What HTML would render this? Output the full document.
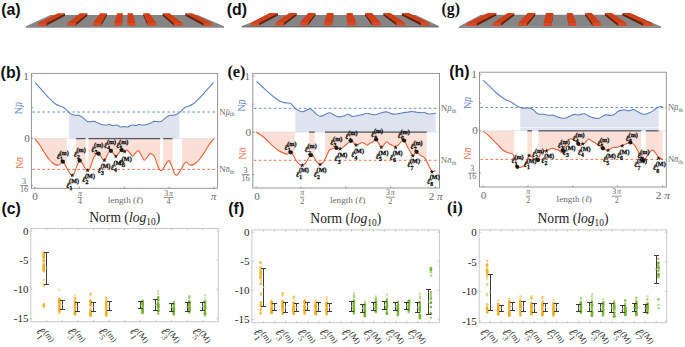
<!DOCTYPE html>
<html><head><meta charset="utf-8"><title>figure</title>
<style>html,body{margin:0;padding:0;background:#fff;width:685px;height:347px;overflow:hidden}svg{display:block}</style>
</head><body>
<svg width="685" height="347" viewBox="0 0 685 347">
<rect width="685" height="347" fill="#fff"/>
<polygon points="26,26.2 50.5,15.1 197.8,15.1 224,26.2" fill="#858585"/>
<rect x="26" y="26.2" width="198" height="1.4" fill="#6f6f6f"/>
<polygon points="46.3,23 46.3,25.8 65,15.8 65,13.2" fill="#6e1f0a"/>
<polygon points="37.8,23 57.9,13.2 65,13.2 46.3,23" fill="#d13f16"/>
<rect x="37.8" y="23" width="8.5" height="2.8" fill="#d94a26"/>
<polygon points="75.6,23 75.6,25.8 87.4,15.8 87.4,13.2" fill="#6e1f0a"/>
<polygon points="67.4,23 80,13.2 87.4,13.2 75.6,23" fill="#d13f16"/>
<rect x="67.4" y="23" width="8.2" height="2.8" fill="#d94a26"/>
<polygon points="101.2,23 101.2,25.8 106.8,15.8 106.8,13.2" fill="#6e1f0a"/>
<polygon points="93,23 100.2,13.2 106.8,13.2 101.2,23" fill="#d13f16"/>
<rect x="93" y="23" width="8.2" height="2.8" fill="#d94a26"/>
<polygon points="122.2,23 122.2,25.8 122.8,15.8 122.8,13.2" fill="#6e1f0a"/>
<polygon points="114.4,23 117.2,13.2 122.8,13.2 122.2,23" fill="#d13f16"/>
<rect x="114.4" y="23" width="7.8" height="2.8" fill="#d94a26"/>
<polygon points="127.5,23 127.5,25.8 127.6,15.8 127.6,13.2" fill="#6e1f0a"/>
<polygon points="127.5,23 127.6,13.2 132.8,13.2 135.4,23" fill="#d13f16"/>
<rect x="127.5" y="23" width="7.9" height="2.8" fill="#d94a26"/>
<polygon points="147.7,23 147.7,25.8 143.3,15.8 143.3,13.2" fill="#6e1f0a"/>
<polygon points="147.7,23 143.3,13.2 149.4,13.2 156.4,23" fill="#d13f16"/>
<rect x="147.7" y="23" width="8.7" height="2.8" fill="#d94a26"/>
<polygon points="174,23 174,25.8 162.6,15.8 162.6,13.2" fill="#6e1f0a"/>
<polygon points="174,23 162.6,13.2 169.6,13.2 182.7,23" fill="#d13f16"/>
<rect x="174" y="23" width="8.7" height="2.8" fill="#d94a26"/>
<polygon points="203.7,23 203.7,25.8 185.3,15.8 185.3,13.2" fill="#6e1f0a"/>
<polygon points="203.7,23 185.3,13.2 192.3,13.2 212,23" fill="#d13f16"/>
<rect x="203.7" y="23" width="8.3" height="2.8" fill="#d94a26"/>
<polygon points="241.9,26 271.3,14.9 415.8,14.9 438.8,26" fill="#858585"/>
<rect x="241.9" y="26" width="196.9" height="1.4" fill="#6f6f6f"/>
<polygon points="259.1,22.8 259.1,25.6 277.9,15.6 277.9,13" fill="#6e1f0a"/>
<polygon points="250.6,22.8 269.7,13 277.9,13 259.1,22.8" fill="#d13f16"/>
<rect x="250.6" y="22.8" width="8.5" height="2.8" fill="#d94a26"/>
<polygon points="283.6,22.8 283.6,25.6 296.7,15.6 296.7,13" fill="#6e1f0a"/>
<polygon points="275.4,22.8 289.3,13 296.7,13 283.6,22.8" fill="#d13f16"/>
<rect x="275.4" y="22.8" width="8.2" height="2.8" fill="#d94a26"/>
<polygon points="308.1,22.8 308.1,25.6 315.5,15.6 315.5,13" fill="#6e1f0a"/>
<polygon points="300,22.8 308.1,13 315.5,13 308.1,22.8" fill="#d13f16"/>
<rect x="300" y="22.8" width="8.1" height="2.8" fill="#d94a26"/>
<polygon points="332.6,22.8 332.6,25.6 333.5,15.6 333.5,13" fill="#6e1f0a"/>
<polygon points="324.1,22.8 326.9,13 333.5,13 332.6,22.8" fill="#d13f16"/>
<rect x="324.1" y="22.8" width="8.5" height="2.8" fill="#d94a26"/>
<polygon points="347.5,22.8 347.5,25.6 346.6,15.6 346.6,13" fill="#6e1f0a"/>
<polygon points="347.5,22.8 346.6,13 352.4,13 356.3,22.8" fill="#d13f16"/>
<rect x="347.5" y="22.8" width="8.8" height="2.8" fill="#d94a26"/>
<polygon points="372,22.8 372,25.6 365,15.6 365,13" fill="#6e1f0a"/>
<polygon points="372,22.8 365,13 372,13 380.8,22.8" fill="#d13f16"/>
<rect x="372" y="22.8" width="8.8" height="2.8" fill="#d94a26"/>
<polygon points="396.6,22.8 396.6,25.6 383.4,15.6 383.4,13" fill="#6e1f0a"/>
<polygon points="396.6,22.8 383.4,13 390.4,13 405.3,22.8" fill="#d13f16"/>
<rect x="396.6" y="22.8" width="8.7" height="2.8" fill="#d94a26"/>
<polygon points="421.1,22.8 421.1,25.6 401.8,15.6 401.8,13" fill="#6e1f0a"/>
<polygon points="421.1,22.8 401.8,13 408.8,13 429.9,22.8" fill="#d13f16"/>
<rect x="421.1" y="22.8" width="8.8" height="2.8" fill="#d94a26"/>
<polygon points="458.8,26.4 481,14.8 633.8,14.8 661,26.4" fill="#858585"/>
<rect x="458.8" y="26.4" width="202.2" height="1.4" fill="#6f6f6f"/>
<polygon points="476.5,23.2 476.5,26 496.4,15.5 496.4,12.9" fill="#6e1f0a"/>
<polygon points="466.4,23.2 487.9,12.9 496.4,12.9 476.5,23.2" fill="#d13f16"/>
<rect x="466.4" y="23.2" width="10.1" height="2.8" fill="#d94a26"/>
<polygon points="500.6,23.2 500.6,26 514.4,15.5 514.4,12.9" fill="#6e1f0a"/>
<polygon points="492.6,23.2 507.8,12.9 514.4,12.9 500.6,23.2" fill="#d13f16"/>
<rect x="492.6" y="23.2" width="8" height="2.8" fill="#d94a26"/>
<polygon points="526.8,23.2 526.8,26 535.3,15.5 535.3,12.9" fill="#6e1f0a"/>
<polygon points="518.2,23.2 527.7,12.9 535.3,12.9 526.8,23.2" fill="#d13f16"/>
<rect x="518.2" y="23.2" width="8.6" height="2.8" fill="#d94a26"/>
<polygon points="551.4,23.2 551.4,26 553.3,15.5 553.3,12.9" fill="#6e1f0a"/>
<polygon points="543.5,23.2 546.1,12.9 553.3,12.9 551.4,23.2" fill="#d13f16"/>
<rect x="543.5" y="23.2" width="7.9" height="2.8" fill="#d94a26"/>
<polygon points="568.7,23.2 568.7,26 566.9,15.5 566.9,12.9" fill="#6e1f0a"/>
<polygon points="568.7,23.2 566.9,12.9 572.5,12.9 576.4,23.2" fill="#d13f16"/>
<rect x="568.7" y="23.2" width="7.7" height="2.8" fill="#d94a26"/>
<polygon points="592.7,23.2 592.7,26 585.1,15.5 585.1,12.9" fill="#6e1f0a"/>
<polygon points="592.7,23.2 585.1,12.9 591.8,12.9 600.9,23.2" fill="#d13f16"/>
<rect x="592.7" y="23.2" width="8.2" height="2.8" fill="#d94a26"/>
<polygon points="618.1,23.2 618.1,26 604.9,15.5 604.9,12.9" fill="#6e1f0a"/>
<polygon points="618.1,23.2 604.9,12.9 611.9,12.9 626.8,23.2" fill="#d13f16"/>
<rect x="618.1" y="23.2" width="8.7" height="2.8" fill="#d94a26"/>
<polygon points="643.5,23.2 643.5,26 622.4,15.5 622.4,12.9" fill="#6e1f0a"/>
<polygon points="643.5,23.2 622.4,12.9 630.3,12.9 652.8,23.2" fill="#d13f16"/>
<rect x="643.5" y="23.2" width="9.3" height="2.8" fill="#d94a26"/>
<text x="1.2" y="14.7" font-family='"Liberation Sans", sans-serif' font-weight="bold" font-size="15.9" fill="#111">(a)</text>
<text x="226.8" y="14.5" font-family='"Liberation Sans", sans-serif' font-weight="bold" font-size="15.9" fill="#111">(d)</text>
<text x="441.6" y="13.8" font-family='"Liberation Serif", serif' font-weight="bold" font-size="15.8" fill="#111">(g)</text>
<text x="0.6" y="77.5" font-family='"Liberation Sans", sans-serif' font-weight="bold" font-size="15.9" fill="#111">(b)</text>
<text x="227.4" y="76.5" font-family='"Liberation Serif", serif' font-weight="bold" font-size="16.3" fill="#111">(e)</text>
<text x="449.3" y="77.3" font-family='"Liberation Sans", sans-serif' font-weight="bold" font-size="15.9" fill="#111">(h)</text>
<text x="1.4" y="214" font-family='"Liberation Sans", sans-serif' font-weight="bold" font-size="15.9" fill="#111">(c)</text>
<text x="228.3" y="214" font-family='"Liberation Sans", sans-serif' font-weight="bold" font-size="15.9" fill="#111">(f)</text>
<text x="447" y="213.2" font-family='"Liberation Serif", serif' font-weight="bold" font-size="16.6" fill="#111">(i)</text>
<defs><clipPath id="c1"><rect x="69" y="73.4" width="110.5" height="65.2"/></clipPath></defs>
<path d="M35,82.5 C35.85,83.43 38.42,86.22 40.1,88.1 C41.78,89.98 43.42,91.95 45.1,93.8 C46.78,95.65 48.52,97.55 50.2,99.2 C51.88,100.85 53.53,102.52 55.2,103.7 C56.87,104.88 58.85,105.7 60.2,106.3 C61.55,106.9 62.28,106.7 63.3,107.3 C64.32,107.9 65.3,108.97 66.3,109.9 C67.3,110.83 68.3,112.15 69.3,112.9 C70.3,113.65 71.12,113.98 72.3,114.4 C73.48,114.82 75.22,115.23 76.4,115.4 C77.58,115.57 78.4,115.07 79.4,115.4 C80.4,115.73 81.05,116.4 82.4,117.4 C83.75,118.4 86.15,120.7 87.5,121.4 C88.85,122.1 89.33,121.6 90.5,121.6 C91.67,121.6 93.33,121.2 94.5,121.4 C95.67,121.6 96.15,122.23 97.5,122.8 C98.85,123.37 101.08,124.43 102.6,124.8 C104.12,125.17 105.43,125.07 106.6,125 C107.77,124.93 108.58,124.3 109.6,124.4 C110.62,124.5 111.52,125.5 112.7,125.6 C113.88,125.7 115.37,124.77 116.7,125 C118.03,125.23 119.43,126.73 120.7,127 C121.97,127.27 123.1,126.6 124.3,126.6 C125.5,126.6 126.63,127.27 127.9,127 C129.17,126.73 130.57,125.23 131.9,125 C133.23,124.77 134.72,125.7 135.9,125.6 C137.08,125.5 137.98,124.5 139,124.4 C140.02,124.3 140.83,124.93 142,125 C143.17,125.07 144.48,125.17 146,124.8 C147.52,124.43 149.75,123.37 151.1,122.8 C152.45,122.23 152.93,121.6 154.1,121.4 C155.27,121.2 156.93,121.6 158.1,121.6 C159.27,121.6 159.75,122.1 161.1,121.4 C162.45,120.7 164.85,118.4 166.2,117.4 C167.55,116.4 168.2,115.73 169.2,115.4 C170.2,115.07 171.02,115.57 172.2,115.4 C173.38,115.23 175.12,114.82 176.3,114.4 C177.48,113.98 178.3,113.65 179.3,112.9 C180.3,112.15 181.3,110.83 182.3,109.9 C183.3,108.97 184.28,107.9 185.3,107.3 C186.32,106.7 187.05,106.9 188.4,106.3 C189.75,105.7 191.73,104.88 193.4,103.7 C195.07,102.52 196.72,100.85 198.4,99.2 C200.08,97.55 201.82,95.65 203.5,93.8 C205.18,91.95 206.82,89.98 208.5,88.1 C210.18,86.22 212.75,83.43 213.6,82.5 L213.6,138.6 L35,138.6 Z" fill="#dee4ef" clip-path="url(#c1)"/>
<defs><clipPath id="c2"><rect x="34.6" y="138.6" width="32" height="49.7"/><rect x="76.1" y="138.6" width="9.4" height="49.7"/><rect x="88.5" y="138.6" width="71.6" height="49.7"/><rect x="163.1" y="138.6" width="9.4" height="49.7"/><rect x="182" y="138.6" width="32" height="49.7"/></clipPath></defs>
<path d="M34.6,138.6 C35.15,139.23 36.87,141.03 37.9,142.4 C38.93,143.77 39.82,145.25 40.8,146.8 C41.78,148.35 42.82,150.15 43.8,151.7 C44.78,153.25 45.72,154.72 46.7,156.1 C47.68,157.48 48.72,158.85 49.7,160 C50.68,161.15 51.63,162.23 52.6,163 C53.57,163.77 54.6,164.25 55.5,164.6 C56.4,164.95 57.25,165.13 58,165.1 C58.75,165.07 59.32,164.92 60,164.4 C60.68,163.88 61.38,162.12 62.1,162 C62.82,161.88 63.55,162.73 64.3,163.7 C65.05,164.67 65.75,166.35 66.6,167.8 C67.45,169.25 68.47,171.15 69.4,172.4 C70.33,173.65 71.37,175.22 72.2,175.3 C73.03,175.38 73.65,174.38 74.4,172.9 C75.15,171.42 75.93,168.32 76.7,166.4 C77.47,164.48 78.45,162.33 79,161.4 C79.55,160.47 79.53,160.58 80,160.8 C80.47,161.02 81.03,161.62 81.8,162.7 C82.57,163.78 83.67,165.98 84.6,167.3 C85.53,168.62 86.57,170.37 87.4,170.6 C88.23,170.83 88.92,169.78 89.6,168.7 C90.28,167.62 90.88,165.78 91.5,164.1 C92.12,162.42 92.7,160.05 93.3,158.6 C93.9,157.15 94.48,156.17 95.1,155.4 C95.72,154.63 96.42,154.28 97,154 C97.58,153.72 97.85,153.15 98.6,153.7 C99.35,154.25 100.53,156.22 101.5,157.3 C102.47,158.38 103.43,160.55 104.4,160.2 C105.37,159.85 106.33,156.8 107.3,155.2 C108.27,153.6 109.23,150.97 110.2,150.6 C111.17,150.23 112.15,152.05 113.1,153 C114.05,153.95 114.95,156.3 115.9,156.3 C116.85,156.3 117.83,154.03 118.8,153 C119.77,151.97 120.78,150.33 121.7,150.1 C122.62,149.87 123.43,151.6 124.3,151.6 C125.17,151.6 125.98,149.87 126.9,150.1 C127.82,150.33 128.83,151.97 129.8,153 C130.77,154.03 131.75,156.3 132.7,156.3 C133.65,156.3 134.55,153.95 135.5,153 C136.45,152.05 137.43,150.23 138.4,150.6 C139.37,150.97 140.33,153.6 141.3,155.2 C142.27,156.8 143.23,159.85 144.2,160.2 C145.17,160.55 146.13,158.38 147.1,157.3 C148.07,156.22 149.25,154.25 150,153.7 C150.75,153.15 151.02,153.72 151.6,154 C152.18,154.28 152.88,154.63 153.5,155.4 C154.12,156.17 154.7,157.15 155.3,158.6 C155.9,160.05 156.48,162.42 157.1,164.1 C157.72,165.78 158.32,167.62 159,168.7 C159.68,169.78 160.37,170.83 161.2,170.6 C162.03,170.37 163.07,168.62 164,167.3 C164.93,165.98 166.03,163.78 166.8,162.7 C167.57,161.62 168.13,161.02 168.6,160.8 C169.07,160.58 169.05,160.47 169.6,161.4 C170.15,162.33 171.13,164.48 171.9,166.4 C172.67,168.32 173.45,171.42 174.2,172.9 C174.95,174.38 175.57,175.38 176.4,175.3 C177.23,175.22 178.27,173.65 179.2,172.4 C180.13,171.15 181.15,169.25 182,167.8 C182.85,166.35 183.55,164.67 184.3,163.7 C185.05,162.73 185.78,161.88 186.5,162 C187.22,162.12 187.92,163.88 188.6,164.4 C189.28,164.92 189.85,165.07 190.6,165.1 C191.35,165.13 192.2,164.95 193.1,164.6 C194,164.25 195.03,163.77 196,163 C196.97,162.23 197.92,161.15 198.9,160 C199.88,158.85 200.92,157.48 201.9,156.1 C202.88,154.72 203.82,153.25 204.8,151.7 C205.78,150.15 206.82,148.35 207.8,146.8 C208.78,145.25 209.67,143.77 210.7,142.4 C211.73,141.03 213.45,139.23 214,138.6 L214,138.6 L34.6,138.6 Z" fill="#fcdfd6" clip-path="url(#c2)"/>
<rect x="31.4" y="138.25" width="186.2" height="0.7" fill="#dcdcdc"/>
<rect x="76.1" y="137.95" width="9.4" height="1.3" fill="#565a60"/>
<rect x="88.5" y="137.95" width="71.6" height="1.3" fill="#565a60"/>
<rect x="163.1" y="137.95" width="9.4" height="1.3" fill="#565a60"/>
<line x1="32.4" y1="112" x2="217.6" y2="112" stroke="#5d81c2" stroke-width="0.9" stroke-dasharray="2.6,2.4"/>
<line x1="32.4" y1="169.4" x2="217.6" y2="169.4" stroke="#e8653a" stroke-width="0.9" stroke-dasharray="2.6,2.4"/>
<path d="M35,82.5 C35.85,83.43 38.42,86.22 40.1,88.1 C41.78,89.98 43.42,91.95 45.1,93.8 C46.78,95.65 48.52,97.55 50.2,99.2 C51.88,100.85 53.53,102.52 55.2,103.7 C56.87,104.88 58.85,105.7 60.2,106.3 C61.55,106.9 62.28,106.7 63.3,107.3 C64.32,107.9 65.3,108.97 66.3,109.9 C67.3,110.83 68.3,112.15 69.3,112.9 C70.3,113.65 71.12,113.98 72.3,114.4 C73.48,114.82 75.22,115.23 76.4,115.4 C77.58,115.57 78.4,115.07 79.4,115.4 C80.4,115.73 81.05,116.4 82.4,117.4 C83.75,118.4 86.15,120.7 87.5,121.4 C88.85,122.1 89.33,121.6 90.5,121.6 C91.67,121.6 93.33,121.2 94.5,121.4 C95.67,121.6 96.15,122.23 97.5,122.8 C98.85,123.37 101.08,124.43 102.6,124.8 C104.12,125.17 105.43,125.07 106.6,125 C107.77,124.93 108.58,124.3 109.6,124.4 C110.62,124.5 111.52,125.5 112.7,125.6 C113.88,125.7 115.37,124.77 116.7,125 C118.03,125.23 119.43,126.73 120.7,127 C121.97,127.27 123.1,126.6 124.3,126.6 C125.5,126.6 126.63,127.27 127.9,127 C129.17,126.73 130.57,125.23 131.9,125 C133.23,124.77 134.72,125.7 135.9,125.6 C137.08,125.5 137.98,124.5 139,124.4 C140.02,124.3 140.83,124.93 142,125 C143.17,125.07 144.48,125.17 146,124.8 C147.52,124.43 149.75,123.37 151.1,122.8 C152.45,122.23 152.93,121.6 154.1,121.4 C155.27,121.2 156.93,121.6 158.1,121.6 C159.27,121.6 159.75,122.1 161.1,121.4 C162.45,120.7 164.85,118.4 166.2,117.4 C167.55,116.4 168.2,115.73 169.2,115.4 C170.2,115.07 171.02,115.57 172.2,115.4 C173.38,115.23 175.12,114.82 176.3,114.4 C177.48,113.98 178.3,113.65 179.3,112.9 C180.3,112.15 181.3,110.83 182.3,109.9 C183.3,108.97 184.28,107.9 185.3,107.3 C186.32,106.7 187.05,106.9 188.4,106.3 C189.75,105.7 191.73,104.88 193.4,103.7 C195.07,102.52 196.72,100.85 198.4,99.2 C200.08,97.55 201.82,95.65 203.5,93.8 C205.18,91.95 206.82,89.98 208.5,88.1 C210.18,86.22 212.75,83.43 213.6,82.5" fill="none" stroke="#5d81c2" stroke-width="1.1" stroke-linejoin="round"/>
<path d="M34.6,138.6 C35.15,139.23 36.87,141.03 37.9,142.4 C38.93,143.77 39.82,145.25 40.8,146.8 C41.78,148.35 42.82,150.15 43.8,151.7 C44.78,153.25 45.72,154.72 46.7,156.1 C47.68,157.48 48.72,158.85 49.7,160 C50.68,161.15 51.63,162.23 52.6,163 C53.57,163.77 54.6,164.25 55.5,164.6 C56.4,164.95 57.25,165.13 58,165.1 C58.75,165.07 59.32,164.92 60,164.4 C60.68,163.88 61.38,162.12 62.1,162 C62.82,161.88 63.55,162.73 64.3,163.7 C65.05,164.67 65.75,166.35 66.6,167.8 C67.45,169.25 68.47,171.15 69.4,172.4 C70.33,173.65 71.37,175.22 72.2,175.3 C73.03,175.38 73.65,174.38 74.4,172.9 C75.15,171.42 75.93,168.32 76.7,166.4 C77.47,164.48 78.45,162.33 79,161.4 C79.55,160.47 79.53,160.58 80,160.8 C80.47,161.02 81.03,161.62 81.8,162.7 C82.57,163.78 83.67,165.98 84.6,167.3 C85.53,168.62 86.57,170.37 87.4,170.6 C88.23,170.83 88.92,169.78 89.6,168.7 C90.28,167.62 90.88,165.78 91.5,164.1 C92.12,162.42 92.7,160.05 93.3,158.6 C93.9,157.15 94.48,156.17 95.1,155.4 C95.72,154.63 96.42,154.28 97,154 C97.58,153.72 97.85,153.15 98.6,153.7 C99.35,154.25 100.53,156.22 101.5,157.3 C102.47,158.38 103.43,160.55 104.4,160.2 C105.37,159.85 106.33,156.8 107.3,155.2 C108.27,153.6 109.23,150.97 110.2,150.6 C111.17,150.23 112.15,152.05 113.1,153 C114.05,153.95 114.95,156.3 115.9,156.3 C116.85,156.3 117.83,154.03 118.8,153 C119.77,151.97 120.78,150.33 121.7,150.1 C122.62,149.87 123.43,151.6 124.3,151.6 C125.17,151.6 125.98,149.87 126.9,150.1 C127.82,150.33 128.83,151.97 129.8,153 C130.77,154.03 131.75,156.3 132.7,156.3 C133.65,156.3 134.55,153.95 135.5,153 C136.45,152.05 137.43,150.23 138.4,150.6 C139.37,150.97 140.33,153.6 141.3,155.2 C142.27,156.8 143.23,159.85 144.2,160.2 C145.17,160.55 146.13,158.38 147.1,157.3 C148.07,156.22 149.25,154.25 150,153.7 C150.75,153.15 151.02,153.72 151.6,154 C152.18,154.28 152.88,154.63 153.5,155.4 C154.12,156.17 154.7,157.15 155.3,158.6 C155.9,160.05 156.48,162.42 157.1,164.1 C157.72,165.78 158.32,167.62 159,168.7 C159.68,169.78 160.37,170.83 161.2,170.6 C162.03,170.37 163.07,168.62 164,167.3 C164.93,165.98 166.03,163.78 166.8,162.7 C167.57,161.62 168.13,161.02 168.6,160.8 C169.07,160.58 169.05,160.47 169.6,161.4 C170.15,162.33 171.13,164.48 171.9,166.4 C172.67,168.32 173.45,171.42 174.2,172.9 C174.95,174.38 175.57,175.38 176.4,175.3 C177.23,175.22 178.27,173.65 179.2,172.4 C180.13,171.15 181.15,169.25 182,167.8 C182.85,166.35 183.55,164.67 184.3,163.7 C185.05,162.73 185.78,161.88 186.5,162 C187.22,162.12 187.92,163.88 188.6,164.4 C189.28,164.92 189.85,165.07 190.6,165.1 C191.35,165.13 192.2,164.95 193.1,164.6 C194,164.25 195.03,163.77 196,163 C196.97,162.23 197.92,161.15 198.9,160 C199.88,158.85 200.92,157.48 201.9,156.1 C202.88,154.72 203.82,153.25 204.8,151.7 C205.78,150.15 206.82,148.35 207.8,146.8 C208.78,145.25 209.67,143.77 210.7,142.4 C211.73,141.03 213.45,139.23 214,138.6" fill="none" stroke="#e8653a" stroke-width="1.15" stroke-linejoin="round"/>
<rect x="31.4" y="73.4" width="186.2" height="114.9" fill="none" stroke="#8c8c8c" stroke-width="0.9"/>
<line x1="31.4" y1="76.1" x2="33" y2="76.1" stroke="#777" stroke-width="0.7"/>
<line x1="31.4" y1="107.3" x2="33" y2="107.3" stroke="#777" stroke-width="0.7"/>
<line x1="31.4" y1="138.6" x2="33" y2="138.6" stroke="#777" stroke-width="0.7"/>
<line x1="31.4" y1="185.6" x2="33" y2="185.6" stroke="#777" stroke-width="0.7"/>
<line x1="34.6" y1="188.3" x2="34.6" y2="186.7" stroke="#777" stroke-width="0.7"/>
<line x1="79.45" y1="188.3" x2="79.45" y2="186.7" stroke="#777" stroke-width="0.7"/>
<line x1="124.3" y1="188.3" x2="124.3" y2="186.7" stroke="#777" stroke-width="0.7"/>
<line x1="169.15" y1="188.3" x2="169.15" y2="186.7" stroke="#777" stroke-width="0.7"/>
<line x1="214" y1="188.3" x2="214" y2="186.7" stroke="#777" stroke-width="0.7"/>
<circle cx="62.9" cy="161.7" r="2.1" fill="#1a1a1a"/>
<circle cx="79.7" cy="160.6" r="2.1" fill="#1a1a1a"/>
<circle cx="98.6" cy="153.7" r="2.1" fill="#1a1a1a"/>
<circle cx="110.9" cy="150.8" r="2.1" fill="#1a1a1a"/>
<circle cx="121.7" cy="150.1" r="2.1" fill="#1a1a1a"/>
<polygon points="72.2,172.9 72.79,174.48 74.48,174.56 73.16,175.61 73.61,177.24 72.2,176.31 70.79,177.24 71.24,175.61 69.92,174.56 71.61,174.48" fill="#222"/>
<polygon points="87.6,167.9 88.19,169.48 89.88,169.56 88.56,170.61 89.01,172.24 87.6,171.31 86.19,172.24 86.64,170.61 85.32,169.56 87.01,169.48" fill="#222"/>
<polygon points="104.4,157.8 104.99,159.38 106.68,159.46 105.36,160.51 105.81,162.14 104.4,161.21 102.99,162.14 103.44,160.51 102.12,159.46 103.81,159.38" fill="#222"/>
<polygon points="115.9,153.9 116.49,155.48 118.18,155.56 116.86,156.61 117.31,158.24 115.9,157.31 114.49,158.24 114.94,156.61 113.62,155.56 115.31,155.48" fill="#222"/>
<polygon points="124.6,149.2 125.19,150.78 126.88,150.86 125.56,151.91 126.01,153.54 124.6,152.61 123.19,153.54 123.64,151.91 122.32,150.86 124.01,150.78" fill="#222"/>
<text x="56.9" y="159" font-family='"Liberation Serif", serif' font-style="italic" font-weight="bold" font-size="7.8" fill="#111" stroke="#111" stroke-width="0.28">&#8467;</text>
<text x="59.5" y="154.6" font-family='"Liberation Serif", serif' font-weight="bold" font-size="6.2" fill="#111" stroke="#111" stroke-width="0.28">(m)</text>
<text x="59.9" y="161.2" font-family='"Liberation Serif", serif' font-weight="bold" font-size="5.8" fill="#111" stroke="#111" stroke-width="0.28">1</text>
<text x="73.9" y="156.8" font-family='"Liberation Serif", serif' font-style="italic" font-weight="bold" font-size="7.8" fill="#111" stroke="#111" stroke-width="0.28">&#8467;</text>
<text x="76.5" y="152.4" font-family='"Liberation Serif", serif' font-weight="bold" font-size="6.2" fill="#111" stroke="#111" stroke-width="0.28">(m)</text>
<text x="76.9" y="159" font-family='"Liberation Serif", serif' font-weight="bold" font-size="5.8" fill="#111" stroke="#111" stroke-width="0.28">2</text>
<text x="91.5" y="151.6" font-family='"Liberation Serif", serif' font-style="italic" font-weight="bold" font-size="7.8" fill="#111" stroke="#111" stroke-width="0.28">&#8467;</text>
<text x="94.1" y="147.2" font-family='"Liberation Serif", serif' font-weight="bold" font-size="6.2" fill="#111" stroke="#111" stroke-width="0.28">(m)</text>
<text x="94.5" y="153.8" font-family='"Liberation Serif", serif' font-weight="bold" font-size="5.8" fill="#111" stroke="#111" stroke-width="0.28">3</text>
<text x="104.3" y="148" font-family='"Liberation Serif", serif' font-style="italic" font-weight="bold" font-size="7.8" fill="#111" stroke="#111" stroke-width="0.28">&#8467;</text>
<text x="106.9" y="143.6" font-family='"Liberation Serif", serif' font-weight="bold" font-size="6.2" fill="#111" stroke="#111" stroke-width="0.28">(m)</text>
<text x="107.3" y="150.2" font-family='"Liberation Serif", serif' font-weight="bold" font-size="5.8" fill="#111" stroke="#111" stroke-width="0.28">4</text>
<text x="116.5" y="148" font-family='"Liberation Serif", serif' font-style="italic" font-weight="bold" font-size="7.8" fill="#111" stroke="#111" stroke-width="0.28">&#8467;</text>
<text x="119.1" y="143.6" font-family='"Liberation Serif", serif' font-weight="bold" font-size="6.2" fill="#111" stroke="#111" stroke-width="0.28">(m)</text>
<text x="119.5" y="150.2" font-family='"Liberation Serif", serif' font-weight="bold" font-size="5.8" fill="#111" stroke="#111" stroke-width="0.28">5</text>
<text x="66.5" y="187.5" font-family='"Liberation Serif", serif' font-style="italic" font-weight="bold" font-size="7.8" fill="#111" stroke="#111" stroke-width="0.28">&#8467;</text>
<text x="69.1" y="183.1" font-family='"Liberation Serif", serif' font-weight="bold" font-size="6.2" fill="#111" stroke="#111" stroke-width="0.28">(M)</text>
<text x="69.5" y="189.7" font-family='"Liberation Serif", serif' font-weight="bold" font-size="5.8" fill="#111" stroke="#111" stroke-width="0.28">1</text>
<text x="82.4" y="182" font-family='"Liberation Serif", serif' font-style="italic" font-weight="bold" font-size="7.8" fill="#111" stroke="#111" stroke-width="0.28">&#8467;</text>
<text x="85" y="177.6" font-family='"Liberation Serif", serif' font-weight="bold" font-size="6.2" fill="#111" stroke="#111" stroke-width="0.28">(M)</text>
<text x="85.4" y="184.2" font-family='"Liberation Serif", serif' font-weight="bold" font-size="5.8" fill="#111" stroke="#111" stroke-width="0.28">2</text>
<text x="98.1" y="172.8" font-family='"Liberation Serif", serif' font-style="italic" font-weight="bold" font-size="7.8" fill="#111" stroke="#111" stroke-width="0.28">&#8467;</text>
<text x="100.7" y="168.4" font-family='"Liberation Serif", serif' font-weight="bold" font-size="6.2" fill="#111" stroke="#111" stroke-width="0.28">(M)</text>
<text x="101.1" y="175" font-family='"Liberation Serif", serif' font-weight="bold" font-size="5.8" fill="#111" stroke="#111" stroke-width="0.28">3</text>
<text x="110.9" y="169.8" font-family='"Liberation Serif", serif' font-style="italic" font-weight="bold" font-size="7.8" fill="#111" stroke="#111" stroke-width="0.28">&#8467;</text>
<text x="113.5" y="165.4" font-family='"Liberation Serif", serif' font-weight="bold" font-size="6.2" fill="#111" stroke="#111" stroke-width="0.28">(M)</text>
<text x="113.9" y="172" font-family='"Liberation Serif", serif' font-weight="bold" font-size="5.8" fill="#111" stroke="#111" stroke-width="0.28">4</text>
<text x="119.2" y="165" font-family='"Liberation Serif", serif' font-style="italic" font-weight="bold" font-size="7.8" fill="#111" stroke="#111" stroke-width="0.28">&#8467;</text>
<text x="121.8" y="160.6" font-family='"Liberation Serif", serif' font-weight="bold" font-size="6.2" fill="#111" stroke="#111" stroke-width="0.28">(M)</text>
<text x="122.2" y="167.2" font-family='"Liberation Serif", serif' font-weight="bold" font-size="5.8" fill="#111" stroke="#111" stroke-width="0.28">5</text>
<text x="28.8" y="79.7" text-anchor="end" font-family='"Liberation Serif", serif' font-size="11.2" fill="#6a6a6a">1</text>
<text x="29.8" y="142.2" text-anchor="end" font-family='"Liberation Serif", serif' font-size="11.2" fill="#6a6a6a">0</text>
<text x="24.1" y="183.9" text-anchor="middle" font-family='"Liberation Serif", serif' font-size="8.2" fill="#6a6a6a">3</text>
<text x="24.1" y="191.9" text-anchor="middle" font-family='"Liberation Serif", serif' font-size="8.2" fill="#6a6a6a">16</text>
<rect x="20.15" y="185.25" width="7.9" height="0.7" fill="#6a6a6a"/>
<g transform="translate(21.8,108.2) rotate(-90)"><text x="-6.11" y="0" font-family='"Liberation Serif", serif' font-size="10" fill="#6f8fca">N<tspan font-style="italic">&#956;</tspan></text><rect x="1.71" y="-6" width="3.8" height="0.7" fill="#6f8fca"/></g>
<g transform="translate(23.2,163) rotate(-90)"><text x="-6.11" y="0" font-family='"Liberation Serif", serif' font-size="10" fill="#ee7d58">N<tspan font-style="italic">&#963;</tspan></text><rect x="1.71" y="-6" width="3.8" height="0.7" fill="#ee7d58"/></g>
<text x="219.2" y="114.8" font-family='"Liberation Serif", serif' font-size="8.6" fill="#6a6a6a">N<tspan font-style="italic">&#956;</tspan><tspan font-size="6.02" dy="1.6">th</tspan></text>
<rect x="225.91" y="109.64" width="3.27" height="0.6" fill="#6a6a6a"/>
<text x="219.2" y="172.2" font-family='"Liberation Serif", serif' font-size="8.6" fill="#6a6a6a">N<tspan font-style="italic">&#963;</tspan><tspan font-size="6.02" dy="1.6">th</tspan></text>
<rect x="225.91" y="167.04" width="3.27" height="0.6" fill="#6a6a6a"/>
<text x="35" y="199.8" text-anchor="middle" font-family='"Liberation Serif", serif' font-size="11.2" fill="#6a6a6a">0</text>
<text x="79.9" y="195.5" text-anchor="middle" font-family='"Liberation Serif", serif' font-size="8" fill="#6a6a6a"><tspan font-style="italic">&#960;</tspan></text>
<text x="79.9" y="204.4" text-anchor="middle" font-family='"Liberation Serif", serif' font-size="8" fill="#6a6a6a">4</text>
<rect x="77.7" y="197.05" width="4.4" height="0.7" fill="#6a6a6a"/>
<text x="125.4" y="203.1" text-anchor="middle" font-family='"Liberation Serif", serif' font-size="9.2" fill="#6a6a6a">length (<tspan font-style="italic">&#8467;</tspan>)</text>
<text x="168.6" y="195.7" text-anchor="middle" font-family='"Liberation Serif", serif' font-size="8" fill="#6a6a6a">3<tspan font-style="italic" dx="0.8">&#960;</tspan></text>
<text x="168.6" y="204" text-anchor="middle" font-family='"Liberation Serif", serif' font-size="8" fill="#6a6a6a">4</text>
<rect x="163.75" y="197.05" width="9.7" height="0.7" fill="#6a6a6a"/>
<text x="213.5" y="199.8" text-anchor="middle" font-family='"Liberation Serif", serif' font-size="11.2" fill="#6a6a6a"><tspan font-style="italic">&#960;</tspan></text>
<defs><clipPath id="c3"><rect x="295.4" y="73.4" width="140.3" height="58.7"/></clipPath></defs>
<path d="M256.5,81.5 C257.43,82.33 260.17,84.72 262.1,86.5 C264.03,88.28 266.08,90.42 268.1,92.2 C270.12,93.98 272.18,95.7 274.2,97.2 C276.22,98.7 278.35,100.25 280.2,101.2 C282.05,102.15 283.62,102.55 285.3,102.9 C286.98,103.25 288.97,102.73 290.3,103.3 C291.63,103.87 292.28,105.3 293.3,106.3 C294.32,107.3 294.88,108.4 296.4,109.3 C297.92,110.2 300.72,111.53 302.4,111.7 C304.08,111.87 305.22,110.8 306.5,110.3 C307.78,109.8 308.93,108.53 310.1,108.7 C311.27,108.87 312.43,110.35 313.5,111.3 C314.57,112.25 315.32,113.55 316.5,114.4 C317.68,115.25 319.25,116.33 320.6,116.4 C321.95,116.47 323.1,115.42 324.6,114.8 C326.1,114.18 328.08,112.7 329.6,112.7 C331.12,112.7 332.18,114.12 333.7,114.8 C335.22,115.48 337.02,116.6 338.7,116.8 C340.38,117 342.3,116.43 343.8,116 C345.3,115.57 346.28,114.13 347.7,114.2 C349.12,114.27 350.77,116.13 352.3,116.4 C353.83,116.67 355.37,116.07 356.9,115.8 C358.43,115.53 359.85,115.22 361.5,114.8 C363.15,114.38 365.27,113.4 366.8,113.3 C368.33,113.2 369.28,113.95 370.7,114.2 C372.12,114.45 373.77,114.95 375.3,114.8 C376.83,114.65 378.12,113.78 379.9,113.3 C381.68,112.82 384.48,112 386,111.9 C387.52,111.8 387.73,112.33 389,112.7 C390.27,113.07 392.07,113.92 393.6,114.1 C395.13,114.28 396.67,114.03 398.2,113.8 C399.73,113.57 401.27,112.97 402.8,112.7 C404.33,112.43 405.87,112.4 407.4,112.2 C408.93,112 410.47,111.5 412,111.5 C413.53,111.5 415.07,112 416.6,112.2 C418.13,112.4 419.92,112.7 421.2,112.7 C422.48,112.7 423.27,112.02 424.3,112.2 C425.33,112.38 426.12,113.53 427.4,113.8 C428.68,114.07 430.6,113.93 432,113.8 C433.4,113.67 435.17,113.13 435.8,113 L435.8,132.1 L256.5,132.1 Z" fill="#dee4ef" clip-path="url(#c3)"/>
<defs><clipPath id="c4"><rect x="256" y="132.1" width="39" height="55.9"/><rect x="309.1" y="132.1" width="5.6" height="55.9"/><rect x="325" y="132.1" width="101.7" height="55.9"/></clipPath></defs>
<path d="M256,132.1 C256.88,132.63 259.48,133.98 261.3,135.3 C263.12,136.62 265.03,138.28 266.9,140 C268.77,141.72 270.63,143.88 272.5,145.6 C274.37,147.32 276.22,149.05 278.1,150.3 C279.98,151.55 282.23,152.47 283.8,153.1 C285.37,153.73 286.42,154.15 287.5,154.1 C288.58,154.05 289.37,152.65 290.3,152.8 C291.23,152.95 292,153.53 293.1,155 C294.2,156.47 295.8,160.03 296.9,161.6 C298,163.17 298.83,163.78 299.7,164.4 C300.57,165.02 301.17,165.47 302.1,165.3 C303.03,165.13 304.3,164.48 305.3,163.4 C306.3,162.32 307.17,160.27 308.1,158.8 C309.03,157.33 309.95,154.92 310.9,154.6 C311.85,154.28 312.85,155.73 313.8,156.9 C314.75,158.07 315.67,160.42 316.6,161.6 C317.53,162.78 318.78,163.53 319.4,164 C320.02,164.47 319.68,164.65 320.3,164.4 C320.92,164.15 322.23,163.48 323.1,162.5 C323.97,161.52 324.75,160 325.5,158.5 C326.25,157 326.92,154.93 327.6,153.5 C328.28,152.07 328.83,150.67 329.6,149.9 C330.37,149.13 331.35,149.18 332.2,148.9 C333.05,148.62 333.93,148.28 334.7,148.2 C335.47,148.12 335.87,148.28 336.8,148.4 C337.73,148.52 339.28,149.07 340.3,148.9 C341.32,148.73 341.87,148.17 342.9,147.4 C343.93,146.63 345.4,145.23 346.5,144.3 C347.6,143.37 348.65,142.4 349.5,141.8 C350.35,141.2 350.83,140.45 351.6,140.7 C352.37,140.95 353.25,142.53 354.1,143.3 C354.95,144.07 355.85,145.22 356.7,145.3 C357.55,145.38 358.27,144.27 359.2,143.8 C360.13,143.33 361.35,142.5 362.3,142.5 C363.25,142.5 364.05,143.37 364.9,143.8 C365.75,144.23 366.55,145.18 367.4,145.1 C368.25,145.02 369.07,143.85 370,143.3 C370.93,142.75 371.98,142.4 373,141.8 C374.02,141.2 375.07,139.28 376.1,139.7 C377.13,140.12 378.27,143.02 379.2,144.3 C380.13,145.58 380.85,147.4 381.7,147.4 C382.55,147.4 383.45,145.23 384.3,144.3 C385.15,143.37 385.95,141.83 386.8,141.8 C387.65,141.77 388.47,143.52 389.4,144.1 C390.33,144.68 391.38,144.88 392.4,145.3 C393.42,145.72 394.27,146.92 395.5,146.6 C396.73,146.28 398.43,144.48 399.8,143.4 C401.17,142.32 402.25,139.2 403.7,140.1 C405.15,141 406.98,146.27 408.5,148.8 C410.02,151.33 411.5,154.77 412.8,155.3 C414.1,155.83 415.03,152 416.3,152 C417.57,152 419.18,154.47 420.4,155.3 C421.62,156.13 422.7,156.28 423.6,157 C424.5,157.72 424.9,158.08 425.8,159.6 C426.7,161.12 427.92,164.12 429,166.1 C430.08,168.08 431.22,170.78 432.3,171.5 C433.38,172.22 434.97,170.58 435.5,170.4 L435.5,132.1 L256,132.1 Z" fill="#fcdfd6" clip-path="url(#c4)"/>
<rect x="252.8" y="131.75" width="186.7" height="0.7" fill="#dcdcdc"/>
<rect x="309.1" y="131.45" width="5.6" height="1.3" fill="#565a60"/>
<rect x="325" y="131.45" width="101.7" height="1.3" fill="#565a60"/>
<line x1="253.8" y1="108.3" x2="439.5" y2="108.3" stroke="#5d81c2" stroke-width="0.9" stroke-dasharray="2.6,2.4"/>
<line x1="253.8" y1="160.3" x2="439.5" y2="160.3" stroke="#e8653a" stroke-width="0.9" stroke-dasharray="2.6,2.4"/>
<path d="M256.5,81.5 C257.43,82.33 260.17,84.72 262.1,86.5 C264.03,88.28 266.08,90.42 268.1,92.2 C270.12,93.98 272.18,95.7 274.2,97.2 C276.22,98.7 278.35,100.25 280.2,101.2 C282.05,102.15 283.62,102.55 285.3,102.9 C286.98,103.25 288.97,102.73 290.3,103.3 C291.63,103.87 292.28,105.3 293.3,106.3 C294.32,107.3 294.88,108.4 296.4,109.3 C297.92,110.2 300.72,111.53 302.4,111.7 C304.08,111.87 305.22,110.8 306.5,110.3 C307.78,109.8 308.93,108.53 310.1,108.7 C311.27,108.87 312.43,110.35 313.5,111.3 C314.57,112.25 315.32,113.55 316.5,114.4 C317.68,115.25 319.25,116.33 320.6,116.4 C321.95,116.47 323.1,115.42 324.6,114.8 C326.1,114.18 328.08,112.7 329.6,112.7 C331.12,112.7 332.18,114.12 333.7,114.8 C335.22,115.48 337.02,116.6 338.7,116.8 C340.38,117 342.3,116.43 343.8,116 C345.3,115.57 346.28,114.13 347.7,114.2 C349.12,114.27 350.77,116.13 352.3,116.4 C353.83,116.67 355.37,116.07 356.9,115.8 C358.43,115.53 359.85,115.22 361.5,114.8 C363.15,114.38 365.27,113.4 366.8,113.3 C368.33,113.2 369.28,113.95 370.7,114.2 C372.12,114.45 373.77,114.95 375.3,114.8 C376.83,114.65 378.12,113.78 379.9,113.3 C381.68,112.82 384.48,112 386,111.9 C387.52,111.8 387.73,112.33 389,112.7 C390.27,113.07 392.07,113.92 393.6,114.1 C395.13,114.28 396.67,114.03 398.2,113.8 C399.73,113.57 401.27,112.97 402.8,112.7 C404.33,112.43 405.87,112.4 407.4,112.2 C408.93,112 410.47,111.5 412,111.5 C413.53,111.5 415.07,112 416.6,112.2 C418.13,112.4 419.92,112.7 421.2,112.7 C422.48,112.7 423.27,112.02 424.3,112.2 C425.33,112.38 426.12,113.53 427.4,113.8 C428.68,114.07 430.6,113.93 432,113.8 C433.4,113.67 435.17,113.13 435.8,113" fill="none" stroke="#5d81c2" stroke-width="1.1" stroke-linejoin="round"/>
<path d="M256,132.1 C256.88,132.63 259.48,133.98 261.3,135.3 C263.12,136.62 265.03,138.28 266.9,140 C268.77,141.72 270.63,143.88 272.5,145.6 C274.37,147.32 276.22,149.05 278.1,150.3 C279.98,151.55 282.23,152.47 283.8,153.1 C285.37,153.73 286.42,154.15 287.5,154.1 C288.58,154.05 289.37,152.65 290.3,152.8 C291.23,152.95 292,153.53 293.1,155 C294.2,156.47 295.8,160.03 296.9,161.6 C298,163.17 298.83,163.78 299.7,164.4 C300.57,165.02 301.17,165.47 302.1,165.3 C303.03,165.13 304.3,164.48 305.3,163.4 C306.3,162.32 307.17,160.27 308.1,158.8 C309.03,157.33 309.95,154.92 310.9,154.6 C311.85,154.28 312.85,155.73 313.8,156.9 C314.75,158.07 315.67,160.42 316.6,161.6 C317.53,162.78 318.78,163.53 319.4,164 C320.02,164.47 319.68,164.65 320.3,164.4 C320.92,164.15 322.23,163.48 323.1,162.5 C323.97,161.52 324.75,160 325.5,158.5 C326.25,157 326.92,154.93 327.6,153.5 C328.28,152.07 328.83,150.67 329.6,149.9 C330.37,149.13 331.35,149.18 332.2,148.9 C333.05,148.62 333.93,148.28 334.7,148.2 C335.47,148.12 335.87,148.28 336.8,148.4 C337.73,148.52 339.28,149.07 340.3,148.9 C341.32,148.73 341.87,148.17 342.9,147.4 C343.93,146.63 345.4,145.23 346.5,144.3 C347.6,143.37 348.65,142.4 349.5,141.8 C350.35,141.2 350.83,140.45 351.6,140.7 C352.37,140.95 353.25,142.53 354.1,143.3 C354.95,144.07 355.85,145.22 356.7,145.3 C357.55,145.38 358.27,144.27 359.2,143.8 C360.13,143.33 361.35,142.5 362.3,142.5 C363.25,142.5 364.05,143.37 364.9,143.8 C365.75,144.23 366.55,145.18 367.4,145.1 C368.25,145.02 369.07,143.85 370,143.3 C370.93,142.75 371.98,142.4 373,141.8 C374.02,141.2 375.07,139.28 376.1,139.7 C377.13,140.12 378.27,143.02 379.2,144.3 C380.13,145.58 380.85,147.4 381.7,147.4 C382.55,147.4 383.45,145.23 384.3,144.3 C385.15,143.37 385.95,141.83 386.8,141.8 C387.65,141.77 388.47,143.52 389.4,144.1 C390.33,144.68 391.38,144.88 392.4,145.3 C393.42,145.72 394.27,146.92 395.5,146.6 C396.73,146.28 398.43,144.48 399.8,143.4 C401.17,142.32 402.25,139.2 403.7,140.1 C405.15,141 406.98,146.27 408.5,148.8 C410.02,151.33 411.5,154.77 412.8,155.3 C414.1,155.83 415.03,152 416.3,152 C417.57,152 419.18,154.47 420.4,155.3 C421.62,156.13 422.7,156.28 423.6,157 C424.5,157.72 424.9,158.08 425.8,159.6 C426.7,161.12 427.92,164.12 429,166.1 C430.08,168.08 431.22,170.78 432.3,171.5 C433.38,172.22 434.97,170.58 435.5,170.4" fill="none" stroke="#e8653a" stroke-width="1.15" stroke-linejoin="round"/>
<rect x="252.8" y="73.4" width="186.7" height="114.6" fill="none" stroke="#8c8c8c" stroke-width="0.9"/>
<line x1="252.8" y1="76.1" x2="254.4" y2="76.1" stroke="#777" stroke-width="0.7"/>
<line x1="252.8" y1="104.2" x2="254.4" y2="104.2" stroke="#777" stroke-width="0.7"/>
<line x1="252.8" y1="132.1" x2="254.4" y2="132.1" stroke="#777" stroke-width="0.7"/>
<line x1="252.8" y1="174.7" x2="254.4" y2="174.7" stroke="#777" stroke-width="0.7"/>
<line x1="256" y1="188" x2="256" y2="186.4" stroke="#777" stroke-width="0.7"/>
<line x1="300.9" y1="188" x2="300.9" y2="186.4" stroke="#777" stroke-width="0.7"/>
<line x1="345.75" y1="188" x2="345.75" y2="186.4" stroke="#777" stroke-width="0.7"/>
<line x1="390.6" y1="188" x2="390.6" y2="186.4" stroke="#777" stroke-width="0.7"/>
<line x1="435.5" y1="188" x2="435.5" y2="186.4" stroke="#777" stroke-width="0.7"/>
<circle cx="290.8" cy="152.3" r="2.1" fill="#1a1a1a"/>
<circle cx="311" cy="155.2" r="2.1" fill="#1a1a1a"/>
<circle cx="336.5" cy="148" r="2.1" fill="#1a1a1a"/>
<circle cx="350.9" cy="140.8" r="2.1" fill="#1a1a1a"/>
<circle cx="376.2" cy="139.4" r="2.1" fill="#1a1a1a"/>
<circle cx="404.2" cy="140.6" r="2.1" fill="#1a1a1a"/>
<circle cx="416.6" cy="151.8" r="2.1" fill="#1a1a1a"/>
<polygon points="302.3,162.9 302.89,164.48 304.58,164.56 303.26,165.61 303.71,167.24 302.3,166.31 300.89,167.24 301.34,165.61 300.02,164.56 301.71,164.48" fill="#222"/>
<polygon points="320,162.1 320.59,163.68 322.28,163.76 320.96,164.81 321.41,166.44 320,165.51 318.59,166.44 319.04,164.81 317.72,163.76 319.41,163.68" fill="#222"/>
<polygon points="340.1,146.3 340.69,147.88 342.38,147.96 341.06,149.01 341.51,150.64 340.1,149.71 338.69,150.64 339.14,149.01 337.82,147.96 339.51,147.88" fill="#222"/>
<polygon points="356,142.7 356.59,144.28 358.28,144.36 356.96,145.41 357.41,147.04 356,146.11 354.59,147.04 355.04,145.41 353.72,144.36 355.41,144.28" fill="#222"/>
<polygon points="381.2,144.9 381.79,146.48 383.48,146.56 382.16,147.61 382.61,149.24 381.2,148.31 379.79,149.24 380.24,147.61 378.92,146.56 380.61,146.48" fill="#222"/>
<polygon points="395.6,145.1 396.19,146.68 397.88,146.76 396.56,147.81 397.01,149.44 395.6,148.51 394.19,149.44 394.64,147.81 393.32,146.76 395.01,146.68" fill="#222"/>
<polygon points="412.8,153.4 413.39,154.98 415.08,155.06 413.76,156.11 414.21,157.74 412.8,156.81 411.39,157.74 411.84,156.11 410.52,155.06 412.21,154.98" fill="#222"/>
<polygon points="431.9,169.3 432.49,170.88 434.18,170.96 432.86,172.01 433.31,173.64 431.9,172.71 430.49,173.64 430.94,172.01 429.62,170.96 431.31,170.88" fill="#222"/>
<text x="284.7" y="150.1" font-family='"Liberation Serif", serif' font-style="italic" font-weight="bold" font-size="7.8" fill="#111" stroke="#111" stroke-width="0.28">&#8467;</text>
<text x="287.3" y="145.7" font-family='"Liberation Serif", serif' font-weight="bold" font-size="6.2" fill="#111" stroke="#111" stroke-width="0.28">(m)</text>
<text x="287.7" y="152.3" font-family='"Liberation Serif", serif' font-weight="bold" font-size="5.8" fill="#111" stroke="#111" stroke-width="0.28">1</text>
<text x="304.9" y="152.3" font-family='"Liberation Serif", serif' font-style="italic" font-weight="bold" font-size="7.8" fill="#111" stroke="#111" stroke-width="0.28">&#8467;</text>
<text x="307.5" y="147.9" font-family='"Liberation Serif", serif' font-weight="bold" font-size="6.2" fill="#111" stroke="#111" stroke-width="0.28">(m)</text>
<text x="307.9" y="154.5" font-family='"Liberation Serif", serif' font-weight="bold" font-size="5.8" fill="#111" stroke="#111" stroke-width="0.28">2</text>
<text x="330.5" y="145.1" font-family='"Liberation Serif", serif' font-style="italic" font-weight="bold" font-size="7.8" fill="#111" stroke="#111" stroke-width="0.28">&#8467;</text>
<text x="333.1" y="140.7" font-family='"Liberation Serif", serif' font-weight="bold" font-size="6.2" fill="#111" stroke="#111" stroke-width="0.28">(m)</text>
<text x="333.5" y="147.3" font-family='"Liberation Serif", serif' font-weight="bold" font-size="5.8" fill="#111" stroke="#111" stroke-width="0.28">3</text>
<text x="345.6" y="139.4" font-family='"Liberation Serif", serif' font-style="italic" font-weight="bold" font-size="7.8" fill="#111" stroke="#111" stroke-width="0.28">&#8467;</text>
<text x="348.2" y="135" font-family='"Liberation Serif", serif' font-weight="bold" font-size="6.2" fill="#111" stroke="#111" stroke-width="0.28">(m)</text>
<text x="348.6" y="141.6" font-family='"Liberation Serif", serif' font-weight="bold" font-size="5.8" fill="#111" stroke="#111" stroke-width="0.28">4</text>
<text x="371.3" y="137.3" font-family='"Liberation Serif", serif' font-style="italic" font-weight="bold" font-size="7.8" fill="#111" stroke="#111" stroke-width="0.28">&#8467;</text>
<text x="373.9" y="132.9" font-family='"Liberation Serif", serif' font-weight="bold" font-size="6.2" fill="#111" stroke="#111" stroke-width="0.28">(m)</text>
<text x="374.3" y="139.5" font-family='"Liberation Serif", serif' font-weight="bold" font-size="5.8" fill="#111" stroke="#111" stroke-width="0.28">5</text>
<text x="397.9" y="138" font-family='"Liberation Serif", serif' font-style="italic" font-weight="bold" font-size="7.8" fill="#111" stroke="#111" stroke-width="0.28">&#8467;</text>
<text x="400.5" y="133.6" font-family='"Liberation Serif", serif' font-weight="bold" font-size="6.2" fill="#111" stroke="#111" stroke-width="0.28">(m)</text>
<text x="400.9" y="140.2" font-family='"Liberation Serif", serif' font-weight="bold" font-size="5.8" fill="#111" stroke="#111" stroke-width="0.28">6</text>
<text x="410.8" y="149.2" font-family='"Liberation Serif", serif' font-style="italic" font-weight="bold" font-size="7.8" fill="#111" stroke="#111" stroke-width="0.28">&#8467;</text>
<text x="413.4" y="144.8" font-family='"Liberation Serif", serif' font-weight="bold" font-size="6.2" fill="#111" stroke="#111" stroke-width="0.28">(m)</text>
<text x="413.8" y="151.4" font-family='"Liberation Serif", serif' font-weight="bold" font-size="5.8" fill="#111" stroke="#111" stroke-width="0.28">7</text>
<text x="296.3" y="176.8" font-family='"Liberation Serif", serif' font-style="italic" font-weight="bold" font-size="7.8" fill="#111" stroke="#111" stroke-width="0.28">&#8467;</text>
<text x="298.9" y="172.4" font-family='"Liberation Serif", serif' font-weight="bold" font-size="6.2" fill="#111" stroke="#111" stroke-width="0.28">(M)</text>
<text x="299.3" y="179" font-family='"Liberation Serif", serif' font-weight="bold" font-size="5.8" fill="#111" stroke="#111" stroke-width="0.28">1</text>
<text x="314" y="176.8" font-family='"Liberation Serif", serif' font-style="italic" font-weight="bold" font-size="7.8" fill="#111" stroke="#111" stroke-width="0.28">&#8467;</text>
<text x="316.6" y="172.4" font-family='"Liberation Serif", serif' font-weight="bold" font-size="6.2" fill="#111" stroke="#111" stroke-width="0.28">(M)</text>
<text x="317" y="179" font-family='"Liberation Serif", serif' font-weight="bold" font-size="5.8" fill="#111" stroke="#111" stroke-width="0.28">2</text>
<text x="334.8" y="161.3" font-family='"Liberation Serif", serif' font-style="italic" font-weight="bold" font-size="7.8" fill="#111" stroke="#111" stroke-width="0.28">&#8467;</text>
<text x="337.4" y="156.9" font-family='"Liberation Serif", serif' font-weight="bold" font-size="6.2" fill="#111" stroke="#111" stroke-width="0.28">(M)</text>
<text x="337.8" y="163.5" font-family='"Liberation Serif", serif' font-weight="bold" font-size="5.8" fill="#111" stroke="#111" stroke-width="0.28">3</text>
<text x="351.4" y="157.4" font-family='"Liberation Serif", serif' font-style="italic" font-weight="bold" font-size="7.8" fill="#111" stroke="#111" stroke-width="0.28">&#8467;</text>
<text x="354" y="153" font-family='"Liberation Serif", serif' font-weight="bold" font-size="6.2" fill="#111" stroke="#111" stroke-width="0.28">(M)</text>
<text x="354.4" y="159.6" font-family='"Liberation Serif", serif' font-weight="bold" font-size="5.8" fill="#111" stroke="#111" stroke-width="0.28">4</text>
<text x="375.9" y="159.1" font-family='"Liberation Serif", serif' font-style="italic" font-weight="bold" font-size="7.8" fill="#111" stroke="#111" stroke-width="0.28">&#8467;</text>
<text x="378.5" y="154.7" font-family='"Liberation Serif", serif' font-weight="bold" font-size="6.2" fill="#111" stroke="#111" stroke-width="0.28">(M)</text>
<text x="378.9" y="161.3" font-family='"Liberation Serif", serif' font-weight="bold" font-size="5.8" fill="#111" stroke="#111" stroke-width="0.28">5</text>
<text x="390.1" y="159.6" font-family='"Liberation Serif", serif' font-style="italic" font-weight="bold" font-size="7.8" fill="#111" stroke="#111" stroke-width="0.28">&#8467;</text>
<text x="392.7" y="155.2" font-family='"Liberation Serif", serif' font-weight="bold" font-size="6.2" fill="#111" stroke="#111" stroke-width="0.28">(M)</text>
<text x="393.1" y="161.8" font-family='"Liberation Serif", serif' font-weight="bold" font-size="5.8" fill="#111" stroke="#111" stroke-width="0.28">6</text>
<text x="407.4" y="167.4" font-family='"Liberation Serif", serif' font-style="italic" font-weight="bold" font-size="7.8" fill="#111" stroke="#111" stroke-width="0.28">&#8467;</text>
<text x="410" y="163" font-family='"Liberation Serif", serif' font-weight="bold" font-size="6.2" fill="#111" stroke="#111" stroke-width="0.28">(M)</text>
<text x="410.4" y="169.6" font-family='"Liberation Serif", serif' font-weight="bold" font-size="5.8" fill="#111" stroke="#111" stroke-width="0.28">7</text>
<text x="427.2" y="183.8" font-family='"Liberation Serif", serif' font-style="italic" font-weight="bold" font-size="7.8" fill="#111" stroke="#111" stroke-width="0.28">&#8467;</text>
<text x="429.8" y="179.4" font-family='"Liberation Serif", serif' font-weight="bold" font-size="6.2" fill="#111" stroke="#111" stroke-width="0.28">(M)</text>
<text x="430.2" y="186" font-family='"Liberation Serif", serif' font-weight="bold" font-size="5.8" fill="#111" stroke="#111" stroke-width="0.28">8</text>
<text x="250.2" y="79.7" text-anchor="end" font-family='"Liberation Serif", serif' font-size="11.2" fill="#6a6a6a">1</text>
<text x="251.2" y="135.7" text-anchor="end" font-family='"Liberation Serif", serif' font-size="11.2" fill="#6a6a6a">0</text>
<text x="245.5" y="173" text-anchor="middle" font-family='"Liberation Serif", serif' font-size="8.2" fill="#6a6a6a">3</text>
<text x="245.5" y="181" text-anchor="middle" font-family='"Liberation Serif", serif' font-size="8.2" fill="#6a6a6a">16</text>
<rect x="241.55" y="174.35" width="7.9" height="0.7" fill="#6a6a6a"/>
<g transform="translate(245.2,105.5) rotate(-90)"><text x="-6.11" y="0" font-family='"Liberation Serif", serif' font-size="10" fill="#6f8fca">N<tspan font-style="italic">&#956;</tspan></text><rect x="1.71" y="-6" width="3.8" height="0.7" fill="#6f8fca"/></g>
<g transform="translate(245.7,153.5) rotate(-90)"><text x="-6.11" y="0" font-family='"Liberation Serif", serif' font-size="10" fill="#ee7d58">N<tspan font-style="italic">&#963;</tspan></text><rect x="1.71" y="-6" width="3.8" height="0.7" fill="#ee7d58"/></g>
<text x="441.1" y="111.1" font-family='"Liberation Serif", serif' font-size="8.6" fill="#6a6a6a">N<tspan font-style="italic">&#956;</tspan><tspan font-size="6.02" dy="1.6">th</tspan></text>
<rect x="447.81" y="105.94" width="3.27" height="0.6" fill="#6a6a6a"/>
<text x="441.1" y="163.1" font-family='"Liberation Serif", serif' font-size="8.6" fill="#6a6a6a">N<tspan font-style="italic">&#963;</tspan><tspan font-size="6.02" dy="1.6">th</tspan></text>
<rect x="447.81" y="157.94" width="3.27" height="0.6" fill="#6a6a6a"/>
<text x="257" y="199.5" text-anchor="middle" font-family='"Liberation Serif", serif' font-size="11.2" fill="#6a6a6a">0</text>
<text x="302.2" y="195.2" text-anchor="middle" font-family='"Liberation Serif", serif' font-size="8" fill="#6a6a6a"><tspan font-style="italic">&#960;</tspan></text>
<text x="302.2" y="204.1" text-anchor="middle" font-family='"Liberation Serif", serif' font-size="8" fill="#6a6a6a">2</text>
<rect x="300" y="196.75" width="4.4" height="0.7" fill="#6a6a6a"/>
<text x="347.6" y="202.8" text-anchor="middle" font-family='"Liberation Serif", serif' font-size="9.2" fill="#6a6a6a">length (<tspan font-style="italic">&#8467;</tspan>)</text>
<text x="390.3" y="195.4" text-anchor="middle" font-family='"Liberation Serif", serif' font-size="8" fill="#6a6a6a">3<tspan font-style="italic" dx="0.8">&#960;</tspan></text>
<text x="390.3" y="203.7" text-anchor="middle" font-family='"Liberation Serif", serif' font-size="8" fill="#6a6a6a">2</text>
<rect x="385.45" y="196.75" width="9.7" height="0.7" fill="#6a6a6a"/>
<text x="435.7" y="199.5" text-anchor="middle" font-family='"Liberation Serif", serif' font-size="11.2" fill="#6a6a6a">2 <tspan font-style="italic">&#960;</tspan></text>
<defs><clipPath id="c5"><rect x="520.2" y="72.2" width="138.4" height="58.6"/></clipPath></defs>
<path d="M483.2,80.3 C484.2,81.23 487.25,84.03 489.2,85.9 C491.15,87.77 493.02,89.78 494.9,91.5 C496.78,93.22 498.63,94.78 500.5,96.2 C502.37,97.62 504.47,99.1 506.1,100 C507.73,100.9 508.92,100.9 510.3,101.6 C511.68,102.3 513.03,103.33 514.4,104.2 C515.77,105.07 517.13,106.15 518.5,106.8 C519.87,107.45 521.4,107.9 522.6,108.1 C523.8,108.3 524.52,108 525.7,108 C526.88,108 528.43,107.8 529.7,108.1 C530.97,108.4 532.27,109.08 533.3,109.8 C534.33,110.52 534.95,111.67 535.9,112.4 C536.85,113.13 537.65,113.9 539,114.2 C540.35,114.5 542.48,114.03 544,114.2 C545.52,114.37 546.57,115.03 548.1,115.2 C549.63,115.37 551.83,114.98 553.2,115.2 C554.57,115.42 555.27,116.12 556.3,116.5 C557.33,116.88 557.93,117.2 559.4,117.5 C560.87,117.8 563.47,118.47 565.1,118.3 C566.73,118.13 567.67,117.15 569.2,116.5 C570.73,115.85 572.85,114.62 574.3,114.4 C575.75,114.18 576.88,115.2 577.9,115.2 C578.92,115.2 579.3,114.65 580.4,114.4 C581.5,114.15 583.3,113.53 584.5,113.7 C585.7,113.87 586.4,114.8 587.6,115.4 C588.8,116 590.33,116.82 591.7,117.3 C593.07,117.78 594.53,118.13 595.8,118.3 C597.07,118.47 598.12,118.68 599.3,118.3 C600.48,117.92 601.7,116.57 602.9,116 C604.1,115.43 605.3,115 606.5,114.9 C607.7,114.8 608.82,115.48 610.1,115.4 C611.38,115.32 612.85,115.08 614.2,114.4 C615.55,113.72 616.9,112 618.2,111.3 C619.5,110.6 620.98,110.47 622,110.2 C623.02,109.93 623.2,109.58 624.3,109.7 C625.4,109.82 627.03,110.95 628.6,110.9 C630.17,110.85 632.25,109.28 633.7,109.4 C635.15,109.52 635.98,110.88 637.3,111.6 C638.62,112.32 640.28,113.27 641.6,113.7 C642.92,114.13 644,114.32 645.2,114.2 C646.4,114.08 647.48,113.55 648.8,113 C650.12,112.45 651.78,111.73 653.1,110.9 C654.42,110.07 655.5,108.73 656.7,108 C657.9,107.27 659.22,106.63 660.3,106.5 C661.38,106.37 662.72,107.08 663.2,107.2 L663.2,130.8 L483.2,130.8 Z" fill="#dee4ef" clip-path="url(#c5)"/>
<defs><clipPath id="c6"><rect x="483" y="130.8" width="31.3" height="56.2"/><rect x="527.4" y="130.8" width="4.6" height="56.2"/><rect x="538.5" y="130.8" width="102.8" height="56.2"/><rect x="645.9" y="130.8" width="17.1" height="56.2"/></clipPath></defs>
<path d="M483,131.1 C483.85,131.77 486.42,133.58 488.1,135.1 C489.78,136.62 491.42,138.52 493.1,140.2 C494.78,141.88 496.52,143.53 498.2,145.2 C499.88,146.87 501.53,148.95 503.2,150.2 C504.87,151.45 506.68,152.08 508.2,152.7 C509.72,153.32 511.28,153.13 512.3,153.9 C513.32,154.67 513.63,155.55 514.3,157.3 C514.97,159.05 515.72,162.78 516.3,164.4 C516.88,166.02 517.13,166.5 517.8,167 C518.47,167.5 519.2,167.67 520.3,167.4 C521.4,167.13 523.22,166.75 524.4,165.4 C525.58,164.05 526.57,160.88 527.4,159.3 C528.23,157.72 528.57,156.23 529.4,155.9 C530.23,155.57 531.38,156.57 532.4,157.3 C533.42,158.03 534.65,159.8 535.5,160.3 C536.35,160.8 536.75,161.17 537.5,160.3 C538.25,159.43 539.15,156.4 540,155.1 C540.85,153.8 541.73,153.22 542.6,152.5 C543.47,151.78 544.18,151.3 545.2,150.8 C546.22,150.3 547.4,149.93 548.7,149.5 C550,149.07 551.78,148.2 553,148.2 C554.22,148.2 555.07,149.22 556,149.5 C556.93,149.78 557.73,149.4 558.6,149.9 C559.47,150.4 560.48,152.35 561.2,152.5 C561.92,152.65 562.32,151.82 562.9,150.8 C563.48,149.78 564.05,147.85 564.7,146.4 C565.35,144.95 566.02,143.32 566.8,142.1 C567.58,140.88 568.53,139.6 569.4,139.1 C570.27,138.6 571.13,138.88 572,139.1 C572.87,139.32 573.73,139.83 574.6,140.4 C575.47,140.97 576.33,141.63 577.2,142.5 C578.07,143.37 579.08,145.23 579.8,145.6 C580.52,145.97 580.78,145 581.5,144.7 C582.22,144.4 583.23,144.45 584.1,143.8 C584.97,143.15 585.83,141.58 586.7,140.8 C587.57,140.02 588.38,139.03 589.3,139.1 C590.22,139.17 590.88,140.35 592.2,141.2 C593.52,142.05 595.52,143.2 597.2,144.2 C598.88,145.2 600.62,146.13 602.3,147.2 C603.98,148.27 605.63,150.5 607.3,150.6 C608.97,150.7 610.62,148.37 612.3,147.8 C613.98,147.23 615.72,147.63 617.4,147.2 C619.08,146.77 620.88,145.77 622.4,145.2 C623.92,144.63 625.15,144.23 626.5,143.8 C627.85,143.37 629.17,142.37 630.5,142.6 C631.83,142.83 633.17,143.58 634.5,145.2 C635.83,146.82 637.32,150.12 638.5,152.3 C639.68,154.48 640.65,156.97 641.6,158.3 C642.55,159.63 643.2,160.8 644.2,160.3 C645.2,159.8 646.35,156.98 647.6,155.3 C648.85,153.62 650.52,150.77 651.7,150.2 C652.88,149.63 653.7,150.88 654.7,151.9 C655.7,152.92 656.87,155.23 657.7,156.3 C658.53,157.37 658.87,157.8 659.7,158.3 C660.53,158.8 662.2,159.13 662.7,159.3 L662.7,130.8 L483,130.8 Z" fill="#fcdfd6" clip-path="url(#c6)"/>
<rect x="520.2" y="127" width="138.4" height="0.8" fill="#f4f6fa"/>
<rect x="479.5" y="130.45" width="186.8" height="0.7" fill="#dcdcdc"/>
<rect x="527.4" y="130.15" width="4.6" height="1.3" fill="#565a60"/>
<rect x="538.5" y="130.15" width="102.8" height="1.3" fill="#565a60"/>
<rect x="645.9" y="130.15" width="12.7" height="1.3" fill="#565a60"/>
<line x1="480.5" y1="107.5" x2="666.3" y2="107.5" stroke="#5d81c2" stroke-width="0.9" stroke-dasharray="2.6,2.4"/>
<line x1="480.5" y1="159.4" x2="666.3" y2="159.4" stroke="#e8653a" stroke-width="0.9" stroke-dasharray="2.6,2.4"/>
<path d="M483.2,80.3 C484.2,81.23 487.25,84.03 489.2,85.9 C491.15,87.77 493.02,89.78 494.9,91.5 C496.78,93.22 498.63,94.78 500.5,96.2 C502.37,97.62 504.47,99.1 506.1,100 C507.73,100.9 508.92,100.9 510.3,101.6 C511.68,102.3 513.03,103.33 514.4,104.2 C515.77,105.07 517.13,106.15 518.5,106.8 C519.87,107.45 521.4,107.9 522.6,108.1 C523.8,108.3 524.52,108 525.7,108 C526.88,108 528.43,107.8 529.7,108.1 C530.97,108.4 532.27,109.08 533.3,109.8 C534.33,110.52 534.95,111.67 535.9,112.4 C536.85,113.13 537.65,113.9 539,114.2 C540.35,114.5 542.48,114.03 544,114.2 C545.52,114.37 546.57,115.03 548.1,115.2 C549.63,115.37 551.83,114.98 553.2,115.2 C554.57,115.42 555.27,116.12 556.3,116.5 C557.33,116.88 557.93,117.2 559.4,117.5 C560.87,117.8 563.47,118.47 565.1,118.3 C566.73,118.13 567.67,117.15 569.2,116.5 C570.73,115.85 572.85,114.62 574.3,114.4 C575.75,114.18 576.88,115.2 577.9,115.2 C578.92,115.2 579.3,114.65 580.4,114.4 C581.5,114.15 583.3,113.53 584.5,113.7 C585.7,113.87 586.4,114.8 587.6,115.4 C588.8,116 590.33,116.82 591.7,117.3 C593.07,117.78 594.53,118.13 595.8,118.3 C597.07,118.47 598.12,118.68 599.3,118.3 C600.48,117.92 601.7,116.57 602.9,116 C604.1,115.43 605.3,115 606.5,114.9 C607.7,114.8 608.82,115.48 610.1,115.4 C611.38,115.32 612.85,115.08 614.2,114.4 C615.55,113.72 616.9,112 618.2,111.3 C619.5,110.6 620.98,110.47 622,110.2 C623.02,109.93 623.2,109.58 624.3,109.7 C625.4,109.82 627.03,110.95 628.6,110.9 C630.17,110.85 632.25,109.28 633.7,109.4 C635.15,109.52 635.98,110.88 637.3,111.6 C638.62,112.32 640.28,113.27 641.6,113.7 C642.92,114.13 644,114.32 645.2,114.2 C646.4,114.08 647.48,113.55 648.8,113 C650.12,112.45 651.78,111.73 653.1,110.9 C654.42,110.07 655.5,108.73 656.7,108 C657.9,107.27 659.22,106.63 660.3,106.5 C661.38,106.37 662.72,107.08 663.2,107.2" fill="none" stroke="#5d81c2" stroke-width="1.1" stroke-linejoin="round"/>
<path d="M483,131.1 C483.85,131.77 486.42,133.58 488.1,135.1 C489.78,136.62 491.42,138.52 493.1,140.2 C494.78,141.88 496.52,143.53 498.2,145.2 C499.88,146.87 501.53,148.95 503.2,150.2 C504.87,151.45 506.68,152.08 508.2,152.7 C509.72,153.32 511.28,153.13 512.3,153.9 C513.32,154.67 513.63,155.55 514.3,157.3 C514.97,159.05 515.72,162.78 516.3,164.4 C516.88,166.02 517.13,166.5 517.8,167 C518.47,167.5 519.2,167.67 520.3,167.4 C521.4,167.13 523.22,166.75 524.4,165.4 C525.58,164.05 526.57,160.88 527.4,159.3 C528.23,157.72 528.57,156.23 529.4,155.9 C530.23,155.57 531.38,156.57 532.4,157.3 C533.42,158.03 534.65,159.8 535.5,160.3 C536.35,160.8 536.75,161.17 537.5,160.3 C538.25,159.43 539.15,156.4 540,155.1 C540.85,153.8 541.73,153.22 542.6,152.5 C543.47,151.78 544.18,151.3 545.2,150.8 C546.22,150.3 547.4,149.93 548.7,149.5 C550,149.07 551.78,148.2 553,148.2 C554.22,148.2 555.07,149.22 556,149.5 C556.93,149.78 557.73,149.4 558.6,149.9 C559.47,150.4 560.48,152.35 561.2,152.5 C561.92,152.65 562.32,151.82 562.9,150.8 C563.48,149.78 564.05,147.85 564.7,146.4 C565.35,144.95 566.02,143.32 566.8,142.1 C567.58,140.88 568.53,139.6 569.4,139.1 C570.27,138.6 571.13,138.88 572,139.1 C572.87,139.32 573.73,139.83 574.6,140.4 C575.47,140.97 576.33,141.63 577.2,142.5 C578.07,143.37 579.08,145.23 579.8,145.6 C580.52,145.97 580.78,145 581.5,144.7 C582.22,144.4 583.23,144.45 584.1,143.8 C584.97,143.15 585.83,141.58 586.7,140.8 C587.57,140.02 588.38,139.03 589.3,139.1 C590.22,139.17 590.88,140.35 592.2,141.2 C593.52,142.05 595.52,143.2 597.2,144.2 C598.88,145.2 600.62,146.13 602.3,147.2 C603.98,148.27 605.63,150.5 607.3,150.6 C608.97,150.7 610.62,148.37 612.3,147.8 C613.98,147.23 615.72,147.63 617.4,147.2 C619.08,146.77 620.88,145.77 622.4,145.2 C623.92,144.63 625.15,144.23 626.5,143.8 C627.85,143.37 629.17,142.37 630.5,142.6 C631.83,142.83 633.17,143.58 634.5,145.2 C635.83,146.82 637.32,150.12 638.5,152.3 C639.68,154.48 640.65,156.97 641.6,158.3 C642.55,159.63 643.2,160.8 644.2,160.3 C645.2,159.8 646.35,156.98 647.6,155.3 C648.85,153.62 650.52,150.77 651.7,150.2 C652.88,149.63 653.7,150.88 654.7,151.9 C655.7,152.92 656.87,155.23 657.7,156.3 C658.53,157.37 658.87,157.8 659.7,158.3 C660.53,158.8 662.2,159.13 662.7,159.3" fill="none" stroke="#e8653a" stroke-width="1.15" stroke-linejoin="round"/>
<rect x="479.5" y="72.2" width="186.8" height="114.8" fill="none" stroke="#8c8c8c" stroke-width="0.9"/>
<line x1="479.5" y1="74.7" x2="481.1" y2="74.7" stroke="#777" stroke-width="0.7"/>
<line x1="479.5" y1="103.3" x2="481.1" y2="103.3" stroke="#777" stroke-width="0.7"/>
<line x1="479.5" y1="130.8" x2="481.1" y2="130.8" stroke="#777" stroke-width="0.7"/>
<line x1="479.5" y1="173.1" x2="481.1" y2="173.1" stroke="#777" stroke-width="0.7"/>
<line x1="483" y1="187" x2="483" y2="185.4" stroke="#777" stroke-width="0.7"/>
<line x1="527.9" y1="187" x2="527.9" y2="185.4" stroke="#777" stroke-width="0.7"/>
<line x1="572.8" y1="187" x2="572.8" y2="185.4" stroke="#777" stroke-width="0.7"/>
<line x1="617.7" y1="187" x2="617.7" y2="185.4" stroke="#777" stroke-width="0.7"/>
<line x1="662.6" y1="187" x2="662.6" y2="185.4" stroke="#777" stroke-width="0.7"/>
<circle cx="517.3" cy="166.8" r="2.1" fill="#1a1a1a"/>
<circle cx="538" cy="160.1" r="2.1" fill="#1a1a1a"/>
<circle cx="562.8" cy="150.3" r="2.1" fill="#1a1a1a"/>
<circle cx="578.3" cy="143.8" r="2.1" fill="#1a1a1a"/>
<circle cx="602.9" cy="148.3" r="2.1" fill="#1a1a1a"/>
<circle cx="630.3" cy="142.5" r="2.1" fill="#1a1a1a"/>
<circle cx="643.4" cy="160.3" r="2.1" fill="#1a1a1a"/>
<polygon points="529,153.1 529.59,154.68 531.28,154.76 529.96,155.81 530.41,157.44 529,156.51 527.59,157.44 528.04,155.81 526.72,154.76 528.41,154.68" fill="#222"/>
<polygon points="546.5,148.6 547.09,150.18 548.78,150.26 547.46,151.31 547.91,152.94 546.5,152.01 545.09,152.94 545.54,151.31 544.22,150.26 545.91,150.18" fill="#222"/>
<polygon points="563.6,149.4 564.19,150.98 565.88,151.06 564.56,152.11 565.01,153.74 563.6,152.81 562.19,153.74 562.64,152.11 561.32,151.06 563.01,150.98" fill="#222"/>
<polygon points="582.8,141.4 583.39,142.98 585.08,143.06 583.76,144.11 584.21,145.74 582.8,144.81 581.39,145.74 581.84,144.11 580.52,143.06 582.21,142.98" fill="#222"/>
<polygon points="608.1,147.9 608.69,149.48 610.38,149.56 609.06,150.61 609.51,152.24 608.1,151.31 606.69,152.24 607.14,150.61 605.82,149.56 607.51,149.48" fill="#222"/>
<polygon points="622.2,143.4 622.79,144.98 624.48,145.06 623.16,146.11 623.61,147.74 622.2,146.81 620.79,147.74 621.24,146.11 619.92,145.06 621.61,144.98" fill="#222"/>
<polygon points="641.5,156.1 642.09,157.68 643.78,157.76 642.46,158.81 642.91,160.44 641.5,159.51 640.09,160.44 640.54,158.81 639.22,157.76 640.91,157.68" fill="#222"/>
<polygon points="658.6,155.9 659.19,157.48 660.88,157.56 659.56,158.61 660.01,160.24 658.6,159.31 657.19,160.24 657.64,158.61 656.32,157.56 658.01,157.48" fill="#222"/>
<text x="511.8" y="163.3" font-family='"Liberation Serif", serif' font-style="italic" font-weight="bold" font-size="7.8" fill="#111" stroke="#111" stroke-width="0.28">&#8467;</text>
<text x="514.4" y="158.9" font-family='"Liberation Serif", serif' font-weight="bold" font-size="6.2" fill="#111" stroke="#111" stroke-width="0.28">(m)</text>
<text x="514.8" y="165.5" font-family='"Liberation Serif", serif' font-weight="bold" font-size="5.8" fill="#111" stroke="#111" stroke-width="0.28">1</text>
<text x="532.3" y="156.9" font-family='"Liberation Serif", serif' font-style="italic" font-weight="bold" font-size="7.8" fill="#111" stroke="#111" stroke-width="0.28">&#8467;</text>
<text x="534.9" y="152.5" font-family='"Liberation Serif", serif' font-weight="bold" font-size="6.2" fill="#111" stroke="#111" stroke-width="0.28">(m)</text>
<text x="535.3" y="159.1" font-family='"Liberation Serif", serif' font-weight="bold" font-size="5.8" fill="#111" stroke="#111" stroke-width="0.28">2</text>
<text x="557.9" y="148" font-family='"Liberation Serif", serif' font-style="italic" font-weight="bold" font-size="7.8" fill="#111" stroke="#111" stroke-width="0.28">&#8467;</text>
<text x="560.5" y="143.6" font-family='"Liberation Serif", serif' font-weight="bold" font-size="6.2" fill="#111" stroke="#111" stroke-width="0.28">(m)</text>
<text x="560.9" y="150.2" font-family='"Liberation Serif", serif' font-weight="bold" font-size="5.8" fill="#111" stroke="#111" stroke-width="0.28">3</text>
<text x="572.8" y="141.2" font-family='"Liberation Serif", serif' font-style="italic" font-weight="bold" font-size="7.8" fill="#111" stroke="#111" stroke-width="0.28">&#8467;</text>
<text x="575.4" y="136.8" font-family='"Liberation Serif", serif' font-weight="bold" font-size="6.2" fill="#111" stroke="#111" stroke-width="0.28">(m)</text>
<text x="575.8" y="143.4" font-family='"Liberation Serif", serif' font-weight="bold" font-size="5.8" fill="#111" stroke="#111" stroke-width="0.28">4</text>
<text x="597.4" y="146.2" font-family='"Liberation Serif", serif' font-style="italic" font-weight="bold" font-size="7.8" fill="#111" stroke="#111" stroke-width="0.28">&#8467;</text>
<text x="600" y="141.8" font-family='"Liberation Serif", serif' font-weight="bold" font-size="6.2" fill="#111" stroke="#111" stroke-width="0.28">(m)</text>
<text x="600.4" y="148.4" font-family='"Liberation Serif", serif' font-weight="bold" font-size="5.8" fill="#111" stroke="#111" stroke-width="0.28">5</text>
<text x="626" y="141.1" font-family='"Liberation Serif", serif' font-style="italic" font-weight="bold" font-size="7.8" fill="#111" stroke="#111" stroke-width="0.28">&#8467;</text>
<text x="628.6" y="136.7" font-family='"Liberation Serif", serif' font-weight="bold" font-size="6.2" fill="#111" stroke="#111" stroke-width="0.28">(m)</text>
<text x="629" y="143.3" font-family='"Liberation Serif", serif' font-weight="bold" font-size="5.8" fill="#111" stroke="#111" stroke-width="0.28">6</text>
<text x="637.7" y="158.3" font-family='"Liberation Serif", serif' font-style="italic" font-weight="bold" font-size="7.8" fill="#111" stroke="#111" stroke-width="0.28">&#8467;</text>
<text x="640.3" y="153.9" font-family='"Liberation Serif", serif' font-weight="bold" font-size="6.2" fill="#111" stroke="#111" stroke-width="0.28">(m)</text>
<text x="640.7" y="160.5" font-family='"Liberation Serif", serif' font-weight="bold" font-size="5.8" fill="#111" stroke="#111" stroke-width="0.28">7</text>
<text x="524.1" y="167.2" font-family='"Liberation Serif", serif' font-style="italic" font-weight="bold" font-size="7.8" fill="#111" stroke="#111" stroke-width="0.28">&#8467;</text>
<text x="526.7" y="162.8" font-family='"Liberation Serif", serif' font-weight="bold" font-size="6.2" fill="#111" stroke="#111" stroke-width="0.28">(M)</text>
<text x="527.1" y="169.4" font-family='"Liberation Serif", serif' font-weight="bold" font-size="5.8" fill="#111" stroke="#111" stroke-width="0.28">1</text>
<text x="541.6" y="162.7" font-family='"Liberation Serif", serif' font-style="italic" font-weight="bold" font-size="7.8" fill="#111" stroke="#111" stroke-width="0.28">&#8467;</text>
<text x="544.2" y="158.3" font-family='"Liberation Serif", serif' font-weight="bold" font-size="6.2" fill="#111" stroke="#111" stroke-width="0.28">(M)</text>
<text x="544.6" y="164.9" font-family='"Liberation Serif", serif' font-weight="bold" font-size="5.8" fill="#111" stroke="#111" stroke-width="0.28">2</text>
<text x="563" y="154.8" font-family='"Liberation Serif", serif' font-style="italic" font-weight="bold" font-size="7.8" fill="#111" stroke="#111" stroke-width="0.28">&#8467;</text>
<text x="565.6" y="150.4" font-family='"Liberation Serif", serif' font-weight="bold" font-size="6.2" fill="#111" stroke="#111" stroke-width="0.28">(M)</text>
<text x="566" y="157" font-family='"Liberation Serif", serif' font-weight="bold" font-size="5.8" fill="#111" stroke="#111" stroke-width="0.28">3</text>
<text x="578" y="155.1" font-family='"Liberation Serif", serif' font-style="italic" font-weight="bold" font-size="7.8" fill="#111" stroke="#111" stroke-width="0.28">&#8467;</text>
<text x="580.6" y="150.7" font-family='"Liberation Serif", serif' font-weight="bold" font-size="6.2" fill="#111" stroke="#111" stroke-width="0.28">(M)</text>
<text x="581" y="157.3" font-family='"Liberation Serif", serif' font-weight="bold" font-size="5.8" fill="#111" stroke="#111" stroke-width="0.28">4</text>
<text x="603.3" y="162.4" font-family='"Liberation Serif", serif' font-style="italic" font-weight="bold" font-size="7.8" fill="#111" stroke="#111" stroke-width="0.28">&#8467;</text>
<text x="605.9" y="158" font-family='"Liberation Serif", serif' font-weight="bold" font-size="6.2" fill="#111" stroke="#111" stroke-width="0.28">(M)</text>
<text x="606.3" y="164.6" font-family='"Liberation Serif", serif' font-weight="bold" font-size="5.8" fill="#111" stroke="#111" stroke-width="0.28">5</text>
<text x="616.9" y="158" font-family='"Liberation Serif", serif' font-style="italic" font-weight="bold" font-size="7.8" fill="#111" stroke="#111" stroke-width="0.28">&#8467;</text>
<text x="619.5" y="153.6" font-family='"Liberation Serif", serif' font-weight="bold" font-size="6.2" fill="#111" stroke="#111" stroke-width="0.28">(M)</text>
<text x="619.9" y="160.2" font-family='"Liberation Serif", serif' font-weight="bold" font-size="5.8" fill="#111" stroke="#111" stroke-width="0.28">6</text>
<text x="634.4" y="167.4" font-family='"Liberation Serif", serif' font-style="italic" font-weight="bold" font-size="7.8" fill="#111" stroke="#111" stroke-width="0.28">&#8467;</text>
<text x="637" y="163" font-family='"Liberation Serif", serif' font-weight="bold" font-size="6.2" fill="#111" stroke="#111" stroke-width="0.28">(M)</text>
<text x="637.4" y="169.6" font-family='"Liberation Serif", serif' font-weight="bold" font-size="5.8" fill="#111" stroke="#111" stroke-width="0.28">7</text>
<text x="653.2" y="170.4" font-family='"Liberation Serif", serif' font-style="italic" font-weight="bold" font-size="7.8" fill="#111" stroke="#111" stroke-width="0.28">&#8467;</text>
<text x="655.8" y="166" font-family='"Liberation Serif", serif' font-weight="bold" font-size="6.2" fill="#111" stroke="#111" stroke-width="0.28">(M)</text>
<text x="656.2" y="172.6" font-family='"Liberation Serif", serif' font-weight="bold" font-size="5.8" fill="#111" stroke="#111" stroke-width="0.28">8</text>
<text x="476.9" y="78.3" text-anchor="end" font-family='"Liberation Serif", serif' font-size="11.2" fill="#6a6a6a">1</text>
<text x="477.9" y="134.4" text-anchor="end" font-family='"Liberation Serif", serif' font-size="11.2" fill="#6a6a6a">0</text>
<text x="472.2" y="171.4" text-anchor="middle" font-family='"Liberation Serif", serif' font-size="8.2" fill="#6a6a6a">3</text>
<text x="472.2" y="179.4" text-anchor="middle" font-family='"Liberation Serif", serif' font-size="8.2" fill="#6a6a6a">16</text>
<rect x="468.25" y="172.75" width="7.9" height="0.7" fill="#6a6a6a"/>
<g transform="translate(471,103) rotate(-90)"><text x="-6.11" y="0" font-family='"Liberation Serif", serif' font-size="10" fill="#6f8fca">N<tspan font-style="italic">&#956;</tspan></text><rect x="1.71" y="-6" width="3.8" height="0.7" fill="#6f8fca"/></g>
<g transform="translate(471,153.6) rotate(-90)"><text x="-6.11" y="0" font-family='"Liberation Serif", serif' font-size="10" fill="#ee7d58">N<tspan font-style="italic">&#963;</tspan></text><rect x="1.71" y="-6" width="3.8" height="0.7" fill="#ee7d58"/></g>
<text x="667.9" y="110.3" font-family='"Liberation Serif", serif' font-size="8.6" fill="#6a6a6a">N<tspan font-style="italic">&#956;</tspan><tspan font-size="6.02" dy="1.6">th</tspan></text>
<rect x="674.61" y="105.14" width="3.27" height="0.6" fill="#6a6a6a"/>
<text x="667.9" y="162.2" font-family='"Liberation Serif", serif' font-size="8.6" fill="#6a6a6a">N<tspan font-style="italic">&#963;</tspan><tspan font-size="6.02" dy="1.6">th</tspan></text>
<rect x="674.61" y="157.04" width="3.27" height="0.6" fill="#6a6a6a"/>
<text x="483.6" y="198.5" text-anchor="middle" font-family='"Liberation Serif", serif' font-size="11.2" fill="#6a6a6a">0</text>
<text x="528.3" y="194.2" text-anchor="middle" font-family='"Liberation Serif", serif' font-size="8" fill="#6a6a6a"><tspan font-style="italic">&#960;</tspan></text>
<text x="528.3" y="203.1" text-anchor="middle" font-family='"Liberation Serif", serif' font-size="8" fill="#6a6a6a">2</text>
<rect x="526.1" y="195.75" width="4.4" height="0.7" fill="#6a6a6a"/>
<text x="574.2" y="201.8" text-anchor="middle" font-family='"Liberation Serif", serif' font-size="9.2" fill="#6a6a6a">length (<tspan font-style="italic">&#8467;</tspan>)</text>
<text x="616.7" y="194.4" text-anchor="middle" font-family='"Liberation Serif", serif' font-size="8" fill="#6a6a6a">3<tspan font-style="italic" dx="0.8">&#960;</tspan></text>
<text x="616.7" y="202.7" text-anchor="middle" font-family='"Liberation Serif", serif' font-size="8" fill="#6a6a6a">2</text>
<rect x="611.85" y="195.75" width="9.7" height="0.7" fill="#6a6a6a"/>
<text x="662.8" y="198.5" text-anchor="middle" font-family='"Liberation Serif", serif' font-size="11.2" fill="#6a6a6a">2 <tspan font-style="italic">&#960;</tspan></text>
<rect x="30.8" y="228.5" width="187.4" height="93.3" fill="none" stroke="#c4c4c4" stroke-width="0.9"/>
<line x1="30.8" y1="230.8" x2="32.4" y2="230.8" stroke="#aaa" stroke-width="0.7"/>
<line x1="218.2" y1="230.8" x2="216.6" y2="230.8" stroke="#aaa" stroke-width="0.7"/>
<text x="28.4" y="234.5" text-anchor="end" font-family='"Liberation Serif", serif' font-size="11" fill="#262626">0</text>
<line x1="30.8" y1="260.07" x2="32.4" y2="260.07" stroke="#aaa" stroke-width="0.7"/>
<line x1="218.2" y1="260.07" x2="216.6" y2="260.07" stroke="#aaa" stroke-width="0.7"/>
<text x="28.4" y="263.77" text-anchor="end" font-family='"Liberation Serif", serif' font-size="11" fill="#262626">-5</text>
<line x1="30.8" y1="289.33" x2="32.4" y2="289.33" stroke="#aaa" stroke-width="0.7"/>
<line x1="218.2" y1="289.33" x2="216.6" y2="289.33" stroke="#aaa" stroke-width="0.7"/>
<text x="28.4" y="293.03" text-anchor="end" font-family='"Liberation Serif", serif' font-size="11" fill="#262626">-10</text>
<line x1="30.8" y1="318.6" x2="32.4" y2="318.6" stroke="#aaa" stroke-width="0.7"/>
<line x1="218.2" y1="318.6" x2="216.6" y2="318.6" stroke="#aaa" stroke-width="0.7"/>
<text x="28.4" y="322.3" text-anchor="end" font-family='"Liberation Serif", serif' font-size="11" fill="#262626">-15</text>
<line x1="46.7" y1="228.5" x2="46.7" y2="230.1" stroke="#aaa" stroke-width="0.7"/>
<line x1="46.7" y1="321.8" x2="46.7" y2="320.2" stroke="#aaa" stroke-width="0.7"/>
<line x1="62.3" y1="228.5" x2="62.3" y2="230.1" stroke="#aaa" stroke-width="0.7"/>
<line x1="62.3" y1="321.8" x2="62.3" y2="320.2" stroke="#aaa" stroke-width="0.7"/>
<line x1="77.9" y1="228.5" x2="77.9" y2="230.1" stroke="#aaa" stroke-width="0.7"/>
<line x1="77.9" y1="321.8" x2="77.9" y2="320.2" stroke="#aaa" stroke-width="0.7"/>
<line x1="93.5" y1="228.5" x2="93.5" y2="230.1" stroke="#aaa" stroke-width="0.7"/>
<line x1="93.5" y1="321.8" x2="93.5" y2="320.2" stroke="#aaa" stroke-width="0.7"/>
<line x1="109.1" y1="228.5" x2="109.1" y2="230.1" stroke="#aaa" stroke-width="0.7"/>
<line x1="109.1" y1="321.8" x2="109.1" y2="320.2" stroke="#aaa" stroke-width="0.7"/>
<line x1="124.7" y1="228.5" x2="124.7" y2="230.1" stroke="#aaa" stroke-width="0.7"/>
<line x1="124.7" y1="321.8" x2="124.7" y2="320.2" stroke="#aaa" stroke-width="0.7"/>
<line x1="140.3" y1="228.5" x2="140.3" y2="230.1" stroke="#aaa" stroke-width="0.7"/>
<line x1="140.3" y1="321.8" x2="140.3" y2="320.2" stroke="#aaa" stroke-width="0.7"/>
<line x1="155.9" y1="228.5" x2="155.9" y2="230.1" stroke="#aaa" stroke-width="0.7"/>
<line x1="155.9" y1="321.8" x2="155.9" y2="320.2" stroke="#aaa" stroke-width="0.7"/>
<line x1="171.5" y1="228.5" x2="171.5" y2="230.1" stroke="#aaa" stroke-width="0.7"/>
<line x1="171.5" y1="321.8" x2="171.5" y2="320.2" stroke="#aaa" stroke-width="0.7"/>
<line x1="187.1" y1="228.5" x2="187.1" y2="230.1" stroke="#aaa" stroke-width="0.7"/>
<line x1="187.1" y1="321.8" x2="187.1" y2="320.2" stroke="#aaa" stroke-width="0.7"/>
<line x1="202.7" y1="228.5" x2="202.7" y2="230.1" stroke="#aaa" stroke-width="0.7"/>
<line x1="202.7" y1="321.8" x2="202.7" y2="320.2" stroke="#aaa" stroke-width="0.7"/>
<text x="124.7" y="222.1" text-anchor="middle" font-family='"Liberation Serif", serif' font-size="13.6" fill="#222">Norm (<tspan font-style="italic">log</tspan><tspan font-size="9.4" dy="2.4">10</tspan><tspan dy="-2.4">)</tspan></text>
<circle cx="43.97" cy="254.73" r="1.2" fill="#f0ae1c" fill-opacity="0.75"/>
<circle cx="43.68" cy="266.56" r="1.2" fill="#f0ae1c" fill-opacity="0.75"/>
<circle cx="43.77" cy="261.51" r="1.2" fill="#f0ae1c" fill-opacity="0.75"/>
<circle cx="43.94" cy="264.45" r="1.2" fill="#f0ae1c" fill-opacity="0.75"/>
<circle cx="43.56" cy="253.96" r="1.2" fill="#f0ae1c" fill-opacity="0.75"/>
<circle cx="43.77" cy="267.91" r="1.2" fill="#f0ae1c" fill-opacity="0.75"/>
<circle cx="43.55" cy="266.53" r="1.2" fill="#f0ae1c" fill-opacity="0.75"/>
<circle cx="43.91" cy="260.57" r="1.2" fill="#f0ae1c" fill-opacity="0.75"/>
<circle cx="44.02" cy="256.5" r="1.2" fill="#f0ae1c" fill-opacity="0.75"/>
<circle cx="43.57" cy="269.15" r="1.2" fill="#f0ae1c" fill-opacity="0.75"/>
<circle cx="43.82" cy="252.68" r="1.2" fill="#f0ae1c" fill-opacity="0.75"/>
<circle cx="43.74" cy="269.86" r="1.2" fill="#f0ae1c" fill-opacity="0.75"/>
<circle cx="43.76" cy="256.27" r="1.2" fill="#f0ae1c" fill-opacity="0.75"/>
<circle cx="43.66" cy="252.75" r="1.2" fill="#f0ae1c" fill-opacity="0.75"/>
<circle cx="43.8" cy="260.43" r="1.2" fill="#f0ae1c" fill-opacity="0.75"/>
<circle cx="43.67" cy="256.58" r="1.2" fill="#f0ae1c" fill-opacity="0.75"/>
<circle cx="43.78" cy="256.31" r="1.2" fill="#f0ae1c" fill-opacity="0.75"/>
<circle cx="43.56" cy="257.65" r="1.2" fill="#f0ae1c" fill-opacity="0.75"/>
<circle cx="43.83" cy="267.95" r="1.2" fill="#f0ae1c" fill-opacity="0.75"/>
<circle cx="43.64" cy="264.28" r="1.2" fill="#f0ae1c" fill-opacity="0.75"/>
<circle cx="43.98" cy="270.86" r="1.2" fill="#f0ae1c" fill-opacity="0.75"/>
<circle cx="43.72" cy="254.47" r="1.2" fill="#f0ae1c" fill-opacity="0.75"/>
<circle cx="43.91" cy="265.76" r="1.2" fill="#f0ae1c" fill-opacity="0.75"/>
<circle cx="43.76" cy="269.81" r="1.2" fill="#f0ae1c" fill-opacity="0.75"/>
<circle cx="43.89" cy="267.8" r="1.2" fill="#f0ae1c" fill-opacity="0.75"/>
<circle cx="43.84" cy="257.9" r="1.2" fill="#f0ae1c" fill-opacity="0.75"/>
<circle cx="43.97" cy="286" r="1.2" fill="#f0ae1c" fill-opacity="0.55"/>
<circle cx="43.84" cy="279.59" r="1.2" fill="#f0ae1c" fill-opacity="0.55"/>
<circle cx="43.67" cy="271.59" r="1.2" fill="#f0ae1c" fill-opacity="0.55"/>
<circle cx="43.76" cy="284.56" r="1.2" fill="#f0ae1c" fill-opacity="0.55"/>
<circle cx="43.82" cy="303.95" r="1.2" fill="#f0ae1c" fill-opacity="0.75"/>
<circle cx="43.89" cy="306.87" r="1.2" fill="#f0ae1c" fill-opacity="0.75"/>
<circle cx="43.77" cy="305.06" r="1.2" fill="#f0ae1c" fill-opacity="0.75"/>
<circle cx="43.94" cy="305.8" r="1.2" fill="#f0ae1c" fill-opacity="0.75"/>
<circle cx="43.75" cy="305.87" r="1.2" fill="#f0ae1c" fill-opacity="0.75"/>
<path d="M44,252.5H49M46.5,252.5V284.5M44,284.5H49" stroke="#3c3c3c" stroke-width="1" fill="none"/>
<circle cx="46.7" cy="268.3" r="0.8" fill="#999"/>
<circle cx="59.16" cy="300.99" r="1.2" fill="#f0ae1c" fill-opacity="0.42"/>
<circle cx="59.5" cy="289.79" r="1.2" fill="#f0ae1c" fill-opacity="0.42"/>
<circle cx="59.45" cy="313.38" r="1.2" fill="#f0ae1c" fill-opacity="0.42"/>
<circle cx="59.24" cy="298.58" r="1.2" fill="#f0ae1c" fill-opacity="0.42"/>
<circle cx="59.64" cy="301.31" r="1.2" fill="#f0ae1c" fill-opacity="0.42"/>
<circle cx="59.42" cy="308.04" r="1.2" fill="#f0ae1c" fill-opacity="0.42"/>
<circle cx="59.27" cy="310.29" r="1.2" fill="#f0ae1c" fill-opacity="0.42"/>
<circle cx="59.63" cy="301.6" r="1.2" fill="#f0ae1c" fill-opacity="0.42"/>
<circle cx="59.38" cy="303.2" r="1.2" fill="#f0ae1c" fill-opacity="0.42"/>
<circle cx="59.42" cy="302.57" r="1.2" fill="#f0ae1c" fill-opacity="0.5"/>
<circle cx="59.15" cy="312.2" r="1.2" fill="#f0ae1c" fill-opacity="0.5"/>
<circle cx="59.56" cy="309.77" r="1.2" fill="#f0ae1c" fill-opacity="0.5"/>
<circle cx="59.52" cy="311.21" r="1.2" fill="#f0ae1c" fill-opacity="0.5"/>
<circle cx="59.41" cy="310.13" r="1.2" fill="#f0ae1c" fill-opacity="0.5"/>
<circle cx="59.36" cy="306.66" r="1.2" fill="#f0ae1c" fill-opacity="0.5"/>
<circle cx="59.59" cy="299.59" r="1.2" fill="#f0ae1c" fill-opacity="0.5"/>
<circle cx="59.25" cy="306.78" r="1.2" fill="#f0ae1c" fill-opacity="0.5"/>
<circle cx="59.39" cy="305.87" r="1.2" fill="#f0ae1c" fill-opacity="0.5"/>
<circle cx="59.32" cy="303.8" r="1.2" fill="#f0ae1c" fill-opacity="0.5"/>
<circle cx="59.46" cy="306.34" r="1.2" fill="#f0ae1c" fill-opacity="0.5"/>
<circle cx="59.38" cy="307.37" r="1.2" fill="#f0ae1c" fill-opacity="0.5"/>
<circle cx="59.26" cy="299.19" r="1.2" fill="#f0ae1c" fill-opacity="0.5"/>
<circle cx="59.44" cy="301.28" r="1.2" fill="#f0ae1c" fill-opacity="0.5"/>
<circle cx="59.55" cy="310.85" r="1.2" fill="#f0ae1c" fill-opacity="0.5"/>
<circle cx="59.56" cy="309.96" r="1.2" fill="#f0ae1c" fill-opacity="0.5"/>
<circle cx="59.57" cy="302.37" r="1.2" fill="#f0ae1c" fill-opacity="0.5"/>
<circle cx="59.19" cy="308.22" r="1.2" fill="#f0ae1c" fill-opacity="0.5"/>
<circle cx="59.16" cy="299.03" r="1.2" fill="#f0ae1c" fill-opacity="0.5"/>
<circle cx="59.27" cy="309.38" r="1.2" fill="#f0ae1c" fill-opacity="0.5"/>
<circle cx="59.46" cy="300.33" r="1.2" fill="#f0ae1c" fill-opacity="0.5"/>
<circle cx="59.18" cy="303.62" r="1.2" fill="#f0ae1c" fill-opacity="0.5"/>
<circle cx="59.41" cy="301.03" r="1.2" fill="#f0ae1c" fill-opacity="0.5"/>
<circle cx="59.29" cy="301.15" r="1.2" fill="#f0ae1c" fill-opacity="0.5"/>
<circle cx="59.38" cy="308.76" r="1.2" fill="#f0ae1c" fill-opacity="0.5"/>
<circle cx="59.39" cy="303.31" r="1.2" fill="#f0ae1c" fill-opacity="0.5"/>
<circle cx="59.34" cy="299.13" r="1.2" fill="#f0ae1c" fill-opacity="0.5"/>
<circle cx="59.24" cy="304.69" r="1.2" fill="#f0ae1c" fill-opacity="0.5"/>
<circle cx="59.6" cy="300.32" r="1.2" fill="#f0ae1c" fill-opacity="0.5"/>
<circle cx="59.25" cy="305.94" r="1.2" fill="#f0ae1c" fill-opacity="0.5"/>
<path d="M60,300.5H65M62.5,300.5V309.5M60,309.5H65" stroke="#3c3c3c" stroke-width="1" fill="none"/>
<circle cx="62.3" cy="304.8" r="0.8" fill="#999"/>
<circle cx="75.16" cy="307.34" r="1.2" fill="#f0ae1c" fill-opacity="0.42"/>
<circle cx="74.76" cy="294.94" r="1.2" fill="#f0ae1c" fill-opacity="0.42"/>
<circle cx="75.11" cy="297.6" r="1.2" fill="#f0ae1c" fill-opacity="0.42"/>
<circle cx="75.1" cy="297.9" r="1.2" fill="#f0ae1c" fill-opacity="0.42"/>
<circle cx="75.02" cy="308.88" r="1.2" fill="#f0ae1c" fill-opacity="0.42"/>
<circle cx="75.24" cy="299.18" r="1.2" fill="#f0ae1c" fill-opacity="0.42"/>
<circle cx="75.01" cy="311.41" r="1.2" fill="#f0ae1c" fill-opacity="0.42"/>
<circle cx="75.07" cy="299.23" r="1.2" fill="#f0ae1c" fill-opacity="0.42"/>
<circle cx="75.04" cy="302.87" r="1.2" fill="#f0ae1c" fill-opacity="0.42"/>
<circle cx="75.07" cy="305.06" r="1.2" fill="#f0ae1c" fill-opacity="0.5"/>
<circle cx="74.9" cy="301.33" r="1.2" fill="#f0ae1c" fill-opacity="0.5"/>
<circle cx="75.19" cy="314.24" r="1.2" fill="#f0ae1c" fill-opacity="0.5"/>
<circle cx="75.18" cy="304.85" r="1.2" fill="#f0ae1c" fill-opacity="0.5"/>
<circle cx="75.22" cy="304.91" r="1.2" fill="#f0ae1c" fill-opacity="0.5"/>
<circle cx="74.96" cy="311.06" r="1.2" fill="#f0ae1c" fill-opacity="0.5"/>
<circle cx="74.75" cy="304.08" r="1.2" fill="#f0ae1c" fill-opacity="0.5"/>
<circle cx="74.77" cy="312.98" r="1.2" fill="#f0ae1c" fill-opacity="0.5"/>
<circle cx="75.23" cy="312.14" r="1.2" fill="#f0ae1c" fill-opacity="0.5"/>
<circle cx="74.84" cy="308.6" r="1.2" fill="#f0ae1c" fill-opacity="0.5"/>
<circle cx="75.24" cy="312.82" r="1.2" fill="#f0ae1c" fill-opacity="0.5"/>
<circle cx="75" cy="310.5" r="1.2" fill="#f0ae1c" fill-opacity="0.5"/>
<circle cx="74.92" cy="305.87" r="1.2" fill="#f0ae1c" fill-opacity="0.5"/>
<circle cx="75.09" cy="303.42" r="1.2" fill="#f0ae1c" fill-opacity="0.5"/>
<circle cx="74.85" cy="306.65" r="1.2" fill="#f0ae1c" fill-opacity="0.5"/>
<circle cx="75.08" cy="301.98" r="1.2" fill="#f0ae1c" fill-opacity="0.5"/>
<circle cx="75" cy="304.7" r="1.2" fill="#f0ae1c" fill-opacity="0.5"/>
<circle cx="75.19" cy="305.12" r="1.2" fill="#f0ae1c" fill-opacity="0.5"/>
<circle cx="74.76" cy="313.28" r="1.2" fill="#f0ae1c" fill-opacity="0.5"/>
<circle cx="74.91" cy="303.35" r="1.2" fill="#f0ae1c" fill-opacity="0.5"/>
<circle cx="75.14" cy="314.52" r="1.2" fill="#f0ae1c" fill-opacity="0.5"/>
<circle cx="74.86" cy="305.32" r="1.2" fill="#f0ae1c" fill-opacity="0.5"/>
<circle cx="75.17" cy="310.08" r="1.2" fill="#f0ae1c" fill-opacity="0.5"/>
<circle cx="74.92" cy="313.74" r="1.2" fill="#f0ae1c" fill-opacity="0.5"/>
<circle cx="75.09" cy="313.03" r="1.2" fill="#f0ae1c" fill-opacity="0.5"/>
<circle cx="75.24" cy="307.38" r="1.2" fill="#f0ae1c" fill-opacity="0.5"/>
<circle cx="75.11" cy="303.83" r="1.2" fill="#f0ae1c" fill-opacity="0.5"/>
<circle cx="74.83" cy="301.7" r="1.2" fill="#f0ae1c" fill-opacity="0.5"/>
<circle cx="74.86" cy="313.44" r="1.2" fill="#f0ae1c" fill-opacity="0.5"/>
<circle cx="75.05" cy="311.28" r="1.2" fill="#f0ae1c" fill-opacity="0.5"/>
<path d="M75,302.5H80M77.5,302.5V311.5M75,311.5H80" stroke="#3c3c3c" stroke-width="1" fill="none"/>
<circle cx="77.9" cy="306.5" r="0.8" fill="#999"/>
<circle cx="90.53" cy="312.71" r="1.2" fill="#f0ae1c" fill-opacity="0.42"/>
<circle cx="90.5" cy="300.14" r="1.2" fill="#f0ae1c" fill-opacity="0.42"/>
<circle cx="90.65" cy="313.37" r="1.2" fill="#f0ae1c" fill-opacity="0.42"/>
<circle cx="90.79" cy="315.55" r="1.2" fill="#f0ae1c" fill-opacity="0.42"/>
<circle cx="90.63" cy="295" r="1.2" fill="#f0ae1c" fill-opacity="0.42"/>
<circle cx="90.37" cy="294.22" r="1.2" fill="#f0ae1c" fill-opacity="0.42"/>
<circle cx="90.78" cy="293.44" r="1.2" fill="#f0ae1c" fill-opacity="0.42"/>
<circle cx="90.76" cy="311.38" r="1.2" fill="#f0ae1c" fill-opacity="0.42"/>
<circle cx="90.66" cy="300.16" r="1.2" fill="#f0ae1c" fill-opacity="0.42"/>
<circle cx="90.54" cy="312.38" r="1.2" fill="#f0ae1c" fill-opacity="0.5"/>
<circle cx="90.46" cy="309.18" r="1.2" fill="#f0ae1c" fill-opacity="0.5"/>
<circle cx="90.48" cy="301.74" r="1.2" fill="#f0ae1c" fill-opacity="0.5"/>
<circle cx="90.63" cy="314.04" r="1.2" fill="#f0ae1c" fill-opacity="0.5"/>
<circle cx="90.58" cy="314.56" r="1.2" fill="#f0ae1c" fill-opacity="0.5"/>
<circle cx="90.74" cy="304.71" r="1.2" fill="#f0ae1c" fill-opacity="0.5"/>
<circle cx="90.36" cy="313.08" r="1.2" fill="#f0ae1c" fill-opacity="0.5"/>
<circle cx="90.4" cy="310.69" r="1.2" fill="#f0ae1c" fill-opacity="0.5"/>
<circle cx="90.79" cy="302.25" r="1.2" fill="#f0ae1c" fill-opacity="0.5"/>
<circle cx="90.47" cy="301.11" r="1.2" fill="#f0ae1c" fill-opacity="0.5"/>
<circle cx="90.56" cy="315.52" r="1.2" fill="#f0ae1c" fill-opacity="0.5"/>
<circle cx="90.43" cy="302.26" r="1.2" fill="#f0ae1c" fill-opacity="0.5"/>
<circle cx="90.72" cy="304.17" r="1.2" fill="#f0ae1c" fill-opacity="0.5"/>
<circle cx="90.81" cy="302.06" r="1.2" fill="#f0ae1c" fill-opacity="0.5"/>
<circle cx="90.84" cy="306.25" r="1.2" fill="#f0ae1c" fill-opacity="0.5"/>
<circle cx="90.5" cy="314.32" r="1.2" fill="#f0ae1c" fill-opacity="0.5"/>
<circle cx="90.59" cy="304.35" r="1.2" fill="#f0ae1c" fill-opacity="0.5"/>
<circle cx="90.68" cy="302.02" r="1.2" fill="#f0ae1c" fill-opacity="0.5"/>
<circle cx="90.36" cy="301.1" r="1.2" fill="#f0ae1c" fill-opacity="0.5"/>
<circle cx="90.5" cy="315.44" r="1.2" fill="#f0ae1c" fill-opacity="0.5"/>
<circle cx="90.57" cy="309.57" r="1.2" fill="#f0ae1c" fill-opacity="0.5"/>
<circle cx="90.38" cy="305.26" r="1.2" fill="#f0ae1c" fill-opacity="0.5"/>
<circle cx="90.83" cy="314.38" r="1.2" fill="#f0ae1c" fill-opacity="0.5"/>
<circle cx="90.41" cy="315.24" r="1.2" fill="#f0ae1c" fill-opacity="0.5"/>
<circle cx="90.66" cy="303.77" r="1.2" fill="#f0ae1c" fill-opacity="0.5"/>
<circle cx="90.62" cy="315.4" r="1.2" fill="#f0ae1c" fill-opacity="0.5"/>
<circle cx="90.68" cy="310.96" r="1.2" fill="#f0ae1c" fill-opacity="0.5"/>
<circle cx="90.62" cy="304.44" r="1.2" fill="#f0ae1c" fill-opacity="0.5"/>
<circle cx="90.47" cy="305.17" r="1.2" fill="#f0ae1c" fill-opacity="0.5"/>
<circle cx="90.49" cy="301.74" r="1.2" fill="#f0ae1c" fill-opacity="0.5"/>
<path d="M91,302.5H96M93.5,302.5V311.5M91,311.5H96" stroke="#3c3c3c" stroke-width="1" fill="none"/>
<circle cx="93.5" cy="306.75" r="0.8" fill="#999"/>
<circle cx="106.17" cy="316.27" r="1.2" fill="#f0ae1c" fill-opacity="0.42"/>
<circle cx="106.27" cy="307.62" r="1.2" fill="#f0ae1c" fill-opacity="0.42"/>
<circle cx="106.15" cy="315.15" r="1.2" fill="#f0ae1c" fill-opacity="0.42"/>
<circle cx="106.11" cy="298.61" r="1.2" fill="#f0ae1c" fill-opacity="0.42"/>
<circle cx="106.37" cy="298.87" r="1.2" fill="#f0ae1c" fill-opacity="0.42"/>
<circle cx="106.1" cy="313.92" r="1.2" fill="#f0ae1c" fill-opacity="0.42"/>
<circle cx="106.22" cy="299.33" r="1.2" fill="#f0ae1c" fill-opacity="0.42"/>
<circle cx="106.25" cy="305.71" r="1.2" fill="#f0ae1c" fill-opacity="0.42"/>
<circle cx="105.96" cy="297" r="1.2" fill="#f0ae1c" fill-opacity="0.42"/>
<circle cx="105.99" cy="303.83" r="1.2" fill="#f0ae1c" fill-opacity="0.5"/>
<circle cx="105.99" cy="308.65" r="1.2" fill="#f0ae1c" fill-opacity="0.5"/>
<circle cx="106.27" cy="301.18" r="1.2" fill="#f0ae1c" fill-opacity="0.5"/>
<circle cx="106.35" cy="304.57" r="1.2" fill="#f0ae1c" fill-opacity="0.5"/>
<circle cx="106.38" cy="307.74" r="1.2" fill="#f0ae1c" fill-opacity="0.5"/>
<circle cx="106.2" cy="302.42" r="1.2" fill="#f0ae1c" fill-opacity="0.5"/>
<circle cx="105.99" cy="312.48" r="1.2" fill="#f0ae1c" fill-opacity="0.5"/>
<circle cx="106.04" cy="314.9" r="1.2" fill="#f0ae1c" fill-opacity="0.5"/>
<circle cx="106.44" cy="312.19" r="1.2" fill="#f0ae1c" fill-opacity="0.5"/>
<circle cx="106.11" cy="312.9" r="1.2" fill="#f0ae1c" fill-opacity="0.5"/>
<circle cx="106.21" cy="301.68" r="1.2" fill="#f0ae1c" fill-opacity="0.5"/>
<circle cx="106.1" cy="314.43" r="1.2" fill="#f0ae1c" fill-opacity="0.5"/>
<circle cx="106.02" cy="314.03" r="1.2" fill="#f0ae1c" fill-opacity="0.5"/>
<circle cx="105.97" cy="314.29" r="1.2" fill="#f0ae1c" fill-opacity="0.5"/>
<circle cx="106.4" cy="304.96" r="1.2" fill="#f0ae1c" fill-opacity="0.5"/>
<circle cx="106.4" cy="312.62" r="1.2" fill="#f0ae1c" fill-opacity="0.5"/>
<circle cx="106.32" cy="313.2" r="1.2" fill="#f0ae1c" fill-opacity="0.5"/>
<circle cx="106.04" cy="310.83" r="1.2" fill="#f0ae1c" fill-opacity="0.5"/>
<circle cx="106.03" cy="306.79" r="1.2" fill="#f0ae1c" fill-opacity="0.5"/>
<circle cx="106.28" cy="311.22" r="1.2" fill="#f0ae1c" fill-opacity="0.5"/>
<circle cx="105.98" cy="303.97" r="1.2" fill="#f0ae1c" fill-opacity="0.5"/>
<circle cx="106.35" cy="315.13" r="1.2" fill="#f0ae1c" fill-opacity="0.5"/>
<circle cx="106.22" cy="308.62" r="1.2" fill="#f0ae1c" fill-opacity="0.5"/>
<circle cx="106.18" cy="313.37" r="1.2" fill="#f0ae1c" fill-opacity="0.5"/>
<circle cx="106.12" cy="306.21" r="1.2" fill="#f0ae1c" fill-opacity="0.5"/>
<circle cx="105.96" cy="304.05" r="1.2" fill="#f0ae1c" fill-opacity="0.5"/>
<circle cx="106.16" cy="310.15" r="1.2" fill="#f0ae1c" fill-opacity="0.5"/>
<circle cx="105.98" cy="308.96" r="1.2" fill="#f0ae1c" fill-opacity="0.5"/>
<circle cx="106.02" cy="305.57" r="1.2" fill="#f0ae1c" fill-opacity="0.5"/>
<circle cx="106.08" cy="301.96" r="1.2" fill="#f0ae1c" fill-opacity="0.5"/>
<path d="M107,301.5H112M109.5,301.5V310.5M107,310.5H112" stroke="#3c3c3c" stroke-width="1" fill="none"/>
<circle cx="109.1" cy="306" r="0.8" fill="#999"/>
<circle cx="142.55" cy="311.43" r="1.2" fill="#78b22e" fill-opacity="0.42"/>
<circle cx="142.66" cy="304.24" r="1.2" fill="#78b22e" fill-opacity="0.42"/>
<circle cx="142.35" cy="301.42" r="1.2" fill="#78b22e" fill-opacity="0.42"/>
<circle cx="142.6" cy="306.38" r="1.2" fill="#78b22e" fill-opacity="0.42"/>
<circle cx="142.57" cy="308.4" r="1.2" fill="#78b22e" fill-opacity="0.42"/>
<circle cx="142.72" cy="309.03" r="1.2" fill="#78b22e" fill-opacity="0.42"/>
<circle cx="142.6" cy="301.5" r="1.2" fill="#78b22e" fill-opacity="0.42"/>
<circle cx="142.46" cy="305.54" r="1.2" fill="#78b22e" fill-opacity="0.42"/>
<circle cx="142.63" cy="304.43" r="1.2" fill="#78b22e" fill-opacity="0.42"/>
<circle cx="142.81" cy="312.07" r="1.2" fill="#78b22e" fill-opacity="0.5"/>
<circle cx="142.67" cy="303.73" r="1.2" fill="#78b22e" fill-opacity="0.5"/>
<circle cx="142.39" cy="300.74" r="1.2" fill="#78b22e" fill-opacity="0.5"/>
<circle cx="142.79" cy="306.85" r="1.2" fill="#78b22e" fill-opacity="0.5"/>
<circle cx="142.73" cy="302.2" r="1.2" fill="#78b22e" fill-opacity="0.5"/>
<circle cx="142.51" cy="311.76" r="1.2" fill="#78b22e" fill-opacity="0.5"/>
<circle cx="142.77" cy="309.24" r="1.2" fill="#78b22e" fill-opacity="0.5"/>
<circle cx="142.7" cy="305.01" r="1.2" fill="#78b22e" fill-opacity="0.5"/>
<circle cx="142.65" cy="309.82" r="1.2" fill="#78b22e" fill-opacity="0.5"/>
<circle cx="142.8" cy="311.4" r="1.2" fill="#78b22e" fill-opacity="0.5"/>
<circle cx="142.64" cy="312.77" r="1.2" fill="#78b22e" fill-opacity="0.5"/>
<circle cx="142.48" cy="302.43" r="1.2" fill="#78b22e" fill-opacity="0.5"/>
<circle cx="142.63" cy="302.97" r="1.2" fill="#78b22e" fill-opacity="0.5"/>
<circle cx="142.38" cy="310.1" r="1.2" fill="#78b22e" fill-opacity="0.5"/>
<circle cx="142.71" cy="309.1" r="1.2" fill="#78b22e" fill-opacity="0.5"/>
<circle cx="142.61" cy="304.69" r="1.2" fill="#78b22e" fill-opacity="0.5"/>
<circle cx="142.71" cy="302.28" r="1.2" fill="#78b22e" fill-opacity="0.5"/>
<circle cx="142.84" cy="300.64" r="1.2" fill="#78b22e" fill-opacity="0.5"/>
<circle cx="142.66" cy="310.76" r="1.2" fill="#78b22e" fill-opacity="0.5"/>
<circle cx="142.81" cy="303.63" r="1.2" fill="#78b22e" fill-opacity="0.5"/>
<circle cx="142.42" cy="312.76" r="1.2" fill="#78b22e" fill-opacity="0.5"/>
<circle cx="142.77" cy="310.34" r="1.2" fill="#78b22e" fill-opacity="0.5"/>
<circle cx="142.7" cy="308.81" r="1.2" fill="#78b22e" fill-opacity="0.5"/>
<circle cx="142.81" cy="305.97" r="1.2" fill="#78b22e" fill-opacity="0.5"/>
<circle cx="142.54" cy="312.92" r="1.2" fill="#78b22e" fill-opacity="0.5"/>
<circle cx="142.57" cy="310.7" r="1.2" fill="#78b22e" fill-opacity="0.5"/>
<circle cx="142.51" cy="302.27" r="1.2" fill="#78b22e" fill-opacity="0.5"/>
<circle cx="142.8" cy="301.77" r="1.2" fill="#78b22e" fill-opacity="0.5"/>
<circle cx="142.41" cy="312.76" r="1.2" fill="#78b22e" fill-opacity="0.5"/>
<circle cx="142.55" cy="308.03" r="1.2" fill="#78b22e" fill-opacity="0.5"/>
<path d="M138,301.5H143M140.5,301.5V308.5M138,308.5H143" stroke="#3c3c3c" stroke-width="1" fill="none"/>
<circle cx="140.3" cy="305.05" r="0.8" fill="#999"/>
<circle cx="158.1" cy="293.83" r="1.2" fill="#78b22e" fill-opacity="0.42"/>
<circle cx="158.32" cy="296.96" r="1.2" fill="#78b22e" fill-opacity="0.42"/>
<circle cx="158.04" cy="291.1" r="1.2" fill="#78b22e" fill-opacity="0.42"/>
<circle cx="157.96" cy="301.53" r="1.2" fill="#78b22e" fill-opacity="0.42"/>
<circle cx="158.25" cy="306.06" r="1.2" fill="#78b22e" fill-opacity="0.42"/>
<circle cx="158.05" cy="311.05" r="1.2" fill="#78b22e" fill-opacity="0.42"/>
<circle cx="158.22" cy="297.83" r="1.2" fill="#78b22e" fill-opacity="0.42"/>
<circle cx="158.24" cy="297.56" r="1.2" fill="#78b22e" fill-opacity="0.42"/>
<circle cx="158.29" cy="297.02" r="1.2" fill="#78b22e" fill-opacity="0.42"/>
<circle cx="158.35" cy="310.7" r="1.2" fill="#78b22e" fill-opacity="0.5"/>
<circle cx="158.22" cy="313.58" r="1.2" fill="#78b22e" fill-opacity="0.5"/>
<circle cx="158.38" cy="305.95" r="1.2" fill="#78b22e" fill-opacity="0.5"/>
<circle cx="158.24" cy="310.35" r="1.2" fill="#78b22e" fill-opacity="0.5"/>
<circle cx="158.09" cy="304.26" r="1.2" fill="#78b22e" fill-opacity="0.5"/>
<circle cx="158.35" cy="299.91" r="1.2" fill="#78b22e" fill-opacity="0.5"/>
<circle cx="158.32" cy="300.07" r="1.2" fill="#78b22e" fill-opacity="0.5"/>
<circle cx="158.43" cy="306.82" r="1.2" fill="#78b22e" fill-opacity="0.5"/>
<circle cx="158.44" cy="310.22" r="1.2" fill="#78b22e" fill-opacity="0.5"/>
<circle cx="158.2" cy="300.36" r="1.2" fill="#78b22e" fill-opacity="0.5"/>
<circle cx="158.11" cy="307.25" r="1.2" fill="#78b22e" fill-opacity="0.5"/>
<circle cx="158.13" cy="306.15" r="1.2" fill="#78b22e" fill-opacity="0.5"/>
<circle cx="157.95" cy="306.55" r="1.2" fill="#78b22e" fill-opacity="0.5"/>
<circle cx="158.17" cy="305.19" r="1.2" fill="#78b22e" fill-opacity="0.5"/>
<circle cx="158.15" cy="303.02" r="1.2" fill="#78b22e" fill-opacity="0.5"/>
<circle cx="158.29" cy="310.57" r="1.2" fill="#78b22e" fill-opacity="0.5"/>
<circle cx="158.27" cy="305.98" r="1.2" fill="#78b22e" fill-opacity="0.5"/>
<circle cx="158.05" cy="304.17" r="1.2" fill="#78b22e" fill-opacity="0.5"/>
<circle cx="158.09" cy="298.26" r="1.2" fill="#78b22e" fill-opacity="0.5"/>
<circle cx="158.39" cy="307.65" r="1.2" fill="#78b22e" fill-opacity="0.5"/>
<circle cx="158.21" cy="311.3" r="1.2" fill="#78b22e" fill-opacity="0.5"/>
<circle cx="158.18" cy="313.79" r="1.2" fill="#78b22e" fill-opacity="0.5"/>
<circle cx="158.15" cy="311.39" r="1.2" fill="#78b22e" fill-opacity="0.5"/>
<circle cx="158.44" cy="309.97" r="1.2" fill="#78b22e" fill-opacity="0.5"/>
<circle cx="158.04" cy="303.02" r="1.2" fill="#78b22e" fill-opacity="0.5"/>
<circle cx="158.22" cy="308" r="1.2" fill="#78b22e" fill-opacity="0.5"/>
<circle cx="157.95" cy="303.88" r="1.2" fill="#78b22e" fill-opacity="0.5"/>
<circle cx="158.16" cy="304.35" r="1.2" fill="#78b22e" fill-opacity="0.5"/>
<circle cx="158.38" cy="304.6" r="1.2" fill="#78b22e" fill-opacity="0.5"/>
<circle cx="158.32" cy="307.43" r="1.2" fill="#78b22e" fill-opacity="0.5"/>
<path d="M153,299.5H158M155.5,299.5V310.5M153,310.5H158" stroke="#3c3c3c" stroke-width="1" fill="none"/>
<circle cx="155.9" cy="305.05" r="0.8" fill="#999"/>
<circle cx="173.92" cy="313.93" r="1.2" fill="#78b22e" fill-opacity="0.42"/>
<circle cx="173.92" cy="306.52" r="1.2" fill="#78b22e" fill-opacity="0.42"/>
<circle cx="173.87" cy="309.22" r="1.2" fill="#78b22e" fill-opacity="0.42"/>
<circle cx="173.75" cy="309.02" r="1.2" fill="#78b22e" fill-opacity="0.42"/>
<circle cx="173.87" cy="309.02" r="1.2" fill="#78b22e" fill-opacity="0.42"/>
<circle cx="173.94" cy="314.65" r="1.2" fill="#78b22e" fill-opacity="0.42"/>
<circle cx="173.93" cy="312.99" r="1.2" fill="#78b22e" fill-opacity="0.42"/>
<circle cx="173.85" cy="312.42" r="1.2" fill="#78b22e" fill-opacity="0.42"/>
<circle cx="173.68" cy="303.89" r="1.2" fill="#78b22e" fill-opacity="0.42"/>
<circle cx="173.99" cy="310.92" r="1.2" fill="#78b22e" fill-opacity="0.5"/>
<circle cx="173.63" cy="308.74" r="1.2" fill="#78b22e" fill-opacity="0.5"/>
<circle cx="173.79" cy="312.58" r="1.2" fill="#78b22e" fill-opacity="0.5"/>
<circle cx="173.57" cy="307.71" r="1.2" fill="#78b22e" fill-opacity="0.5"/>
<circle cx="173.92" cy="308.29" r="1.2" fill="#78b22e" fill-opacity="0.5"/>
<circle cx="173.73" cy="307.12" r="1.2" fill="#78b22e" fill-opacity="0.5"/>
<circle cx="173.56" cy="310.24" r="1.2" fill="#78b22e" fill-opacity="0.5"/>
<circle cx="174.02" cy="308.25" r="1.2" fill="#78b22e" fill-opacity="0.5"/>
<circle cx="173.75" cy="310.68" r="1.2" fill="#78b22e" fill-opacity="0.5"/>
<circle cx="173.85" cy="310.66" r="1.2" fill="#78b22e" fill-opacity="0.5"/>
<circle cx="173.65" cy="304.28" r="1.2" fill="#78b22e" fill-opacity="0.5"/>
<circle cx="173.68" cy="313.28" r="1.2" fill="#78b22e" fill-opacity="0.5"/>
<circle cx="173.97" cy="302.5" r="1.2" fill="#78b22e" fill-opacity="0.5"/>
<circle cx="173.73" cy="308.46" r="1.2" fill="#78b22e" fill-opacity="0.5"/>
<circle cx="173.92" cy="308.3" r="1.2" fill="#78b22e" fill-opacity="0.5"/>
<circle cx="173.88" cy="303.74" r="1.2" fill="#78b22e" fill-opacity="0.5"/>
<circle cx="173.96" cy="310.99" r="1.2" fill="#78b22e" fill-opacity="0.5"/>
<circle cx="173.85" cy="305.09" r="1.2" fill="#78b22e" fill-opacity="0.5"/>
<circle cx="173.83" cy="304.59" r="1.2" fill="#78b22e" fill-opacity="0.5"/>
<circle cx="173.94" cy="303.79" r="1.2" fill="#78b22e" fill-opacity="0.5"/>
<circle cx="173.71" cy="313.03" r="1.2" fill="#78b22e" fill-opacity="0.5"/>
<circle cx="174.03" cy="304.46" r="1.2" fill="#78b22e" fill-opacity="0.5"/>
<circle cx="173.97" cy="310.9" r="1.2" fill="#78b22e" fill-opacity="0.5"/>
<circle cx="174" cy="301.91" r="1.2" fill="#78b22e" fill-opacity="0.5"/>
<circle cx="173.71" cy="309.78" r="1.2" fill="#78b22e" fill-opacity="0.5"/>
<circle cx="173.93" cy="307.24" r="1.2" fill="#78b22e" fill-opacity="0.5"/>
<circle cx="173.64" cy="311.95" r="1.2" fill="#78b22e" fill-opacity="0.5"/>
<circle cx="173.63" cy="309.82" r="1.2" fill="#78b22e" fill-opacity="0.5"/>
<circle cx="173.77" cy="314.44" r="1.2" fill="#78b22e" fill-opacity="0.5"/>
<circle cx="173.91" cy="313.64" r="1.2" fill="#78b22e" fill-opacity="0.5"/>
<path d="M169,303.5H174M171.5,303.5V311.5M169,311.5H174" stroke="#3c3c3c" stroke-width="1" fill="none"/>
<circle cx="171.5" cy="307" r="0.8" fill="#999"/>
<circle cx="189.28" cy="305.84" r="1.2" fill="#78b22e" fill-opacity="0.42"/>
<circle cx="189.22" cy="304.27" r="1.2" fill="#78b22e" fill-opacity="0.42"/>
<circle cx="189.51" cy="296.62" r="1.2" fill="#78b22e" fill-opacity="0.42"/>
<circle cx="189.53" cy="301.01" r="1.2" fill="#78b22e" fill-opacity="0.42"/>
<circle cx="189.51" cy="298.64" r="1.2" fill="#78b22e" fill-opacity="0.42"/>
<circle cx="189.3" cy="308.05" r="1.2" fill="#78b22e" fill-opacity="0.42"/>
<circle cx="189.35" cy="296" r="1.2" fill="#78b22e" fill-opacity="0.42"/>
<circle cx="189.2" cy="303.6" r="1.2" fill="#78b22e" fill-opacity="0.42"/>
<circle cx="189.18" cy="297.58" r="1.2" fill="#78b22e" fill-opacity="0.42"/>
<circle cx="189.59" cy="307.97" r="1.2" fill="#78b22e" fill-opacity="0.5"/>
<circle cx="189.17" cy="303.59" r="1.2" fill="#78b22e" fill-opacity="0.5"/>
<circle cx="189.56" cy="309.2" r="1.2" fill="#78b22e" fill-opacity="0.5"/>
<circle cx="189.46" cy="312.19" r="1.2" fill="#78b22e" fill-opacity="0.5"/>
<circle cx="189.57" cy="305.04" r="1.2" fill="#78b22e" fill-opacity="0.5"/>
<circle cx="189.5" cy="302.46" r="1.2" fill="#78b22e" fill-opacity="0.5"/>
<circle cx="189.35" cy="302.2" r="1.2" fill="#78b22e" fill-opacity="0.5"/>
<circle cx="189.34" cy="306.79" r="1.2" fill="#78b22e" fill-opacity="0.5"/>
<circle cx="189.27" cy="303.04" r="1.2" fill="#78b22e" fill-opacity="0.5"/>
<circle cx="189.38" cy="310.53" r="1.2" fill="#78b22e" fill-opacity="0.5"/>
<circle cx="189.26" cy="307.77" r="1.2" fill="#78b22e" fill-opacity="0.5"/>
<circle cx="189.32" cy="309.32" r="1.2" fill="#78b22e" fill-opacity="0.5"/>
<circle cx="189.6" cy="307.93" r="1.2" fill="#78b22e" fill-opacity="0.5"/>
<circle cx="189.17" cy="312.54" r="1.2" fill="#78b22e" fill-opacity="0.5"/>
<circle cx="189.58" cy="310.27" r="1.2" fill="#78b22e" fill-opacity="0.5"/>
<circle cx="189.34" cy="304.78" r="1.2" fill="#78b22e" fill-opacity="0.5"/>
<circle cx="189.61" cy="307.77" r="1.2" fill="#78b22e" fill-opacity="0.5"/>
<circle cx="189.59" cy="305.7" r="1.2" fill="#78b22e" fill-opacity="0.5"/>
<circle cx="189.23" cy="309.82" r="1.2" fill="#78b22e" fill-opacity="0.5"/>
<circle cx="189.16" cy="311.61" r="1.2" fill="#78b22e" fill-opacity="0.5"/>
<circle cx="189.48" cy="302.77" r="1.2" fill="#78b22e" fill-opacity="0.5"/>
<circle cx="189.34" cy="301.76" r="1.2" fill="#78b22e" fill-opacity="0.5"/>
<circle cx="189.38" cy="302.59" r="1.2" fill="#78b22e" fill-opacity="0.5"/>
<circle cx="189.6" cy="310.76" r="1.2" fill="#78b22e" fill-opacity="0.5"/>
<circle cx="189.18" cy="301.51" r="1.2" fill="#78b22e" fill-opacity="0.5"/>
<circle cx="189.17" cy="310.77" r="1.2" fill="#78b22e" fill-opacity="0.5"/>
<circle cx="189.21" cy="304.25" r="1.2" fill="#78b22e" fill-opacity="0.5"/>
<circle cx="189.16" cy="302.15" r="1.2" fill="#78b22e" fill-opacity="0.5"/>
<circle cx="189.52" cy="308.43" r="1.2" fill="#78b22e" fill-opacity="0.5"/>
<circle cx="189.57" cy="309" r="1.2" fill="#78b22e" fill-opacity="0.5"/>
<path d="M185,302.5H190M187.5,302.5V311.5M185,311.5H190" stroke="#3c3c3c" stroke-width="1" fill="none"/>
<circle cx="187.1" cy="307" r="0.8" fill="#999"/>
<circle cx="204.94" cy="309.35" r="1.2" fill="#78b22e" fill-opacity="0.42"/>
<circle cx="205.23" cy="308.6" r="1.2" fill="#78b22e" fill-opacity="0.42"/>
<circle cx="204.87" cy="308.85" r="1.2" fill="#78b22e" fill-opacity="0.42"/>
<circle cx="205.22" cy="295.3" r="1.2" fill="#78b22e" fill-opacity="0.42"/>
<circle cx="204.92" cy="307.66" r="1.2" fill="#78b22e" fill-opacity="0.42"/>
<circle cx="205.03" cy="308" r="1.2" fill="#78b22e" fill-opacity="0.42"/>
<circle cx="204.78" cy="306.07" r="1.2" fill="#78b22e" fill-opacity="0.42"/>
<circle cx="204.96" cy="302.13" r="1.2" fill="#78b22e" fill-opacity="0.42"/>
<circle cx="205.19" cy="298.55" r="1.2" fill="#78b22e" fill-opacity="0.42"/>
<circle cx="205.08" cy="307.27" r="1.2" fill="#78b22e" fill-opacity="0.5"/>
<circle cx="205.12" cy="311.76" r="1.2" fill="#78b22e" fill-opacity="0.5"/>
<circle cx="205.13" cy="311.88" r="1.2" fill="#78b22e" fill-opacity="0.5"/>
<circle cx="205.24" cy="304.6" r="1.2" fill="#78b22e" fill-opacity="0.5"/>
<circle cx="205.21" cy="303.04" r="1.2" fill="#78b22e" fill-opacity="0.5"/>
<circle cx="205.18" cy="313.95" r="1.2" fill="#78b22e" fill-opacity="0.5"/>
<circle cx="204.8" cy="301.52" r="1.2" fill="#78b22e" fill-opacity="0.5"/>
<circle cx="204.98" cy="313.3" r="1.2" fill="#78b22e" fill-opacity="0.5"/>
<circle cx="205.24" cy="306.44" r="1.2" fill="#78b22e" fill-opacity="0.5"/>
<circle cx="205.02" cy="301.32" r="1.2" fill="#78b22e" fill-opacity="0.5"/>
<circle cx="204.81" cy="307.57" r="1.2" fill="#78b22e" fill-opacity="0.5"/>
<circle cx="205.1" cy="306.83" r="1.2" fill="#78b22e" fill-opacity="0.5"/>
<circle cx="204.76" cy="314.38" r="1.2" fill="#78b22e" fill-opacity="0.5"/>
<circle cx="204.8" cy="308.83" r="1.2" fill="#78b22e" fill-opacity="0.5"/>
<circle cx="204.79" cy="313.11" r="1.2" fill="#78b22e" fill-opacity="0.5"/>
<circle cx="204.94" cy="301.23" r="1.2" fill="#78b22e" fill-opacity="0.5"/>
<circle cx="204.91" cy="312.06" r="1.2" fill="#78b22e" fill-opacity="0.5"/>
<circle cx="205.15" cy="302.72" r="1.2" fill="#78b22e" fill-opacity="0.5"/>
<circle cx="205.18" cy="313.21" r="1.2" fill="#78b22e" fill-opacity="0.5"/>
<circle cx="204.96" cy="305.41" r="1.2" fill="#78b22e" fill-opacity="0.5"/>
<circle cx="205.03" cy="304.5" r="1.2" fill="#78b22e" fill-opacity="0.5"/>
<circle cx="204.92" cy="305.82" r="1.2" fill="#78b22e" fill-opacity="0.5"/>
<circle cx="205.23" cy="312.85" r="1.2" fill="#78b22e" fill-opacity="0.5"/>
<circle cx="204.8" cy="309.75" r="1.2" fill="#78b22e" fill-opacity="0.5"/>
<circle cx="204.97" cy="310.81" r="1.2" fill="#78b22e" fill-opacity="0.5"/>
<circle cx="205.11" cy="316.01" r="1.2" fill="#78b22e" fill-opacity="0.5"/>
<circle cx="205.1" cy="313.64" r="1.2" fill="#78b22e" fill-opacity="0.5"/>
<circle cx="205.2" cy="309" r="1.2" fill="#78b22e" fill-opacity="0.5"/>
<circle cx="204.9" cy="313.59" r="1.2" fill="#78b22e" fill-opacity="0.5"/>
<circle cx="204.94" cy="303.13" r="1.2" fill="#78b22e" fill-opacity="0.5"/>
<path d="M200,302.5H205M202.5,302.5V310.5M200,310.5H205" stroke="#3c3c3c" stroke-width="1" fill="none"/>
<circle cx="202.7" cy="306.45" r="0.8" fill="#999"/>
<g transform="translate(35.7,331.1) rotate(55)"><text x="0" y="0" font-family='"Liberation Serif", serif' font-size="12.6" fill="#333"><tspan font-style="italic">&#8467;</tspan><tspan font-size="8.4" dy="2.9">1</tspan><tspan font-size="8.4" dx="-3.4" dy="-8.2">(m)</tspan></text></g>
<g transform="translate(66.9,331.1) rotate(55)"><text x="0" y="0" font-family='"Liberation Serif", serif' font-size="12.6" fill="#333"><tspan font-style="italic">&#8467;</tspan><tspan font-size="8.4" dy="2.9">3</tspan><tspan font-size="8.4" dx="-3.4" dy="-8.2">(m)</tspan></text></g>
<g transform="translate(98.1,331.1) rotate(55)"><text x="0" y="0" font-family='"Liberation Serif", serif' font-size="12.6" fill="#333"><tspan font-style="italic">&#8467;</tspan><tspan font-size="8.4" dy="2.9">5</tspan><tspan font-size="8.4" dx="-3.4" dy="-8.2">(m)</tspan></text></g>
<g transform="translate(129.3,331.1) rotate(55)"><text x="0" y="0" font-family='"Liberation Serif", serif' font-size="12.6" fill="#333"><tspan font-style="italic">&#8467;</tspan><tspan font-size="8.4" dy="2.9">1</tspan><tspan font-size="8.4" dx="-3.4" dy="-8.2">(M)</tspan></text></g>
<g transform="translate(160.5,331.1) rotate(55)"><text x="0" y="0" font-family='"Liberation Serif", serif' font-size="12.6" fill="#333"><tspan font-style="italic">&#8467;</tspan><tspan font-size="8.4" dy="2.9">3</tspan><tspan font-size="8.4" dx="-3.4" dy="-8.2">(M)</tspan></text></g>
<g transform="translate(191.7,331.1) rotate(55)"><text x="0" y="0" font-family='"Liberation Serif", serif' font-size="12.6" fill="#333"><tspan font-style="italic">&#8467;</tspan><tspan font-size="8.4" dy="2.9">5</tspan><tspan font-size="8.4" dx="-3.4" dy="-8.2">(M)</tspan></text></g>
<rect x="251.9" y="229.9" width="187.5" height="92.8" fill="none" stroke="#c4c4c4" stroke-width="0.9"/>
<line x1="251.9" y1="232.2" x2="253.5" y2="232.2" stroke="#aaa" stroke-width="0.7"/>
<line x1="439.4" y1="232.2" x2="437.8" y2="232.2" stroke="#aaa" stroke-width="0.7"/>
<text x="249.5" y="235.9" text-anchor="end" font-family='"Liberation Serif", serif' font-size="11" fill="#262626">0</text>
<line x1="251.9" y1="261.27" x2="253.5" y2="261.27" stroke="#aaa" stroke-width="0.7"/>
<line x1="439.4" y1="261.27" x2="437.8" y2="261.27" stroke="#aaa" stroke-width="0.7"/>
<text x="249.5" y="264.97" text-anchor="end" font-family='"Liberation Serif", serif' font-size="11" fill="#262626">-5</text>
<line x1="251.9" y1="290.33" x2="253.5" y2="290.33" stroke="#aaa" stroke-width="0.7"/>
<line x1="439.4" y1="290.33" x2="437.8" y2="290.33" stroke="#aaa" stroke-width="0.7"/>
<text x="249.5" y="294.03" text-anchor="end" font-family='"Liberation Serif", serif' font-size="11" fill="#262626">-10</text>
<line x1="251.9" y1="319.4" x2="253.5" y2="319.4" stroke="#aaa" stroke-width="0.7"/>
<line x1="439.4" y1="319.4" x2="437.8" y2="319.4" stroke="#aaa" stroke-width="0.7"/>
<text x="249.5" y="323.1" text-anchor="end" font-family='"Liberation Serif", serif' font-size="11" fill="#262626">-15</text>
<line x1="263.6" y1="229.9" x2="263.6" y2="231.5" stroke="#aaa" stroke-width="0.7"/>
<line x1="263.6" y1="322.7" x2="263.6" y2="321.1" stroke="#aaa" stroke-width="0.7"/>
<line x1="274.6" y1="229.9" x2="274.6" y2="231.5" stroke="#aaa" stroke-width="0.7"/>
<line x1="274.6" y1="322.7" x2="274.6" y2="321.1" stroke="#aaa" stroke-width="0.7"/>
<line x1="285.6" y1="229.9" x2="285.6" y2="231.5" stroke="#aaa" stroke-width="0.7"/>
<line x1="285.6" y1="322.7" x2="285.6" y2="321.1" stroke="#aaa" stroke-width="0.7"/>
<line x1="296.6" y1="229.9" x2="296.6" y2="231.5" stroke="#aaa" stroke-width="0.7"/>
<line x1="296.6" y1="322.7" x2="296.6" y2="321.1" stroke="#aaa" stroke-width="0.7"/>
<line x1="307.6" y1="229.9" x2="307.6" y2="231.5" stroke="#aaa" stroke-width="0.7"/>
<line x1="307.6" y1="322.7" x2="307.6" y2="321.1" stroke="#aaa" stroke-width="0.7"/>
<line x1="318.6" y1="229.9" x2="318.6" y2="231.5" stroke="#aaa" stroke-width="0.7"/>
<line x1="318.6" y1="322.7" x2="318.6" y2="321.1" stroke="#aaa" stroke-width="0.7"/>
<line x1="329.6" y1="229.9" x2="329.6" y2="231.5" stroke="#aaa" stroke-width="0.7"/>
<line x1="329.6" y1="322.7" x2="329.6" y2="321.1" stroke="#aaa" stroke-width="0.7"/>
<line x1="340.6" y1="229.9" x2="340.6" y2="231.5" stroke="#aaa" stroke-width="0.7"/>
<line x1="340.6" y1="322.7" x2="340.6" y2="321.1" stroke="#aaa" stroke-width="0.7"/>
<line x1="351.6" y1="229.9" x2="351.6" y2="231.5" stroke="#aaa" stroke-width="0.7"/>
<line x1="351.6" y1="322.7" x2="351.6" y2="321.1" stroke="#aaa" stroke-width="0.7"/>
<line x1="362.6" y1="229.9" x2="362.6" y2="231.5" stroke="#aaa" stroke-width="0.7"/>
<line x1="362.6" y1="322.7" x2="362.6" y2="321.1" stroke="#aaa" stroke-width="0.7"/>
<line x1="373.6" y1="229.9" x2="373.6" y2="231.5" stroke="#aaa" stroke-width="0.7"/>
<line x1="373.6" y1="322.7" x2="373.6" y2="321.1" stroke="#aaa" stroke-width="0.7"/>
<line x1="384.6" y1="229.9" x2="384.6" y2="231.5" stroke="#aaa" stroke-width="0.7"/>
<line x1="384.6" y1="322.7" x2="384.6" y2="321.1" stroke="#aaa" stroke-width="0.7"/>
<line x1="395.6" y1="229.9" x2="395.6" y2="231.5" stroke="#aaa" stroke-width="0.7"/>
<line x1="395.6" y1="322.7" x2="395.6" y2="321.1" stroke="#aaa" stroke-width="0.7"/>
<line x1="406.6" y1="229.9" x2="406.6" y2="231.5" stroke="#aaa" stroke-width="0.7"/>
<line x1="406.6" y1="322.7" x2="406.6" y2="321.1" stroke="#aaa" stroke-width="0.7"/>
<line x1="417.6" y1="229.9" x2="417.6" y2="231.5" stroke="#aaa" stroke-width="0.7"/>
<line x1="417.6" y1="322.7" x2="417.6" y2="321.1" stroke="#aaa" stroke-width="0.7"/>
<line x1="428.6" y1="229.9" x2="428.6" y2="231.5" stroke="#aaa" stroke-width="0.7"/>
<line x1="428.6" y1="322.7" x2="428.6" y2="321.1" stroke="#aaa" stroke-width="0.7"/>
<text x="345.8" y="223.4" text-anchor="middle" font-family='"Liberation Serif", serif' font-size="13.6" fill="#222">Norm (<tspan font-style="italic">log</tspan><tspan font-size="9.4" dy="2.4">10</tspan><tspan dy="-2.4">)</tspan></text>
<circle cx="260.92" cy="283.96" r="1.2" fill="#f0ae1c" fill-opacity="0.7"/>
<circle cx="260.49" cy="262.73" r="1.2" fill="#f0ae1c" fill-opacity="0.7"/>
<circle cx="260.82" cy="281.12" r="1.2" fill="#f0ae1c" fill-opacity="0.7"/>
<circle cx="260.6" cy="277.21" r="1.2" fill="#f0ae1c" fill-opacity="0.7"/>
<circle cx="260.75" cy="275.7" r="1.2" fill="#f0ae1c" fill-opacity="0.7"/>
<circle cx="260.53" cy="275.12" r="1.2" fill="#f0ae1c" fill-opacity="0.7"/>
<circle cx="260.65" cy="271.56" r="1.2" fill="#f0ae1c" fill-opacity="0.7"/>
<circle cx="260.95" cy="278.46" r="1.2" fill="#f0ae1c" fill-opacity="0.7"/>
<circle cx="260.72" cy="283.81" r="1.2" fill="#f0ae1c" fill-opacity="0.7"/>
<circle cx="260.58" cy="271.9" r="1.2" fill="#f0ae1c" fill-opacity="0.7"/>
<circle cx="260.46" cy="262.25" r="1.2" fill="#f0ae1c" fill-opacity="0.7"/>
<circle cx="260.61" cy="272.37" r="1.2" fill="#f0ae1c" fill-opacity="0.7"/>
<circle cx="260.9" cy="270.37" r="1.2" fill="#f0ae1c" fill-opacity="0.7"/>
<circle cx="260.73" cy="273.81" r="1.2" fill="#f0ae1c" fill-opacity="0.7"/>
<circle cx="260.46" cy="266.97" r="1.2" fill="#f0ae1c" fill-opacity="0.7"/>
<circle cx="260.52" cy="269.07" r="1.2" fill="#f0ae1c" fill-opacity="0.7"/>
<circle cx="260.95" cy="273.44" r="1.2" fill="#f0ae1c" fill-opacity="0.7"/>
<circle cx="260.54" cy="277.32" r="1.2" fill="#f0ae1c" fill-opacity="0.7"/>
<circle cx="260.85" cy="294.83" r="1.2" fill="#f0ae1c" fill-opacity="0.5"/>
<circle cx="260.9" cy="293.08" r="1.2" fill="#f0ae1c" fill-opacity="0.5"/>
<circle cx="260.84" cy="293.39" r="1.2" fill="#f0ae1c" fill-opacity="0.5"/>
<circle cx="260.94" cy="302.51" r="1.2" fill="#f0ae1c" fill-opacity="0.7"/>
<circle cx="260.53" cy="313.7" r="1.2" fill="#f0ae1c" fill-opacity="0.7"/>
<circle cx="260.81" cy="309.87" r="1.2" fill="#f0ae1c" fill-opacity="0.7"/>
<circle cx="260.72" cy="304.49" r="1.2" fill="#f0ae1c" fill-opacity="0.7"/>
<circle cx="260.91" cy="305.02" r="1.2" fill="#f0ae1c" fill-opacity="0.7"/>
<circle cx="260.87" cy="305.22" r="1.2" fill="#f0ae1c" fill-opacity="0.7"/>
<circle cx="260.89" cy="302.51" r="1.2" fill="#f0ae1c" fill-opacity="0.7"/>
<circle cx="260.68" cy="312.55" r="1.2" fill="#f0ae1c" fill-opacity="0.7"/>
<circle cx="260.91" cy="306.45" r="1.2" fill="#f0ae1c" fill-opacity="0.7"/>
<circle cx="260.69" cy="309.32" r="1.2" fill="#f0ae1c" fill-opacity="0.7"/>
<path d="M261,268.5H266M263.5,268.5V306.5M261,306.5H266" stroke="#3c3c3c" stroke-width="1" fill="none"/>
<circle cx="263.6" cy="287.15" r="0.8" fill="#999"/>
<circle cx="271.61" cy="299.88" r="1.2" fill="#f0ae1c" fill-opacity="0.42"/>
<circle cx="271.53" cy="308.67" r="1.2" fill="#f0ae1c" fill-opacity="0.42"/>
<circle cx="271.58" cy="312.51" r="1.2" fill="#f0ae1c" fill-opacity="0.42"/>
<circle cx="271.6" cy="312.57" r="1.2" fill="#f0ae1c" fill-opacity="0.42"/>
<circle cx="271.8" cy="313.42" r="1.2" fill="#f0ae1c" fill-opacity="0.42"/>
<circle cx="271.71" cy="305.08" r="1.2" fill="#f0ae1c" fill-opacity="0.42"/>
<circle cx="271.74" cy="307.79" r="1.2" fill="#f0ae1c" fill-opacity="0.42"/>
<circle cx="271.55" cy="301.54" r="1.2" fill="#f0ae1c" fill-opacity="0.42"/>
<circle cx="271.92" cy="305.22" r="1.2" fill="#f0ae1c" fill-opacity="0.42"/>
<circle cx="271.49" cy="308.94" r="1.2" fill="#f0ae1c" fill-opacity="0.5"/>
<circle cx="271.81" cy="311.17" r="1.2" fill="#f0ae1c" fill-opacity="0.5"/>
<circle cx="271.55" cy="312.16" r="1.2" fill="#f0ae1c" fill-opacity="0.5"/>
<circle cx="271.48" cy="310.32" r="1.2" fill="#f0ae1c" fill-opacity="0.5"/>
<circle cx="271.59" cy="309.28" r="1.2" fill="#f0ae1c" fill-opacity="0.5"/>
<circle cx="271.89" cy="304.46" r="1.2" fill="#f0ae1c" fill-opacity="0.5"/>
<circle cx="271.71" cy="303.1" r="1.2" fill="#f0ae1c" fill-opacity="0.5"/>
<circle cx="271.57" cy="311.55" r="1.2" fill="#f0ae1c" fill-opacity="0.5"/>
<circle cx="271.89" cy="304.28" r="1.2" fill="#f0ae1c" fill-opacity="0.5"/>
<circle cx="271.81" cy="306.68" r="1.2" fill="#f0ae1c" fill-opacity="0.5"/>
<circle cx="271.63" cy="302.26" r="1.2" fill="#f0ae1c" fill-opacity="0.5"/>
<circle cx="271.79" cy="303.84" r="1.2" fill="#f0ae1c" fill-opacity="0.5"/>
<circle cx="271.93" cy="302.84" r="1.2" fill="#f0ae1c" fill-opacity="0.5"/>
<circle cx="271.81" cy="302.19" r="1.2" fill="#f0ae1c" fill-opacity="0.5"/>
<circle cx="271.58" cy="302.14" r="1.2" fill="#f0ae1c" fill-opacity="0.5"/>
<circle cx="271.53" cy="311.09" r="1.2" fill="#f0ae1c" fill-opacity="0.5"/>
<circle cx="271.8" cy="303.98" r="1.2" fill="#f0ae1c" fill-opacity="0.5"/>
<circle cx="271.47" cy="306.26" r="1.2" fill="#f0ae1c" fill-opacity="0.5"/>
<circle cx="271.53" cy="313.09" r="1.2" fill="#f0ae1c" fill-opacity="0.5"/>
<circle cx="271.62" cy="302.31" r="1.2" fill="#f0ae1c" fill-opacity="0.5"/>
<circle cx="271.82" cy="308.85" r="1.2" fill="#f0ae1c" fill-opacity="0.5"/>
<circle cx="271.62" cy="303.18" r="1.2" fill="#f0ae1c" fill-opacity="0.5"/>
<circle cx="271.67" cy="302.25" r="1.2" fill="#f0ae1c" fill-opacity="0.5"/>
<circle cx="271.82" cy="310.56" r="1.2" fill="#f0ae1c" fill-opacity="0.5"/>
<circle cx="271.83" cy="312.09" r="1.2" fill="#f0ae1c" fill-opacity="0.5"/>
<circle cx="271.8" cy="311.65" r="1.2" fill="#f0ae1c" fill-opacity="0.5"/>
<circle cx="271.56" cy="307.24" r="1.2" fill="#f0ae1c" fill-opacity="0.5"/>
<circle cx="271.61" cy="309.37" r="1.2" fill="#f0ae1c" fill-opacity="0.5"/>
<circle cx="271.67" cy="303.05" r="1.2" fill="#f0ae1c" fill-opacity="0.5"/>
<circle cx="271.51" cy="311.78" r="1.2" fill="#f0ae1c" fill-opacity="0.5"/>
<path d="M272,303.5H277M274.5,303.5V310.5M272,310.5H277" stroke="#3c3c3c" stroke-width="1" fill="none"/>
<circle cx="274.6" cy="306.95" r="0.8" fill="#999"/>
<circle cx="282.65" cy="305.54" r="1.2" fill="#f0ae1c" fill-opacity="0.42"/>
<circle cx="282.52" cy="303.98" r="1.2" fill="#f0ae1c" fill-opacity="0.42"/>
<circle cx="282.58" cy="313.9" r="1.2" fill="#f0ae1c" fill-opacity="0.42"/>
<circle cx="282.66" cy="306.02" r="1.2" fill="#f0ae1c" fill-opacity="0.42"/>
<circle cx="282.73" cy="292.9" r="1.2" fill="#f0ae1c" fill-opacity="0.42"/>
<circle cx="282.48" cy="295.63" r="1.2" fill="#f0ae1c" fill-opacity="0.42"/>
<circle cx="282.53" cy="293.25" r="1.2" fill="#f0ae1c" fill-opacity="0.42"/>
<circle cx="282.77" cy="294.64" r="1.2" fill="#f0ae1c" fill-opacity="0.42"/>
<circle cx="282.94" cy="303.83" r="1.2" fill="#f0ae1c" fill-opacity="0.42"/>
<circle cx="282.95" cy="312.96" r="1.2" fill="#f0ae1c" fill-opacity="0.5"/>
<circle cx="282.67" cy="304.05" r="1.2" fill="#f0ae1c" fill-opacity="0.5"/>
<circle cx="282.75" cy="304.28" r="1.2" fill="#f0ae1c" fill-opacity="0.5"/>
<circle cx="282.85" cy="309.03" r="1.2" fill="#f0ae1c" fill-opacity="0.5"/>
<circle cx="282.58" cy="310.11" r="1.2" fill="#f0ae1c" fill-opacity="0.5"/>
<circle cx="282.71" cy="306.47" r="1.2" fill="#f0ae1c" fill-opacity="0.5"/>
<circle cx="282.47" cy="301.16" r="1.2" fill="#f0ae1c" fill-opacity="0.5"/>
<circle cx="282.51" cy="306.29" r="1.2" fill="#f0ae1c" fill-opacity="0.5"/>
<circle cx="282.57" cy="310.29" r="1.2" fill="#f0ae1c" fill-opacity="0.5"/>
<circle cx="282.54" cy="302.37" r="1.2" fill="#f0ae1c" fill-opacity="0.5"/>
<circle cx="282.56" cy="304.04" r="1.2" fill="#f0ae1c" fill-opacity="0.5"/>
<circle cx="282.68" cy="307.71" r="1.2" fill="#f0ae1c" fill-opacity="0.5"/>
<circle cx="282.77" cy="305.03" r="1.2" fill="#f0ae1c" fill-opacity="0.5"/>
<circle cx="282.9" cy="303.8" r="1.2" fill="#f0ae1c" fill-opacity="0.5"/>
<circle cx="282.81" cy="313.33" r="1.2" fill="#f0ae1c" fill-opacity="0.5"/>
<circle cx="282.71" cy="306.61" r="1.2" fill="#f0ae1c" fill-opacity="0.5"/>
<circle cx="282.48" cy="308.48" r="1.2" fill="#f0ae1c" fill-opacity="0.5"/>
<circle cx="282.71" cy="306.41" r="1.2" fill="#f0ae1c" fill-opacity="0.5"/>
<circle cx="282.5" cy="303.4" r="1.2" fill="#f0ae1c" fill-opacity="0.5"/>
<circle cx="282.63" cy="311.29" r="1.2" fill="#f0ae1c" fill-opacity="0.5"/>
<circle cx="282.91" cy="307.69" r="1.2" fill="#f0ae1c" fill-opacity="0.5"/>
<circle cx="282.59" cy="308.85" r="1.2" fill="#f0ae1c" fill-opacity="0.5"/>
<circle cx="282.64" cy="313.59" r="1.2" fill="#f0ae1c" fill-opacity="0.5"/>
<circle cx="282.79" cy="301.34" r="1.2" fill="#f0ae1c" fill-opacity="0.5"/>
<circle cx="282.6" cy="302.38" r="1.2" fill="#f0ae1c" fill-opacity="0.5"/>
<circle cx="282.79" cy="311.78" r="1.2" fill="#f0ae1c" fill-opacity="0.5"/>
<circle cx="282.68" cy="301.3" r="1.2" fill="#f0ae1c" fill-opacity="0.5"/>
<circle cx="282.69" cy="306.32" r="1.2" fill="#f0ae1c" fill-opacity="0.5"/>
<circle cx="282.74" cy="303.74" r="1.2" fill="#f0ae1c" fill-opacity="0.5"/>
<circle cx="282.59" cy="302.04" r="1.2" fill="#f0ae1c" fill-opacity="0.5"/>
<path d="M283,302.5H288M285.5,302.5V312.5M283,312.5H288" stroke="#3c3c3c" stroke-width="1" fill="none"/>
<circle cx="285.6" cy="307.4" r="0.8" fill="#999"/>
<circle cx="293.92" cy="302.6" r="1.2" fill="#f0ae1c" fill-opacity="0.42"/>
<circle cx="293.83" cy="296.64" r="1.2" fill="#f0ae1c" fill-opacity="0.42"/>
<circle cx="293.74" cy="298.97" r="1.2" fill="#f0ae1c" fill-opacity="0.42"/>
<circle cx="293.68" cy="302.97" r="1.2" fill="#f0ae1c" fill-opacity="0.42"/>
<circle cx="293.65" cy="310.25" r="1.2" fill="#f0ae1c" fill-opacity="0.42"/>
<circle cx="293.51" cy="297.55" r="1.2" fill="#f0ae1c" fill-opacity="0.42"/>
<circle cx="293.88" cy="296.72" r="1.2" fill="#f0ae1c" fill-opacity="0.42"/>
<circle cx="293.93" cy="307.98" r="1.2" fill="#f0ae1c" fill-opacity="0.42"/>
<circle cx="293.46" cy="309.02" r="1.2" fill="#f0ae1c" fill-opacity="0.42"/>
<circle cx="293.84" cy="310.01" r="1.2" fill="#f0ae1c" fill-opacity="0.5"/>
<circle cx="293.7" cy="310.8" r="1.2" fill="#f0ae1c" fill-opacity="0.5"/>
<circle cx="293.68" cy="306.3" r="1.2" fill="#f0ae1c" fill-opacity="0.5"/>
<circle cx="293.58" cy="311.72" r="1.2" fill="#f0ae1c" fill-opacity="0.5"/>
<circle cx="293.69" cy="308.37" r="1.2" fill="#f0ae1c" fill-opacity="0.5"/>
<circle cx="293.85" cy="313.64" r="1.2" fill="#f0ae1c" fill-opacity="0.5"/>
<circle cx="293.87" cy="313.36" r="1.2" fill="#f0ae1c" fill-opacity="0.5"/>
<circle cx="293.57" cy="305.55" r="1.2" fill="#f0ae1c" fill-opacity="0.5"/>
<circle cx="293.58" cy="307.91" r="1.2" fill="#f0ae1c" fill-opacity="0.5"/>
<circle cx="293.79" cy="307.16" r="1.2" fill="#f0ae1c" fill-opacity="0.5"/>
<circle cx="293.74" cy="313.2" r="1.2" fill="#f0ae1c" fill-opacity="0.5"/>
<circle cx="293.5" cy="311.96" r="1.2" fill="#f0ae1c" fill-opacity="0.5"/>
<circle cx="293.95" cy="306.28" r="1.2" fill="#f0ae1c" fill-opacity="0.5"/>
<circle cx="293.66" cy="303.7" r="1.2" fill="#f0ae1c" fill-opacity="0.5"/>
<circle cx="293.49" cy="302.72" r="1.2" fill="#f0ae1c" fill-opacity="0.5"/>
<circle cx="293.94" cy="312.91" r="1.2" fill="#f0ae1c" fill-opacity="0.5"/>
<circle cx="293.51" cy="309.87" r="1.2" fill="#f0ae1c" fill-opacity="0.5"/>
<circle cx="293.57" cy="305.55" r="1.2" fill="#f0ae1c" fill-opacity="0.5"/>
<circle cx="293.79" cy="310.15" r="1.2" fill="#f0ae1c" fill-opacity="0.5"/>
<circle cx="293.71" cy="307.3" r="1.2" fill="#f0ae1c" fill-opacity="0.5"/>
<circle cx="293.72" cy="303.28" r="1.2" fill="#f0ae1c" fill-opacity="0.5"/>
<circle cx="293.83" cy="313.58" r="1.2" fill="#f0ae1c" fill-opacity="0.5"/>
<circle cx="293.71" cy="303.08" r="1.2" fill="#f0ae1c" fill-opacity="0.5"/>
<circle cx="293.58" cy="310.7" r="1.2" fill="#f0ae1c" fill-opacity="0.5"/>
<circle cx="293.68" cy="312.91" r="1.2" fill="#f0ae1c" fill-opacity="0.5"/>
<circle cx="293.65" cy="310.55" r="1.2" fill="#f0ae1c" fill-opacity="0.5"/>
<circle cx="293.84" cy="314.14" r="1.2" fill="#f0ae1c" fill-opacity="0.5"/>
<circle cx="293.52" cy="308.95" r="1.2" fill="#f0ae1c" fill-opacity="0.5"/>
<circle cx="293.46" cy="307.33" r="1.2" fill="#f0ae1c" fill-opacity="0.5"/>
<circle cx="293.89" cy="309.22" r="1.2" fill="#f0ae1c" fill-opacity="0.5"/>
<path d="M294,303.5H299M296.5,303.5V311.5M294,311.5H299" stroke="#3c3c3c" stroke-width="1" fill="none"/>
<circle cx="296.6" cy="307.45" r="0.8" fill="#999"/>
<circle cx="304.71" cy="300.29" r="1.2" fill="#f0ae1c" fill-opacity="0.42"/>
<circle cx="304.65" cy="305.64" r="1.2" fill="#f0ae1c" fill-opacity="0.42"/>
<circle cx="304.92" cy="309.68" r="1.2" fill="#f0ae1c" fill-opacity="0.42"/>
<circle cx="304.69" cy="309.59" r="1.2" fill="#f0ae1c" fill-opacity="0.42"/>
<circle cx="304.62" cy="314.13" r="1.2" fill="#f0ae1c" fill-opacity="0.42"/>
<circle cx="304.78" cy="310.3" r="1.2" fill="#f0ae1c" fill-opacity="0.42"/>
<circle cx="304.88" cy="310.58" r="1.2" fill="#f0ae1c" fill-opacity="0.42"/>
<circle cx="304.76" cy="301.08" r="1.2" fill="#f0ae1c" fill-opacity="0.42"/>
<circle cx="304.78" cy="304.23" r="1.2" fill="#f0ae1c" fill-opacity="0.42"/>
<circle cx="304.77" cy="313.5" r="1.2" fill="#f0ae1c" fill-opacity="0.5"/>
<circle cx="304.68" cy="300.95" r="1.2" fill="#f0ae1c" fill-opacity="0.5"/>
<circle cx="304.89" cy="310.05" r="1.2" fill="#f0ae1c" fill-opacity="0.5"/>
<circle cx="304.86" cy="309.25" r="1.2" fill="#f0ae1c" fill-opacity="0.5"/>
<circle cx="304.92" cy="301.02" r="1.2" fill="#f0ae1c" fill-opacity="0.5"/>
<circle cx="304.75" cy="310.28" r="1.2" fill="#f0ae1c" fill-opacity="0.5"/>
<circle cx="304.89" cy="312.57" r="1.2" fill="#f0ae1c" fill-opacity="0.5"/>
<circle cx="304.86" cy="302.11" r="1.2" fill="#f0ae1c" fill-opacity="0.5"/>
<circle cx="304.55" cy="310.77" r="1.2" fill="#f0ae1c" fill-opacity="0.5"/>
<circle cx="304.74" cy="310.48" r="1.2" fill="#f0ae1c" fill-opacity="0.5"/>
<circle cx="304.85" cy="303.29" r="1.2" fill="#f0ae1c" fill-opacity="0.5"/>
<circle cx="304.76" cy="302.59" r="1.2" fill="#f0ae1c" fill-opacity="0.5"/>
<circle cx="304.58" cy="306.45" r="1.2" fill="#f0ae1c" fill-opacity="0.5"/>
<circle cx="304.68" cy="308.16" r="1.2" fill="#f0ae1c" fill-opacity="0.5"/>
<circle cx="304.93" cy="303.46" r="1.2" fill="#f0ae1c" fill-opacity="0.5"/>
<circle cx="304.45" cy="301.75" r="1.2" fill="#f0ae1c" fill-opacity="0.5"/>
<circle cx="304.87" cy="307.11" r="1.2" fill="#f0ae1c" fill-opacity="0.5"/>
<circle cx="304.83" cy="309.36" r="1.2" fill="#f0ae1c" fill-opacity="0.5"/>
<circle cx="304.79" cy="307.11" r="1.2" fill="#f0ae1c" fill-opacity="0.5"/>
<circle cx="304.58" cy="305.15" r="1.2" fill="#f0ae1c" fill-opacity="0.5"/>
<circle cx="304.46" cy="307.34" r="1.2" fill="#f0ae1c" fill-opacity="0.5"/>
<circle cx="304.83" cy="301.84" r="1.2" fill="#f0ae1c" fill-opacity="0.5"/>
<circle cx="304.83" cy="303.06" r="1.2" fill="#f0ae1c" fill-opacity="0.5"/>
<circle cx="304.65" cy="311" r="1.2" fill="#f0ae1c" fill-opacity="0.5"/>
<circle cx="304.84" cy="309.57" r="1.2" fill="#f0ae1c" fill-opacity="0.5"/>
<circle cx="304.52" cy="312.03" r="1.2" fill="#f0ae1c" fill-opacity="0.5"/>
<circle cx="304.64" cy="302.91" r="1.2" fill="#f0ae1c" fill-opacity="0.5"/>
<circle cx="304.6" cy="306.84" r="1.2" fill="#f0ae1c" fill-opacity="0.5"/>
<circle cx="304.73" cy="300.94" r="1.2" fill="#f0ae1c" fill-opacity="0.5"/>
<circle cx="304.63" cy="313.37" r="1.2" fill="#f0ae1c" fill-opacity="0.5"/>
<path d="M305,302.5H310M307.5,302.5V310.5M305,310.5H310" stroke="#3c3c3c" stroke-width="1" fill="none"/>
<circle cx="307.6" cy="306.6" r="0.8" fill="#999"/>
<circle cx="315.64" cy="305.47" r="1.2" fill="#f0ae1c" fill-opacity="0.42"/>
<circle cx="315.89" cy="303.28" r="1.2" fill="#f0ae1c" fill-opacity="0.42"/>
<circle cx="315.77" cy="300.19" r="1.2" fill="#f0ae1c" fill-opacity="0.42"/>
<circle cx="315.72" cy="304.23" r="1.2" fill="#f0ae1c" fill-opacity="0.42"/>
<circle cx="315.49" cy="314.14" r="1.2" fill="#f0ae1c" fill-opacity="0.42"/>
<circle cx="315.6" cy="312.06" r="1.2" fill="#f0ae1c" fill-opacity="0.42"/>
<circle cx="315.85" cy="307.97" r="1.2" fill="#f0ae1c" fill-opacity="0.42"/>
<circle cx="315.65" cy="308.13" r="1.2" fill="#f0ae1c" fill-opacity="0.42"/>
<circle cx="315.5" cy="312.44" r="1.2" fill="#f0ae1c" fill-opacity="0.42"/>
<circle cx="315.65" cy="309.86" r="1.2" fill="#f0ae1c" fill-opacity="0.5"/>
<circle cx="315.88" cy="308.39" r="1.2" fill="#f0ae1c" fill-opacity="0.5"/>
<circle cx="315.76" cy="312.21" r="1.2" fill="#f0ae1c" fill-opacity="0.5"/>
<circle cx="315.57" cy="305.21" r="1.2" fill="#f0ae1c" fill-opacity="0.5"/>
<circle cx="315.57" cy="307.34" r="1.2" fill="#f0ae1c" fill-opacity="0.5"/>
<circle cx="315.93" cy="304.77" r="1.2" fill="#f0ae1c" fill-opacity="0.5"/>
<circle cx="315.86" cy="302.4" r="1.2" fill="#f0ae1c" fill-opacity="0.5"/>
<circle cx="315.63" cy="306.22" r="1.2" fill="#f0ae1c" fill-opacity="0.5"/>
<circle cx="315.49" cy="305.35" r="1.2" fill="#f0ae1c" fill-opacity="0.5"/>
<circle cx="315.53" cy="307.34" r="1.2" fill="#f0ae1c" fill-opacity="0.5"/>
<circle cx="315.6" cy="307.12" r="1.2" fill="#f0ae1c" fill-opacity="0.5"/>
<circle cx="315.91" cy="313.59" r="1.2" fill="#f0ae1c" fill-opacity="0.5"/>
<circle cx="315.77" cy="307.12" r="1.2" fill="#f0ae1c" fill-opacity="0.5"/>
<circle cx="315.61" cy="314.09" r="1.2" fill="#f0ae1c" fill-opacity="0.5"/>
<circle cx="315.57" cy="302.22" r="1.2" fill="#f0ae1c" fill-opacity="0.5"/>
<circle cx="315.79" cy="303.51" r="1.2" fill="#f0ae1c" fill-opacity="0.5"/>
<circle cx="315.63" cy="306.15" r="1.2" fill="#f0ae1c" fill-opacity="0.5"/>
<circle cx="315.57" cy="312.17" r="1.2" fill="#f0ae1c" fill-opacity="0.5"/>
<circle cx="315.77" cy="312.36" r="1.2" fill="#f0ae1c" fill-opacity="0.5"/>
<circle cx="315.86" cy="306.52" r="1.2" fill="#f0ae1c" fill-opacity="0.5"/>
<circle cx="315.89" cy="305.69" r="1.2" fill="#f0ae1c" fill-opacity="0.5"/>
<circle cx="315.7" cy="314.04" r="1.2" fill="#f0ae1c" fill-opacity="0.5"/>
<circle cx="315.92" cy="310.67" r="1.2" fill="#f0ae1c" fill-opacity="0.5"/>
<circle cx="315.83" cy="311.42" r="1.2" fill="#f0ae1c" fill-opacity="0.5"/>
<circle cx="315.92" cy="313.23" r="1.2" fill="#f0ae1c" fill-opacity="0.5"/>
<circle cx="315.94" cy="311.58" r="1.2" fill="#f0ae1c" fill-opacity="0.5"/>
<circle cx="315.76" cy="304.97" r="1.2" fill="#f0ae1c" fill-opacity="0.5"/>
<circle cx="315.63" cy="310.39" r="1.2" fill="#f0ae1c" fill-opacity="0.5"/>
<circle cx="315.54" cy="306.45" r="1.2" fill="#f0ae1c" fill-opacity="0.5"/>
<circle cx="315.63" cy="314.5" r="1.2" fill="#f0ae1c" fill-opacity="0.5"/>
<path d="M316,302.5H321M318.5,302.5V311.5M316,311.5H321" stroke="#3c3c3c" stroke-width="1" fill="none"/>
<circle cx="318.6" cy="306.8" r="0.8" fill="#999"/>
<circle cx="326.9" cy="304.35" r="1.2" fill="#f0ae1c" fill-opacity="0.42"/>
<circle cx="326.93" cy="298.17" r="1.2" fill="#f0ae1c" fill-opacity="0.42"/>
<circle cx="326.46" cy="296.91" r="1.2" fill="#f0ae1c" fill-opacity="0.42"/>
<circle cx="326.63" cy="301.67" r="1.2" fill="#f0ae1c" fill-opacity="0.42"/>
<circle cx="326.89" cy="313.75" r="1.2" fill="#f0ae1c" fill-opacity="0.42"/>
<circle cx="326.67" cy="310.42" r="1.2" fill="#f0ae1c" fill-opacity="0.42"/>
<circle cx="326.57" cy="305.76" r="1.2" fill="#f0ae1c" fill-opacity="0.42"/>
<circle cx="326.64" cy="311.95" r="1.2" fill="#f0ae1c" fill-opacity="0.42"/>
<circle cx="326.77" cy="300.26" r="1.2" fill="#f0ae1c" fill-opacity="0.42"/>
<circle cx="326.61" cy="303.8" r="1.2" fill="#f0ae1c" fill-opacity="0.5"/>
<circle cx="326.5" cy="313.57" r="1.2" fill="#f0ae1c" fill-opacity="0.5"/>
<circle cx="326.55" cy="303.69" r="1.2" fill="#f0ae1c" fill-opacity="0.5"/>
<circle cx="326.66" cy="305.06" r="1.2" fill="#f0ae1c" fill-opacity="0.5"/>
<circle cx="326.62" cy="305.05" r="1.2" fill="#f0ae1c" fill-opacity="0.5"/>
<circle cx="326.57" cy="305.01" r="1.2" fill="#f0ae1c" fill-opacity="0.5"/>
<circle cx="326.62" cy="309.59" r="1.2" fill="#f0ae1c" fill-opacity="0.5"/>
<circle cx="326.83" cy="306.6" r="1.2" fill="#f0ae1c" fill-opacity="0.5"/>
<circle cx="326.52" cy="302.68" r="1.2" fill="#f0ae1c" fill-opacity="0.5"/>
<circle cx="326.66" cy="312.62" r="1.2" fill="#f0ae1c" fill-opacity="0.5"/>
<circle cx="326.52" cy="311.71" r="1.2" fill="#f0ae1c" fill-opacity="0.5"/>
<circle cx="326.87" cy="308.49" r="1.2" fill="#f0ae1c" fill-opacity="0.5"/>
<circle cx="326.83" cy="306.16" r="1.2" fill="#f0ae1c" fill-opacity="0.5"/>
<circle cx="326.65" cy="309.59" r="1.2" fill="#f0ae1c" fill-opacity="0.5"/>
<circle cx="326.65" cy="314.47" r="1.2" fill="#f0ae1c" fill-opacity="0.5"/>
<circle cx="326.76" cy="307.87" r="1.2" fill="#f0ae1c" fill-opacity="0.5"/>
<circle cx="326.87" cy="305.89" r="1.2" fill="#f0ae1c" fill-opacity="0.5"/>
<circle cx="326.74" cy="309.43" r="1.2" fill="#f0ae1c" fill-opacity="0.5"/>
<circle cx="326.94" cy="308.69" r="1.2" fill="#f0ae1c" fill-opacity="0.5"/>
<circle cx="326.87" cy="314.36" r="1.2" fill="#f0ae1c" fill-opacity="0.5"/>
<circle cx="326.66" cy="307.63" r="1.2" fill="#f0ae1c" fill-opacity="0.5"/>
<circle cx="326.47" cy="308.51" r="1.2" fill="#f0ae1c" fill-opacity="0.5"/>
<circle cx="326.95" cy="303.26" r="1.2" fill="#f0ae1c" fill-opacity="0.5"/>
<circle cx="326.92" cy="303.52" r="1.2" fill="#f0ae1c" fill-opacity="0.5"/>
<circle cx="326.91" cy="310.46" r="1.2" fill="#f0ae1c" fill-opacity="0.5"/>
<circle cx="326.6" cy="302.87" r="1.2" fill="#f0ae1c" fill-opacity="0.5"/>
<circle cx="326.45" cy="311.95" r="1.2" fill="#f0ae1c" fill-opacity="0.5"/>
<circle cx="326.63" cy="303.24" r="1.2" fill="#f0ae1c" fill-opacity="0.5"/>
<circle cx="326.52" cy="304.08" r="1.2" fill="#f0ae1c" fill-opacity="0.5"/>
<circle cx="326.5" cy="310.34" r="1.2" fill="#f0ae1c" fill-opacity="0.5"/>
<path d="M327,303.5H332M329.5,303.5V311.5M327,311.5H332" stroke="#3c3c3c" stroke-width="1" fill="none"/>
<circle cx="329.6" cy="307.35" r="0.8" fill="#999"/>
<circle cx="353.97" cy="313.86" r="1.2" fill="#78b22e" fill-opacity="0.42"/>
<circle cx="354.1" cy="293.12" r="1.2" fill="#78b22e" fill-opacity="0.42"/>
<circle cx="353.89" cy="297.43" r="1.2" fill="#78b22e" fill-opacity="0.42"/>
<circle cx="353.72" cy="304.57" r="1.2" fill="#78b22e" fill-opacity="0.42"/>
<circle cx="353.68" cy="303.3" r="1.2" fill="#78b22e" fill-opacity="0.42"/>
<circle cx="354.11" cy="296.49" r="1.2" fill="#78b22e" fill-opacity="0.42"/>
<circle cx="353.91" cy="310.5" r="1.2" fill="#78b22e" fill-opacity="0.42"/>
<circle cx="354.09" cy="307.34" r="1.2" fill="#78b22e" fill-opacity="0.42"/>
<circle cx="353.9" cy="295.15" r="1.2" fill="#78b22e" fill-opacity="0.42"/>
<circle cx="353.71" cy="301.78" r="1.2" fill="#78b22e" fill-opacity="0.5"/>
<circle cx="353.76" cy="301.46" r="1.2" fill="#78b22e" fill-opacity="0.5"/>
<circle cx="353.76" cy="300.72" r="1.2" fill="#78b22e" fill-opacity="0.5"/>
<circle cx="353.96" cy="305.12" r="1.2" fill="#78b22e" fill-opacity="0.5"/>
<circle cx="354.1" cy="311.59" r="1.2" fill="#78b22e" fill-opacity="0.5"/>
<circle cx="353.9" cy="309.69" r="1.2" fill="#78b22e" fill-opacity="0.5"/>
<circle cx="353.73" cy="312.38" r="1.2" fill="#78b22e" fill-opacity="0.5"/>
<circle cx="354.06" cy="301.42" r="1.2" fill="#78b22e" fill-opacity="0.5"/>
<circle cx="353.76" cy="308.47" r="1.2" fill="#78b22e" fill-opacity="0.5"/>
<circle cx="353.8" cy="305.09" r="1.2" fill="#78b22e" fill-opacity="0.5"/>
<circle cx="353.86" cy="305.82" r="1.2" fill="#78b22e" fill-opacity="0.5"/>
<circle cx="354.05" cy="305.38" r="1.2" fill="#78b22e" fill-opacity="0.5"/>
<circle cx="353.93" cy="310.96" r="1.2" fill="#78b22e" fill-opacity="0.5"/>
<circle cx="353.79" cy="306.38" r="1.2" fill="#78b22e" fill-opacity="0.5"/>
<circle cx="354.14" cy="310.33" r="1.2" fill="#78b22e" fill-opacity="0.5"/>
<circle cx="354" cy="303.09" r="1.2" fill="#78b22e" fill-opacity="0.5"/>
<circle cx="353.98" cy="309.44" r="1.2" fill="#78b22e" fill-opacity="0.5"/>
<circle cx="353.93" cy="300.41" r="1.2" fill="#78b22e" fill-opacity="0.5"/>
<circle cx="353.75" cy="302.73" r="1.2" fill="#78b22e" fill-opacity="0.5"/>
<circle cx="353.97" cy="307.83" r="1.2" fill="#78b22e" fill-opacity="0.5"/>
<circle cx="354.02" cy="308.44" r="1.2" fill="#78b22e" fill-opacity="0.5"/>
<circle cx="353.89" cy="309.49" r="1.2" fill="#78b22e" fill-opacity="0.5"/>
<circle cx="354.04" cy="300.65" r="1.2" fill="#78b22e" fill-opacity="0.5"/>
<circle cx="354.07" cy="311.11" r="1.2" fill="#78b22e" fill-opacity="0.5"/>
<circle cx="353.67" cy="308.07" r="1.2" fill="#78b22e" fill-opacity="0.5"/>
<circle cx="353.7" cy="302.64" r="1.2" fill="#78b22e" fill-opacity="0.5"/>
<circle cx="353.92" cy="308.58" r="1.2" fill="#78b22e" fill-opacity="0.5"/>
<circle cx="354.13" cy="302.52" r="1.2" fill="#78b22e" fill-opacity="0.5"/>
<circle cx="354.1" cy="313.2" r="1.2" fill="#78b22e" fill-opacity="0.5"/>
<circle cx="353.8" cy="306.26" r="1.2" fill="#78b22e" fill-opacity="0.5"/>
<path d="M349,301.5H354M351.5,301.5V311.5M349,311.5H354" stroke="#3c3c3c" stroke-width="1" fill="none"/>
<circle cx="351.6" cy="306.25" r="0.8" fill="#999"/>
<circle cx="365.06" cy="301.54" r="1.2" fill="#78b22e" fill-opacity="0.42"/>
<circle cx="364.79" cy="311.78" r="1.2" fill="#78b22e" fill-opacity="0.42"/>
<circle cx="364.93" cy="315.97" r="1.2" fill="#78b22e" fill-opacity="0.42"/>
<circle cx="364.86" cy="305.78" r="1.2" fill="#78b22e" fill-opacity="0.42"/>
<circle cx="364.88" cy="312.19" r="1.2" fill="#78b22e" fill-opacity="0.42"/>
<circle cx="364.71" cy="310.91" r="1.2" fill="#78b22e" fill-opacity="0.42"/>
<circle cx="364.79" cy="311.81" r="1.2" fill="#78b22e" fill-opacity="0.42"/>
<circle cx="364.76" cy="316.14" r="1.2" fill="#78b22e" fill-opacity="0.42"/>
<circle cx="364.92" cy="304.13" r="1.2" fill="#78b22e" fill-opacity="0.42"/>
<circle cx="364.91" cy="308.55" r="1.2" fill="#78b22e" fill-opacity="0.5"/>
<circle cx="364.75" cy="315.94" r="1.2" fill="#78b22e" fill-opacity="0.5"/>
<circle cx="365" cy="313.83" r="1.2" fill="#78b22e" fill-opacity="0.5"/>
<circle cx="364.87" cy="314.03" r="1.2" fill="#78b22e" fill-opacity="0.5"/>
<circle cx="364.82" cy="309.42" r="1.2" fill="#78b22e" fill-opacity="0.5"/>
<circle cx="364.78" cy="309.68" r="1.2" fill="#78b22e" fill-opacity="0.5"/>
<circle cx="364.89" cy="305.75" r="1.2" fill="#78b22e" fill-opacity="0.5"/>
<circle cx="364.88" cy="305.77" r="1.2" fill="#78b22e" fill-opacity="0.5"/>
<circle cx="364.8" cy="311.07" r="1.2" fill="#78b22e" fill-opacity="0.5"/>
<circle cx="364.95" cy="305.47" r="1.2" fill="#78b22e" fill-opacity="0.5"/>
<circle cx="364.76" cy="315.06" r="1.2" fill="#78b22e" fill-opacity="0.5"/>
<circle cx="364.98" cy="311.66" r="1.2" fill="#78b22e" fill-opacity="0.5"/>
<circle cx="364.99" cy="315.4" r="1.2" fill="#78b22e" fill-opacity="0.5"/>
<circle cx="364.75" cy="307.38" r="1.2" fill="#78b22e" fill-opacity="0.5"/>
<circle cx="364.8" cy="314.73" r="1.2" fill="#78b22e" fill-opacity="0.5"/>
<circle cx="365.09" cy="303.28" r="1.2" fill="#78b22e" fill-opacity="0.5"/>
<circle cx="364.81" cy="305.85" r="1.2" fill="#78b22e" fill-opacity="0.5"/>
<circle cx="364.78" cy="307.53" r="1.2" fill="#78b22e" fill-opacity="0.5"/>
<circle cx="364.82" cy="313.17" r="1.2" fill="#78b22e" fill-opacity="0.5"/>
<circle cx="364.86" cy="309.22" r="1.2" fill="#78b22e" fill-opacity="0.5"/>
<circle cx="364.66" cy="314.69" r="1.2" fill="#78b22e" fill-opacity="0.5"/>
<circle cx="364.72" cy="311.16" r="1.2" fill="#78b22e" fill-opacity="0.5"/>
<circle cx="364.95" cy="305.19" r="1.2" fill="#78b22e" fill-opacity="0.5"/>
<circle cx="364.68" cy="308.32" r="1.2" fill="#78b22e" fill-opacity="0.5"/>
<circle cx="365.11" cy="311.28" r="1.2" fill="#78b22e" fill-opacity="0.5"/>
<circle cx="364.9" cy="312.07" r="1.2" fill="#78b22e" fill-opacity="0.5"/>
<circle cx="365.11" cy="314.23" r="1.2" fill="#78b22e" fill-opacity="0.5"/>
<circle cx="364.8" cy="305.2" r="1.2" fill="#78b22e" fill-opacity="0.5"/>
<circle cx="365.11" cy="316.51" r="1.2" fill="#78b22e" fill-opacity="0.5"/>
<circle cx="365" cy="305.92" r="1.2" fill="#78b22e" fill-opacity="0.5"/>
<path d="M360,304.5H365M362.5,304.5V312.5M360,312.5H365" stroke="#3c3c3c" stroke-width="1" fill="none"/>
<circle cx="362.6" cy="308.4" r="0.8" fill="#999"/>
<circle cx="375.95" cy="310.63" r="1.2" fill="#78b22e" fill-opacity="0.42"/>
<circle cx="375.91" cy="307.65" r="1.2" fill="#78b22e" fill-opacity="0.42"/>
<circle cx="375.76" cy="299.56" r="1.2" fill="#78b22e" fill-opacity="0.42"/>
<circle cx="375.98" cy="296.57" r="1.2" fill="#78b22e" fill-opacity="0.42"/>
<circle cx="375.96" cy="297.89" r="1.2" fill="#78b22e" fill-opacity="0.42"/>
<circle cx="375.87" cy="302.27" r="1.2" fill="#78b22e" fill-opacity="0.42"/>
<circle cx="375.85" cy="312.29" r="1.2" fill="#78b22e" fill-opacity="0.42"/>
<circle cx="375.84" cy="303.71" r="1.2" fill="#78b22e" fill-opacity="0.42"/>
<circle cx="375.76" cy="299.22" r="1.2" fill="#78b22e" fill-opacity="0.42"/>
<circle cx="376.06" cy="306.71" r="1.2" fill="#78b22e" fill-opacity="0.5"/>
<circle cx="376.12" cy="301.89" r="1.2" fill="#78b22e" fill-opacity="0.5"/>
<circle cx="375.68" cy="308.25" r="1.2" fill="#78b22e" fill-opacity="0.5"/>
<circle cx="375.85" cy="308.61" r="1.2" fill="#78b22e" fill-opacity="0.5"/>
<circle cx="375.7" cy="306.51" r="1.2" fill="#78b22e" fill-opacity="0.5"/>
<circle cx="375.91" cy="306.46" r="1.2" fill="#78b22e" fill-opacity="0.5"/>
<circle cx="375.94" cy="309.43" r="1.2" fill="#78b22e" fill-opacity="0.5"/>
<circle cx="376.02" cy="308.58" r="1.2" fill="#78b22e" fill-opacity="0.5"/>
<circle cx="375.66" cy="303.31" r="1.2" fill="#78b22e" fill-opacity="0.5"/>
<circle cx="375.71" cy="306.12" r="1.2" fill="#78b22e" fill-opacity="0.5"/>
<circle cx="375.81" cy="302.45" r="1.2" fill="#78b22e" fill-opacity="0.5"/>
<circle cx="375.96" cy="306.76" r="1.2" fill="#78b22e" fill-opacity="0.5"/>
<circle cx="376.12" cy="307.95" r="1.2" fill="#78b22e" fill-opacity="0.5"/>
<circle cx="375.93" cy="302.01" r="1.2" fill="#78b22e" fill-opacity="0.5"/>
<circle cx="375.99" cy="301.84" r="1.2" fill="#78b22e" fill-opacity="0.5"/>
<circle cx="375.72" cy="305.67" r="1.2" fill="#78b22e" fill-opacity="0.5"/>
<circle cx="375.98" cy="304.28" r="1.2" fill="#78b22e" fill-opacity="0.5"/>
<circle cx="376.12" cy="306.06" r="1.2" fill="#78b22e" fill-opacity="0.5"/>
<circle cx="375.82" cy="304.77" r="1.2" fill="#78b22e" fill-opacity="0.5"/>
<circle cx="375.95" cy="310.96" r="1.2" fill="#78b22e" fill-opacity="0.5"/>
<circle cx="376.04" cy="302.07" r="1.2" fill="#78b22e" fill-opacity="0.5"/>
<circle cx="376.12" cy="304.86" r="1.2" fill="#78b22e" fill-opacity="0.5"/>
<circle cx="376.05" cy="307.83" r="1.2" fill="#78b22e" fill-opacity="0.5"/>
<circle cx="375.9" cy="310.67" r="1.2" fill="#78b22e" fill-opacity="0.5"/>
<circle cx="375.66" cy="311.44" r="1.2" fill="#78b22e" fill-opacity="0.5"/>
<circle cx="376.07" cy="304.61" r="1.2" fill="#78b22e" fill-opacity="0.5"/>
<circle cx="375.99" cy="300.99" r="1.2" fill="#78b22e" fill-opacity="0.5"/>
<circle cx="376.01" cy="311.79" r="1.2" fill="#78b22e" fill-opacity="0.5"/>
<circle cx="375.69" cy="310.3" r="1.2" fill="#78b22e" fill-opacity="0.5"/>
<circle cx="375.95" cy="306.79" r="1.2" fill="#78b22e" fill-opacity="0.5"/>
<path d="M371,302.5H376M373.5,302.5V310.5M371,310.5H376" stroke="#3c3c3c" stroke-width="1" fill="none"/>
<circle cx="373.6" cy="306.3" r="0.8" fill="#999"/>
<circle cx="386.86" cy="302.98" r="1.2" fill="#78b22e" fill-opacity="0.42"/>
<circle cx="386.73" cy="310.54" r="1.2" fill="#78b22e" fill-opacity="0.42"/>
<circle cx="386.95" cy="294.66" r="1.2" fill="#78b22e" fill-opacity="0.42"/>
<circle cx="387.06" cy="314.29" r="1.2" fill="#78b22e" fill-opacity="0.42"/>
<circle cx="386.8" cy="308.04" r="1.2" fill="#78b22e" fill-opacity="0.42"/>
<circle cx="386.67" cy="312.96" r="1.2" fill="#78b22e" fill-opacity="0.42"/>
<circle cx="387.04" cy="298.95" r="1.2" fill="#78b22e" fill-opacity="0.42"/>
<circle cx="386.85" cy="312.76" r="1.2" fill="#78b22e" fill-opacity="0.42"/>
<circle cx="386.71" cy="313.07" r="1.2" fill="#78b22e" fill-opacity="0.42"/>
<circle cx="386.68" cy="308.24" r="1.2" fill="#78b22e" fill-opacity="0.5"/>
<circle cx="386.74" cy="303.04" r="1.2" fill="#78b22e" fill-opacity="0.5"/>
<circle cx="386.85" cy="299.79" r="1.2" fill="#78b22e" fill-opacity="0.5"/>
<circle cx="386.79" cy="306.85" r="1.2" fill="#78b22e" fill-opacity="0.5"/>
<circle cx="386.68" cy="309.02" r="1.2" fill="#78b22e" fill-opacity="0.5"/>
<circle cx="386.91" cy="307.1" r="1.2" fill="#78b22e" fill-opacity="0.5"/>
<circle cx="387.11" cy="305.46" r="1.2" fill="#78b22e" fill-opacity="0.5"/>
<circle cx="386.86" cy="301.51" r="1.2" fill="#78b22e" fill-opacity="0.5"/>
<circle cx="386.84" cy="306.28" r="1.2" fill="#78b22e" fill-opacity="0.5"/>
<circle cx="386.94" cy="313.62" r="1.2" fill="#78b22e" fill-opacity="0.5"/>
<circle cx="386.87" cy="307.08" r="1.2" fill="#78b22e" fill-opacity="0.5"/>
<circle cx="387.13" cy="305.96" r="1.2" fill="#78b22e" fill-opacity="0.5"/>
<circle cx="386.97" cy="311.13" r="1.2" fill="#78b22e" fill-opacity="0.5"/>
<circle cx="386.95" cy="302.02" r="1.2" fill="#78b22e" fill-opacity="0.5"/>
<circle cx="386.83" cy="301.53" r="1.2" fill="#78b22e" fill-opacity="0.5"/>
<circle cx="387" cy="300.03" r="1.2" fill="#78b22e" fill-opacity="0.5"/>
<circle cx="386.97" cy="313.68" r="1.2" fill="#78b22e" fill-opacity="0.5"/>
<circle cx="386.78" cy="307.85" r="1.2" fill="#78b22e" fill-opacity="0.5"/>
<circle cx="386.88" cy="306.03" r="1.2" fill="#78b22e" fill-opacity="0.5"/>
<circle cx="386.78" cy="305.75" r="1.2" fill="#78b22e" fill-opacity="0.5"/>
<circle cx="387.03" cy="302.84" r="1.2" fill="#78b22e" fill-opacity="0.5"/>
<circle cx="387.06" cy="313.32" r="1.2" fill="#78b22e" fill-opacity="0.5"/>
<circle cx="386.66" cy="308.59" r="1.2" fill="#78b22e" fill-opacity="0.5"/>
<circle cx="387.07" cy="304.02" r="1.2" fill="#78b22e" fill-opacity="0.5"/>
<circle cx="386.92" cy="313.61" r="1.2" fill="#78b22e" fill-opacity="0.5"/>
<circle cx="386.99" cy="307.84" r="1.2" fill="#78b22e" fill-opacity="0.5"/>
<circle cx="387.01" cy="303.23" r="1.2" fill="#78b22e" fill-opacity="0.5"/>
<circle cx="387.07" cy="304.92" r="1.2" fill="#78b22e" fill-opacity="0.5"/>
<circle cx="386.98" cy="306.3" r="1.2" fill="#78b22e" fill-opacity="0.5"/>
<circle cx="386.92" cy="307.65" r="1.2" fill="#78b22e" fill-opacity="0.5"/>
<path d="M382,301.5H387M384.5,301.5V309.5M382,309.5H387" stroke="#3c3c3c" stroke-width="1" fill="none"/>
<circle cx="384.6" cy="305.25" r="0.8" fill="#999"/>
<circle cx="398.13" cy="305.04" r="1.2" fill="#78b22e" fill-opacity="0.42"/>
<circle cx="397.86" cy="311.12" r="1.2" fill="#78b22e" fill-opacity="0.42"/>
<circle cx="398.1" cy="305.96" r="1.2" fill="#78b22e" fill-opacity="0.42"/>
<circle cx="397.98" cy="310.96" r="1.2" fill="#78b22e" fill-opacity="0.42"/>
<circle cx="397.71" cy="315.35" r="1.2" fill="#78b22e" fill-opacity="0.42"/>
<circle cx="397.96" cy="307.88" r="1.2" fill="#78b22e" fill-opacity="0.42"/>
<circle cx="398.13" cy="304.91" r="1.2" fill="#78b22e" fill-opacity="0.42"/>
<circle cx="397.85" cy="315.53" r="1.2" fill="#78b22e" fill-opacity="0.42"/>
<circle cx="398.03" cy="308.26" r="1.2" fill="#78b22e" fill-opacity="0.42"/>
<circle cx="397.83" cy="310.85" r="1.2" fill="#78b22e" fill-opacity="0.5"/>
<circle cx="397.82" cy="312.31" r="1.2" fill="#78b22e" fill-opacity="0.5"/>
<circle cx="397.98" cy="303" r="1.2" fill="#78b22e" fill-opacity="0.5"/>
<circle cx="397.85" cy="310.18" r="1.2" fill="#78b22e" fill-opacity="0.5"/>
<circle cx="398.14" cy="308.03" r="1.2" fill="#78b22e" fill-opacity="0.5"/>
<circle cx="397.85" cy="312.46" r="1.2" fill="#78b22e" fill-opacity="0.5"/>
<circle cx="397.94" cy="313.94" r="1.2" fill="#78b22e" fill-opacity="0.5"/>
<circle cx="397.97" cy="306.69" r="1.2" fill="#78b22e" fill-opacity="0.5"/>
<circle cx="398.1" cy="312.11" r="1.2" fill="#78b22e" fill-opacity="0.5"/>
<circle cx="397.98" cy="310.49" r="1.2" fill="#78b22e" fill-opacity="0.5"/>
<circle cx="397.67" cy="306.63" r="1.2" fill="#78b22e" fill-opacity="0.5"/>
<circle cx="397.71" cy="307.4" r="1.2" fill="#78b22e" fill-opacity="0.5"/>
<circle cx="397.83" cy="314.37" r="1.2" fill="#78b22e" fill-opacity="0.5"/>
<circle cx="398.02" cy="309.55" r="1.2" fill="#78b22e" fill-opacity="0.5"/>
<circle cx="398.07" cy="303.45" r="1.2" fill="#78b22e" fill-opacity="0.5"/>
<circle cx="397.69" cy="305.56" r="1.2" fill="#78b22e" fill-opacity="0.5"/>
<circle cx="397.85" cy="309.48" r="1.2" fill="#78b22e" fill-opacity="0.5"/>
<circle cx="397.87" cy="314.04" r="1.2" fill="#78b22e" fill-opacity="0.5"/>
<circle cx="397.66" cy="302.25" r="1.2" fill="#78b22e" fill-opacity="0.5"/>
<circle cx="397.9" cy="301.33" r="1.2" fill="#78b22e" fill-opacity="0.5"/>
<circle cx="397.68" cy="311.11" r="1.2" fill="#78b22e" fill-opacity="0.5"/>
<circle cx="397.89" cy="305.62" r="1.2" fill="#78b22e" fill-opacity="0.5"/>
<circle cx="398.14" cy="313.74" r="1.2" fill="#78b22e" fill-opacity="0.5"/>
<circle cx="397.97" cy="313.41" r="1.2" fill="#78b22e" fill-opacity="0.5"/>
<circle cx="397.76" cy="309.12" r="1.2" fill="#78b22e" fill-opacity="0.5"/>
<circle cx="397.73" cy="309.66" r="1.2" fill="#78b22e" fill-opacity="0.5"/>
<circle cx="398.07" cy="305.24" r="1.2" fill="#78b22e" fill-opacity="0.5"/>
<circle cx="398.01" cy="309.02" r="1.2" fill="#78b22e" fill-opacity="0.5"/>
<circle cx="397.79" cy="307.55" r="1.2" fill="#78b22e" fill-opacity="0.5"/>
<circle cx="397.94" cy="308.1" r="1.2" fill="#78b22e" fill-opacity="0.5"/>
<path d="M393,302.5H398M395.5,302.5V310.5M393,310.5H398" stroke="#3c3c3c" stroke-width="1" fill="none"/>
<circle cx="395.6" cy="306.45" r="0.8" fill="#999"/>
<circle cx="409.07" cy="300.29" r="1.2" fill="#78b22e" fill-opacity="0.42"/>
<circle cx="408.74" cy="312.49" r="1.2" fill="#78b22e" fill-opacity="0.42"/>
<circle cx="409.06" cy="300.3" r="1.2" fill="#78b22e" fill-opacity="0.42"/>
<circle cx="408.76" cy="308.21" r="1.2" fill="#78b22e" fill-opacity="0.42"/>
<circle cx="408.77" cy="305.97" r="1.2" fill="#78b22e" fill-opacity="0.42"/>
<circle cx="408.94" cy="310.54" r="1.2" fill="#78b22e" fill-opacity="0.42"/>
<circle cx="408.73" cy="304.73" r="1.2" fill="#78b22e" fill-opacity="0.42"/>
<circle cx="408.89" cy="302.99" r="1.2" fill="#78b22e" fill-opacity="0.42"/>
<circle cx="408.74" cy="302.27" r="1.2" fill="#78b22e" fill-opacity="0.42"/>
<circle cx="409" cy="303.06" r="1.2" fill="#78b22e" fill-opacity="0.5"/>
<circle cx="409.07" cy="310.98" r="1.2" fill="#78b22e" fill-opacity="0.5"/>
<circle cx="409.05" cy="307.61" r="1.2" fill="#78b22e" fill-opacity="0.5"/>
<circle cx="408.75" cy="302.36" r="1.2" fill="#78b22e" fill-opacity="0.5"/>
<circle cx="408.65" cy="308.57" r="1.2" fill="#78b22e" fill-opacity="0.5"/>
<circle cx="409.04" cy="301.81" r="1.2" fill="#78b22e" fill-opacity="0.5"/>
<circle cx="408.74" cy="303.05" r="1.2" fill="#78b22e" fill-opacity="0.5"/>
<circle cx="409.07" cy="305.21" r="1.2" fill="#78b22e" fill-opacity="0.5"/>
<circle cx="409.09" cy="301.01" r="1.2" fill="#78b22e" fill-opacity="0.5"/>
<circle cx="408.94" cy="304.22" r="1.2" fill="#78b22e" fill-opacity="0.5"/>
<circle cx="408.71" cy="306.05" r="1.2" fill="#78b22e" fill-opacity="0.5"/>
<circle cx="408.74" cy="311.35" r="1.2" fill="#78b22e" fill-opacity="0.5"/>
<circle cx="409.09" cy="309.67" r="1.2" fill="#78b22e" fill-opacity="0.5"/>
<circle cx="409.13" cy="305.85" r="1.2" fill="#78b22e" fill-opacity="0.5"/>
<circle cx="408.72" cy="301.59" r="1.2" fill="#78b22e" fill-opacity="0.5"/>
<circle cx="408.69" cy="306.17" r="1.2" fill="#78b22e" fill-opacity="0.5"/>
<circle cx="408.91" cy="309.71" r="1.2" fill="#78b22e" fill-opacity="0.5"/>
<circle cx="408.79" cy="309.61" r="1.2" fill="#78b22e" fill-opacity="0.5"/>
<circle cx="409.1" cy="301.2" r="1.2" fill="#78b22e" fill-opacity="0.5"/>
<circle cx="408.86" cy="303.17" r="1.2" fill="#78b22e" fill-opacity="0.5"/>
<circle cx="408.94" cy="302.27" r="1.2" fill="#78b22e" fill-opacity="0.5"/>
<circle cx="408.75" cy="305.96" r="1.2" fill="#78b22e" fill-opacity="0.5"/>
<circle cx="408.82" cy="301.33" r="1.2" fill="#78b22e" fill-opacity="0.5"/>
<circle cx="408.73" cy="309.44" r="1.2" fill="#78b22e" fill-opacity="0.5"/>
<circle cx="408.96" cy="303.39" r="1.2" fill="#78b22e" fill-opacity="0.5"/>
<circle cx="409.05" cy="307.82" r="1.2" fill="#78b22e" fill-opacity="0.5"/>
<circle cx="409.07" cy="307.93" r="1.2" fill="#78b22e" fill-opacity="0.5"/>
<circle cx="409.11" cy="302.59" r="1.2" fill="#78b22e" fill-opacity="0.5"/>
<circle cx="408.71" cy="301.21" r="1.2" fill="#78b22e" fill-opacity="0.5"/>
<circle cx="409.04" cy="302.03" r="1.2" fill="#78b22e" fill-opacity="0.5"/>
<path d="M404,302.5H409M406.5,302.5V309.5M404,309.5H409" stroke="#3c3c3c" stroke-width="1" fill="none"/>
<circle cx="406.6" cy="305.85" r="0.8" fill="#999"/>
<circle cx="420.11" cy="306.17" r="1.2" fill="#78b22e" fill-opacity="0.42"/>
<circle cx="420.13" cy="318.54" r="1.2" fill="#78b22e" fill-opacity="0.42"/>
<circle cx="419.83" cy="309.05" r="1.2" fill="#78b22e" fill-opacity="0.42"/>
<circle cx="420.02" cy="318.07" r="1.2" fill="#78b22e" fill-opacity="0.42"/>
<circle cx="419.93" cy="298.05" r="1.2" fill="#78b22e" fill-opacity="0.42"/>
<circle cx="419.66" cy="293.43" r="1.2" fill="#78b22e" fill-opacity="0.42"/>
<circle cx="420.01" cy="309.7" r="1.2" fill="#78b22e" fill-opacity="0.42"/>
<circle cx="420.03" cy="315.55" r="1.2" fill="#78b22e" fill-opacity="0.42"/>
<circle cx="420.02" cy="296.5" r="1.2" fill="#78b22e" fill-opacity="0.42"/>
<circle cx="419.99" cy="317.87" r="1.2" fill="#78b22e" fill-opacity="0.5"/>
<circle cx="419.8" cy="309.21" r="1.2" fill="#78b22e" fill-opacity="0.5"/>
<circle cx="419.96" cy="302" r="1.2" fill="#78b22e" fill-opacity="0.5"/>
<circle cx="419.71" cy="317.54" r="1.2" fill="#78b22e" fill-opacity="0.5"/>
<circle cx="420.1" cy="315.1" r="1.2" fill="#78b22e" fill-opacity="0.5"/>
<circle cx="420.07" cy="306.99" r="1.2" fill="#78b22e" fill-opacity="0.5"/>
<circle cx="419.8" cy="303.59" r="1.2" fill="#78b22e" fill-opacity="0.5"/>
<circle cx="420.09" cy="310.7" r="1.2" fill="#78b22e" fill-opacity="0.5"/>
<circle cx="419.69" cy="310.17" r="1.2" fill="#78b22e" fill-opacity="0.5"/>
<circle cx="419.94" cy="316.99" r="1.2" fill="#78b22e" fill-opacity="0.5"/>
<circle cx="419.76" cy="314.38" r="1.2" fill="#78b22e" fill-opacity="0.5"/>
<circle cx="419.7" cy="306.69" r="1.2" fill="#78b22e" fill-opacity="0.5"/>
<circle cx="419.87" cy="304.13" r="1.2" fill="#78b22e" fill-opacity="0.5"/>
<circle cx="419.98" cy="308.01" r="1.2" fill="#78b22e" fill-opacity="0.5"/>
<circle cx="419.82" cy="315.32" r="1.2" fill="#78b22e" fill-opacity="0.5"/>
<circle cx="419.98" cy="316.91" r="1.2" fill="#78b22e" fill-opacity="0.5"/>
<circle cx="419.74" cy="306.87" r="1.2" fill="#78b22e" fill-opacity="0.5"/>
<circle cx="419.98" cy="317.44" r="1.2" fill="#78b22e" fill-opacity="0.5"/>
<circle cx="419.99" cy="301.64" r="1.2" fill="#78b22e" fill-opacity="0.5"/>
<circle cx="419.86" cy="307.44" r="1.2" fill="#78b22e" fill-opacity="0.5"/>
<circle cx="419.76" cy="314.14" r="1.2" fill="#78b22e" fill-opacity="0.5"/>
<circle cx="419.92" cy="305.54" r="1.2" fill="#78b22e" fill-opacity="0.5"/>
<circle cx="419.69" cy="316.55" r="1.2" fill="#78b22e" fill-opacity="0.5"/>
<circle cx="420.01" cy="315.33" r="1.2" fill="#78b22e" fill-opacity="0.5"/>
<circle cx="419.98" cy="303.97" r="1.2" fill="#78b22e" fill-opacity="0.5"/>
<circle cx="420" cy="311.65" r="1.2" fill="#78b22e" fill-opacity="0.5"/>
<circle cx="419.81" cy="310.19" r="1.2" fill="#78b22e" fill-opacity="0.5"/>
<circle cx="419.77" cy="309.59" r="1.2" fill="#78b22e" fill-opacity="0.5"/>
<circle cx="419.85" cy="308.78" r="1.2" fill="#78b22e" fill-opacity="0.5"/>
<circle cx="419.77" cy="302.75" r="1.2" fill="#78b22e" fill-opacity="0.5"/>
<path d="M415,302.5H420M417.5,302.5V312.5M415,312.5H420" stroke="#3c3c3c" stroke-width="1" fill="none"/>
<circle cx="417.6" cy="307.3" r="0.8" fill="#999"/>
<circle cx="430.85" cy="270.17" r="1.2" fill="#78b22e" fill-opacity="0.6"/>
<circle cx="431.02" cy="272.25" r="1.2" fill="#78b22e" fill-opacity="0.6"/>
<circle cx="430.93" cy="269.36" r="1.2" fill="#78b22e" fill-opacity="0.6"/>
<circle cx="430.76" cy="270.11" r="1.2" fill="#78b22e" fill-opacity="0.6"/>
<circle cx="431.13" cy="268.23" r="1.2" fill="#78b22e" fill-opacity="0.6"/>
<circle cx="431.07" cy="275.76" r="1.2" fill="#78b22e" fill-opacity="0.6"/>
<circle cx="430.73" cy="268.53" r="1.2" fill="#78b22e" fill-opacity="0.6"/>
<circle cx="430.8" cy="267.89" r="1.2" fill="#78b22e" fill-opacity="0.6"/>
<circle cx="430.65" cy="303.08" r="1.2" fill="#78b22e" fill-opacity="0.7"/>
<circle cx="430.99" cy="302.98" r="1.2" fill="#78b22e" fill-opacity="0.7"/>
<circle cx="430.74" cy="313.68" r="1.2" fill="#78b22e" fill-opacity="0.7"/>
<circle cx="431.05" cy="292.05" r="1.2" fill="#78b22e" fill-opacity="0.7"/>
<circle cx="430.81" cy="301.88" r="1.2" fill="#78b22e" fill-opacity="0.7"/>
<circle cx="430.78" cy="296.02" r="1.2" fill="#78b22e" fill-opacity="0.7"/>
<circle cx="430.78" cy="298.92" r="1.2" fill="#78b22e" fill-opacity="0.7"/>
<circle cx="430.91" cy="298.05" r="1.2" fill="#78b22e" fill-opacity="0.7"/>
<circle cx="430.8" cy="313.14" r="1.2" fill="#78b22e" fill-opacity="0.7"/>
<circle cx="430.89" cy="302.82" r="1.2" fill="#78b22e" fill-opacity="0.7"/>
<circle cx="431.03" cy="313.9" r="1.2" fill="#78b22e" fill-opacity="0.7"/>
<circle cx="430.74" cy="317.62" r="1.2" fill="#78b22e" fill-opacity="0.7"/>
<circle cx="430.8" cy="312.94" r="1.2" fill="#78b22e" fill-opacity="0.7"/>
<circle cx="430.91" cy="306.99" r="1.2" fill="#78b22e" fill-opacity="0.7"/>
<circle cx="430.81" cy="306.94" r="1.2" fill="#78b22e" fill-opacity="0.7"/>
<circle cx="430.65" cy="293.87" r="1.2" fill="#78b22e" fill-opacity="0.7"/>
<path d="M426,289.5H431M428.5,289.5V314.5M426,314.5H431" stroke="#3c3c3c" stroke-width="1" fill="none"/>
<circle cx="428.6" cy="302.15" r="0.8" fill="#999"/>
<g transform="translate(253.1,332) rotate(55)"><text x="0" y="0" font-family='"Liberation Serif", serif' font-size="12.6" fill="#333"><tspan font-style="italic">&#8467;</tspan><tspan font-size="8.4" dy="2.9">1</tspan><tspan font-size="8.4" dx="-3.4" dy="-8.2">(m)</tspan></text></g>
<g transform="translate(275.1,332) rotate(55)"><text x="0" y="0" font-family='"Liberation Serif", serif' font-size="12.6" fill="#333"><tspan font-style="italic">&#8467;</tspan><tspan font-size="8.4" dy="2.9">3</tspan><tspan font-size="8.4" dx="-3.4" dy="-8.2">(m)</tspan></text></g>
<g transform="translate(297.1,332) rotate(55)"><text x="0" y="0" font-family='"Liberation Serif", serif' font-size="12.6" fill="#333"><tspan font-style="italic">&#8467;</tspan><tspan font-size="8.4" dy="2.9">5</tspan><tspan font-size="8.4" dx="-3.4" dy="-8.2">(m)</tspan></text></g>
<g transform="translate(319.1,332) rotate(55)"><text x="0" y="0" font-family='"Liberation Serif", serif' font-size="12.6" fill="#333"><tspan font-style="italic">&#8467;</tspan><tspan font-size="8.4" dy="2.9">7</tspan><tspan font-size="8.4" dx="-3.4" dy="-8.2">(m)</tspan></text></g>
<g transform="translate(341.1,332) rotate(55)"><text x="0" y="0" font-family='"Liberation Serif", serif' font-size="12.6" fill="#333"><tspan font-style="italic">&#8467;</tspan><tspan font-size="8.4" dy="2.9">1</tspan><tspan font-size="8.4" dx="-3.4" dy="-8.2">(M)</tspan></text></g>
<g transform="translate(363.1,332) rotate(55)"><text x="0" y="0" font-family='"Liberation Serif", serif' font-size="12.6" fill="#333"><tspan font-style="italic">&#8467;</tspan><tspan font-size="8.4" dy="2.9">3</tspan><tspan font-size="8.4" dx="-3.4" dy="-8.2">(M)</tspan></text></g>
<g transform="translate(385.1,332) rotate(55)"><text x="0" y="0" font-family='"Liberation Serif", serif' font-size="12.6" fill="#333"><tspan font-style="italic">&#8467;</tspan><tspan font-size="8.4" dy="2.9">5</tspan><tspan font-size="8.4" dx="-3.4" dy="-8.2">(M)</tspan></text></g>
<g transform="translate(407.1,332) rotate(55)"><text x="0" y="0" font-family='"Liberation Serif", serif' font-size="12.6" fill="#333"><tspan font-style="italic">&#8467;</tspan><tspan font-size="8.4" dy="2.9">7</tspan><tspan font-size="8.4" dx="-3.4" dy="-8.2">(M)</tspan></text></g>
<rect x="479.2" y="229.9" width="187.5" height="92.8" fill="none" stroke="#c4c4c4" stroke-width="0.9"/>
<line x1="479.2" y1="232.2" x2="480.8" y2="232.2" stroke="#aaa" stroke-width="0.7"/>
<line x1="666.7" y1="232.2" x2="665.1" y2="232.2" stroke="#aaa" stroke-width="0.7"/>
<text x="476.8" y="235.9" text-anchor="end" font-family='"Liberation Serif", serif' font-size="11" fill="#262626">0</text>
<line x1="479.2" y1="261.8" x2="480.8" y2="261.8" stroke="#aaa" stroke-width="0.7"/>
<line x1="666.7" y1="261.8" x2="665.1" y2="261.8" stroke="#aaa" stroke-width="0.7"/>
<text x="476.8" y="265.5" text-anchor="end" font-family='"Liberation Serif", serif' font-size="11" fill="#262626">-5</text>
<line x1="479.2" y1="291.4" x2="480.8" y2="291.4" stroke="#aaa" stroke-width="0.7"/>
<line x1="666.7" y1="291.4" x2="665.1" y2="291.4" stroke="#aaa" stroke-width="0.7"/>
<text x="476.8" y="295.1" text-anchor="end" font-family='"Liberation Serif", serif' font-size="11" fill="#262626">-10</text>
<line x1="479.2" y1="321" x2="480.8" y2="321" stroke="#aaa" stroke-width="0.7"/>
<line x1="666.7" y1="321" x2="665.1" y2="321" stroke="#aaa" stroke-width="0.7"/>
<text x="476.8" y="324.7" text-anchor="end" font-family='"Liberation Serif", serif' font-size="11" fill="#262626">-15</text>
<line x1="490" y1="229.9" x2="490" y2="231.5" stroke="#aaa" stroke-width="0.7"/>
<line x1="490" y1="322.7" x2="490" y2="321.1" stroke="#aaa" stroke-width="0.7"/>
<line x1="501.08" y1="229.9" x2="501.08" y2="231.5" stroke="#aaa" stroke-width="0.7"/>
<line x1="501.08" y1="322.7" x2="501.08" y2="321.1" stroke="#aaa" stroke-width="0.7"/>
<line x1="512.16" y1="229.9" x2="512.16" y2="231.5" stroke="#aaa" stroke-width="0.7"/>
<line x1="512.16" y1="322.7" x2="512.16" y2="321.1" stroke="#aaa" stroke-width="0.7"/>
<line x1="523.24" y1="229.9" x2="523.24" y2="231.5" stroke="#aaa" stroke-width="0.7"/>
<line x1="523.24" y1="322.7" x2="523.24" y2="321.1" stroke="#aaa" stroke-width="0.7"/>
<line x1="534.32" y1="229.9" x2="534.32" y2="231.5" stroke="#aaa" stroke-width="0.7"/>
<line x1="534.32" y1="322.7" x2="534.32" y2="321.1" stroke="#aaa" stroke-width="0.7"/>
<line x1="545.4" y1="229.9" x2="545.4" y2="231.5" stroke="#aaa" stroke-width="0.7"/>
<line x1="545.4" y1="322.7" x2="545.4" y2="321.1" stroke="#aaa" stroke-width="0.7"/>
<line x1="556.48" y1="229.9" x2="556.48" y2="231.5" stroke="#aaa" stroke-width="0.7"/>
<line x1="556.48" y1="322.7" x2="556.48" y2="321.1" stroke="#aaa" stroke-width="0.7"/>
<line x1="567.56" y1="229.9" x2="567.56" y2="231.5" stroke="#aaa" stroke-width="0.7"/>
<line x1="567.56" y1="322.7" x2="567.56" y2="321.1" stroke="#aaa" stroke-width="0.7"/>
<line x1="578.64" y1="229.9" x2="578.64" y2="231.5" stroke="#aaa" stroke-width="0.7"/>
<line x1="578.64" y1="322.7" x2="578.64" y2="321.1" stroke="#aaa" stroke-width="0.7"/>
<line x1="589.72" y1="229.9" x2="589.72" y2="231.5" stroke="#aaa" stroke-width="0.7"/>
<line x1="589.72" y1="322.7" x2="589.72" y2="321.1" stroke="#aaa" stroke-width="0.7"/>
<line x1="600.8" y1="229.9" x2="600.8" y2="231.5" stroke="#aaa" stroke-width="0.7"/>
<line x1="600.8" y1="322.7" x2="600.8" y2="321.1" stroke="#aaa" stroke-width="0.7"/>
<line x1="611.88" y1="229.9" x2="611.88" y2="231.5" stroke="#aaa" stroke-width="0.7"/>
<line x1="611.88" y1="322.7" x2="611.88" y2="321.1" stroke="#aaa" stroke-width="0.7"/>
<line x1="622.96" y1="229.9" x2="622.96" y2="231.5" stroke="#aaa" stroke-width="0.7"/>
<line x1="622.96" y1="322.7" x2="622.96" y2="321.1" stroke="#aaa" stroke-width="0.7"/>
<line x1="634.04" y1="229.9" x2="634.04" y2="231.5" stroke="#aaa" stroke-width="0.7"/>
<line x1="634.04" y1="322.7" x2="634.04" y2="321.1" stroke="#aaa" stroke-width="0.7"/>
<line x1="645.12" y1="229.9" x2="645.12" y2="231.5" stroke="#aaa" stroke-width="0.7"/>
<line x1="645.12" y1="322.7" x2="645.12" y2="321.1" stroke="#aaa" stroke-width="0.7"/>
<line x1="656.2" y1="229.9" x2="656.2" y2="231.5" stroke="#aaa" stroke-width="0.7"/>
<line x1="656.2" y1="322.7" x2="656.2" y2="321.1" stroke="#aaa" stroke-width="0.7"/>
<text x="573" y="223.4" text-anchor="middle" font-family='"Liberation Serif", serif' font-size="13.6" fill="#222">Norm (<tspan font-style="italic">log</tspan><tspan font-size="9.4" dy="2.4">10</tspan><tspan dy="-2.4">)</tspan></text>
<circle cx="487.12" cy="264.26" r="1.2" fill="#f0ae1c" fill-opacity="0.7"/>
<circle cx="487.15" cy="266.3" r="1.2" fill="#f0ae1c" fill-opacity="0.7"/>
<circle cx="486.88" cy="270.24" r="1.2" fill="#f0ae1c" fill-opacity="0.7"/>
<circle cx="487.27" cy="260.8" r="1.2" fill="#f0ae1c" fill-opacity="0.7"/>
<circle cx="486.97" cy="264.59" r="1.2" fill="#f0ae1c" fill-opacity="0.7"/>
<circle cx="487.09" cy="275.93" r="1.2" fill="#f0ae1c" fill-opacity="0.7"/>
<circle cx="487.09" cy="273.48" r="1.2" fill="#f0ae1c" fill-opacity="0.7"/>
<circle cx="486.93" cy="270.44" r="1.2" fill="#f0ae1c" fill-opacity="0.7"/>
<circle cx="487.28" cy="270.38" r="1.2" fill="#f0ae1c" fill-opacity="0.7"/>
<circle cx="487.22" cy="268.66" r="1.2" fill="#f0ae1c" fill-opacity="0.7"/>
<circle cx="486.88" cy="270.94" r="1.2" fill="#f0ae1c" fill-opacity="0.7"/>
<circle cx="487.15" cy="272.28" r="1.2" fill="#f0ae1c" fill-opacity="0.7"/>
<circle cx="486.87" cy="265.24" r="1.2" fill="#f0ae1c" fill-opacity="0.7"/>
<circle cx="487.09" cy="273.93" r="1.2" fill="#f0ae1c" fill-opacity="0.7"/>
<circle cx="487.29" cy="271.67" r="1.2" fill="#f0ae1c" fill-opacity="0.7"/>
<circle cx="487.31" cy="271.6" r="1.2" fill="#f0ae1c" fill-opacity="0.7"/>
<circle cx="487.25" cy="283.9" r="1.2" fill="#f0ae1c" fill-opacity="0.5"/>
<circle cx="487.32" cy="284.89" r="1.2" fill="#f0ae1c" fill-opacity="0.5"/>
<circle cx="486.9" cy="293.58" r="1.2" fill="#f0ae1c" fill-opacity="0.5"/>
<circle cx="486.96" cy="278.72" r="1.2" fill="#f0ae1c" fill-opacity="0.5"/>
<circle cx="487.07" cy="295.31" r="1.2" fill="#f0ae1c" fill-opacity="0.5"/>
<circle cx="487" cy="308.4" r="1.2" fill="#f0ae1c" fill-opacity="0.7"/>
<circle cx="487.04" cy="306.61" r="1.2" fill="#f0ae1c" fill-opacity="0.7"/>
<circle cx="487.14" cy="304.26" r="1.2" fill="#f0ae1c" fill-opacity="0.7"/>
<circle cx="487.3" cy="307.76" r="1.2" fill="#f0ae1c" fill-opacity="0.7"/>
<circle cx="487.31" cy="309.23" r="1.2" fill="#f0ae1c" fill-opacity="0.7"/>
<circle cx="487.35" cy="311.85" r="1.2" fill="#f0ae1c" fill-opacity="0.7"/>
<circle cx="486.93" cy="309.07" r="1.2" fill="#f0ae1c" fill-opacity="0.7"/>
<circle cx="487.33" cy="311.91" r="1.2" fill="#f0ae1c" fill-opacity="0.7"/>
<circle cx="487.13" cy="312.57" r="1.2" fill="#f0ae1c" fill-opacity="0.7"/>
<circle cx="486.96" cy="309.71" r="1.2" fill="#f0ae1c" fill-opacity="0.7"/>
<path d="M488,274.5H493M490.5,274.5V310.5M488,310.5H493" stroke="#3c3c3c" stroke-width="1" fill="none"/>
<circle cx="490" cy="292.2" r="0.8" fill="#999"/>
<circle cx="498.22" cy="313.14" r="1.2" fill="#f0ae1c" fill-opacity="0.42"/>
<circle cx="497.96" cy="303.84" r="1.2" fill="#f0ae1c" fill-opacity="0.42"/>
<circle cx="498.42" cy="313.52" r="1.2" fill="#f0ae1c" fill-opacity="0.42"/>
<circle cx="498.33" cy="300.5" r="1.2" fill="#f0ae1c" fill-opacity="0.42"/>
<circle cx="498.01" cy="305.98" r="1.2" fill="#f0ae1c" fill-opacity="0.42"/>
<circle cx="498.31" cy="304" r="1.2" fill="#f0ae1c" fill-opacity="0.42"/>
<circle cx="497.95" cy="313.84" r="1.2" fill="#f0ae1c" fill-opacity="0.42"/>
<circle cx="497.95" cy="309.45" r="1.2" fill="#f0ae1c" fill-opacity="0.42"/>
<circle cx="498.1" cy="311.21" r="1.2" fill="#f0ae1c" fill-opacity="0.42"/>
<circle cx="498.42" cy="313.67" r="1.2" fill="#f0ae1c" fill-opacity="0.5"/>
<circle cx="498.43" cy="309.46" r="1.2" fill="#f0ae1c" fill-opacity="0.5"/>
<circle cx="497.97" cy="307.27" r="1.2" fill="#f0ae1c" fill-opacity="0.5"/>
<circle cx="497.95" cy="310.52" r="1.2" fill="#f0ae1c" fill-opacity="0.5"/>
<circle cx="498.13" cy="306.01" r="1.2" fill="#f0ae1c" fill-opacity="0.5"/>
<circle cx="498.01" cy="310.64" r="1.2" fill="#f0ae1c" fill-opacity="0.5"/>
<circle cx="498.36" cy="304.28" r="1.2" fill="#f0ae1c" fill-opacity="0.5"/>
<circle cx="498.41" cy="307.31" r="1.2" fill="#f0ae1c" fill-opacity="0.5"/>
<circle cx="498.12" cy="313.84" r="1.2" fill="#f0ae1c" fill-opacity="0.5"/>
<circle cx="498.19" cy="308.96" r="1.2" fill="#f0ae1c" fill-opacity="0.5"/>
<circle cx="498.23" cy="311.01" r="1.2" fill="#f0ae1c" fill-opacity="0.5"/>
<circle cx="498.24" cy="310.06" r="1.2" fill="#f0ae1c" fill-opacity="0.5"/>
<circle cx="498.18" cy="314.33" r="1.2" fill="#f0ae1c" fill-opacity="0.5"/>
<circle cx="498.29" cy="308.63" r="1.2" fill="#f0ae1c" fill-opacity="0.5"/>
<circle cx="498.08" cy="306.46" r="1.2" fill="#f0ae1c" fill-opacity="0.5"/>
<circle cx="498.19" cy="314.75" r="1.2" fill="#f0ae1c" fill-opacity="0.5"/>
<circle cx="497.94" cy="309.94" r="1.2" fill="#f0ae1c" fill-opacity="0.5"/>
<circle cx="498.22" cy="308.45" r="1.2" fill="#f0ae1c" fill-opacity="0.5"/>
<circle cx="498.24" cy="304.02" r="1.2" fill="#f0ae1c" fill-opacity="0.5"/>
<circle cx="497.96" cy="310.88" r="1.2" fill="#f0ae1c" fill-opacity="0.5"/>
<circle cx="498.16" cy="310.83" r="1.2" fill="#f0ae1c" fill-opacity="0.5"/>
<circle cx="498.11" cy="311.41" r="1.2" fill="#f0ae1c" fill-opacity="0.5"/>
<circle cx="498.3" cy="311.72" r="1.2" fill="#f0ae1c" fill-opacity="0.5"/>
<circle cx="497.96" cy="304.05" r="1.2" fill="#f0ae1c" fill-opacity="0.5"/>
<circle cx="498.41" cy="311.37" r="1.2" fill="#f0ae1c" fill-opacity="0.5"/>
<circle cx="498.16" cy="306.61" r="1.2" fill="#f0ae1c" fill-opacity="0.5"/>
<circle cx="498.09" cy="310.44" r="1.2" fill="#f0ae1c" fill-opacity="0.5"/>
<circle cx="498.09" cy="307.88" r="1.2" fill="#f0ae1c" fill-opacity="0.5"/>
<circle cx="498.23" cy="307.93" r="1.2" fill="#f0ae1c" fill-opacity="0.5"/>
<circle cx="498.12" cy="307.16" r="1.2" fill="#f0ae1c" fill-opacity="0.5"/>
<path d="M499,305.5H504M501.5,305.5V311.5M499,311.5H504" stroke="#3c3c3c" stroke-width="1" fill="none"/>
<circle cx="501.08" cy="308.3" r="0.8" fill="#999"/>
<circle cx="509.02" cy="312.47" r="1.2" fill="#f0ae1c" fill-opacity="0.42"/>
<circle cx="509.38" cy="307.72" r="1.2" fill="#f0ae1c" fill-opacity="0.42"/>
<circle cx="509.12" cy="301.65" r="1.2" fill="#f0ae1c" fill-opacity="0.42"/>
<circle cx="509.13" cy="313.21" r="1.2" fill="#f0ae1c" fill-opacity="0.42"/>
<circle cx="509.23" cy="298.79" r="1.2" fill="#f0ae1c" fill-opacity="0.42"/>
<circle cx="509.06" cy="310.73" r="1.2" fill="#f0ae1c" fill-opacity="0.42"/>
<circle cx="509.18" cy="301.93" r="1.2" fill="#f0ae1c" fill-opacity="0.42"/>
<circle cx="509.23" cy="313.9" r="1.2" fill="#f0ae1c" fill-opacity="0.42"/>
<circle cx="509.09" cy="314.42" r="1.2" fill="#f0ae1c" fill-opacity="0.42"/>
<circle cx="509.34" cy="306.19" r="1.2" fill="#f0ae1c" fill-opacity="0.5"/>
<circle cx="509.24" cy="314.96" r="1.2" fill="#f0ae1c" fill-opacity="0.5"/>
<circle cx="509.07" cy="304.4" r="1.2" fill="#f0ae1c" fill-opacity="0.5"/>
<circle cx="509.11" cy="309.27" r="1.2" fill="#f0ae1c" fill-opacity="0.5"/>
<circle cx="509.43" cy="313.71" r="1.2" fill="#f0ae1c" fill-opacity="0.5"/>
<circle cx="509.15" cy="303.74" r="1.2" fill="#f0ae1c" fill-opacity="0.5"/>
<circle cx="509.33" cy="313.72" r="1.2" fill="#f0ae1c" fill-opacity="0.5"/>
<circle cx="509.18" cy="313.7" r="1.2" fill="#f0ae1c" fill-opacity="0.5"/>
<circle cx="509.16" cy="302.88" r="1.2" fill="#f0ae1c" fill-opacity="0.5"/>
<circle cx="509.15" cy="313.5" r="1.2" fill="#f0ae1c" fill-opacity="0.5"/>
<circle cx="509.22" cy="306.34" r="1.2" fill="#f0ae1c" fill-opacity="0.5"/>
<circle cx="509.21" cy="307.52" r="1.2" fill="#f0ae1c" fill-opacity="0.5"/>
<circle cx="509.09" cy="315.53" r="1.2" fill="#f0ae1c" fill-opacity="0.5"/>
<circle cx="509.48" cy="300.87" r="1.2" fill="#f0ae1c" fill-opacity="0.5"/>
<circle cx="509.5" cy="314.88" r="1.2" fill="#f0ae1c" fill-opacity="0.5"/>
<circle cx="509.49" cy="307.75" r="1.2" fill="#f0ae1c" fill-opacity="0.5"/>
<circle cx="509.12" cy="315.64" r="1.2" fill="#f0ae1c" fill-opacity="0.5"/>
<circle cx="509.43" cy="312.73" r="1.2" fill="#f0ae1c" fill-opacity="0.5"/>
<circle cx="509.27" cy="311.41" r="1.2" fill="#f0ae1c" fill-opacity="0.5"/>
<circle cx="509.18" cy="305.42" r="1.2" fill="#f0ae1c" fill-opacity="0.5"/>
<circle cx="509.04" cy="304.44" r="1.2" fill="#f0ae1c" fill-opacity="0.5"/>
<circle cx="509.15" cy="310.22" r="1.2" fill="#f0ae1c" fill-opacity="0.5"/>
<circle cx="509.03" cy="313.76" r="1.2" fill="#f0ae1c" fill-opacity="0.5"/>
<circle cx="509.36" cy="315.26" r="1.2" fill="#f0ae1c" fill-opacity="0.5"/>
<circle cx="509.46" cy="315.58" r="1.2" fill="#f0ae1c" fill-opacity="0.5"/>
<circle cx="509.3" cy="315.19" r="1.2" fill="#f0ae1c" fill-opacity="0.5"/>
<circle cx="509.38" cy="301.01" r="1.2" fill="#f0ae1c" fill-opacity="0.5"/>
<circle cx="509.16" cy="303.55" r="1.2" fill="#f0ae1c" fill-opacity="0.5"/>
<circle cx="509.27" cy="311.41" r="1.2" fill="#f0ae1c" fill-opacity="0.5"/>
<circle cx="509.48" cy="307.42" r="1.2" fill="#f0ae1c" fill-opacity="0.5"/>
<path d="M510,302.5H515M512.5,302.5V310.5M510,310.5H515" stroke="#3c3c3c" stroke-width="1" fill="none"/>
<circle cx="512.16" cy="306.6" r="0.8" fill="#999"/>
<circle cx="520.26" cy="307.09" r="1.2" fill="#f0ae1c" fill-opacity="0.42"/>
<circle cx="520.52" cy="297.99" r="1.2" fill="#f0ae1c" fill-opacity="0.42"/>
<circle cx="520.48" cy="303.67" r="1.2" fill="#f0ae1c" fill-opacity="0.42"/>
<circle cx="520.19" cy="300.5" r="1.2" fill="#f0ae1c" fill-opacity="0.42"/>
<circle cx="520.5" cy="305.13" r="1.2" fill="#f0ae1c" fill-opacity="0.42"/>
<circle cx="520.49" cy="295.93" r="1.2" fill="#f0ae1c" fill-opacity="0.42"/>
<circle cx="520.49" cy="314.92" r="1.2" fill="#f0ae1c" fill-opacity="0.42"/>
<circle cx="520.09" cy="312.43" r="1.2" fill="#f0ae1c" fill-opacity="0.42"/>
<circle cx="520.52" cy="307.5" r="1.2" fill="#f0ae1c" fill-opacity="0.42"/>
<circle cx="520.23" cy="300.79" r="1.2" fill="#f0ae1c" fill-opacity="0.5"/>
<circle cx="520.35" cy="304.27" r="1.2" fill="#f0ae1c" fill-opacity="0.5"/>
<circle cx="520.33" cy="306.73" r="1.2" fill="#f0ae1c" fill-opacity="0.5"/>
<circle cx="520.09" cy="312.35" r="1.2" fill="#f0ae1c" fill-opacity="0.5"/>
<circle cx="520.15" cy="300.87" r="1.2" fill="#f0ae1c" fill-opacity="0.5"/>
<circle cx="520.12" cy="301.98" r="1.2" fill="#f0ae1c" fill-opacity="0.5"/>
<circle cx="520.52" cy="315.5" r="1.2" fill="#f0ae1c" fill-opacity="0.5"/>
<circle cx="520.34" cy="301.37" r="1.2" fill="#f0ae1c" fill-opacity="0.5"/>
<circle cx="520.25" cy="305.02" r="1.2" fill="#f0ae1c" fill-opacity="0.5"/>
<circle cx="520.41" cy="305.59" r="1.2" fill="#f0ae1c" fill-opacity="0.5"/>
<circle cx="520.27" cy="309.33" r="1.2" fill="#f0ae1c" fill-opacity="0.5"/>
<circle cx="520.25" cy="303.04" r="1.2" fill="#f0ae1c" fill-opacity="0.5"/>
<circle cx="520.37" cy="301.97" r="1.2" fill="#f0ae1c" fill-opacity="0.5"/>
<circle cx="520.28" cy="311.39" r="1.2" fill="#f0ae1c" fill-opacity="0.5"/>
<circle cx="520.18" cy="301.27" r="1.2" fill="#f0ae1c" fill-opacity="0.5"/>
<circle cx="520.39" cy="305.94" r="1.2" fill="#f0ae1c" fill-opacity="0.5"/>
<circle cx="520.28" cy="312.44" r="1.2" fill="#f0ae1c" fill-opacity="0.5"/>
<circle cx="520.4" cy="312.74" r="1.2" fill="#f0ae1c" fill-opacity="0.5"/>
<circle cx="520.28" cy="306.86" r="1.2" fill="#f0ae1c" fill-opacity="0.5"/>
<circle cx="520.44" cy="307.89" r="1.2" fill="#f0ae1c" fill-opacity="0.5"/>
<circle cx="520.44" cy="306.69" r="1.2" fill="#f0ae1c" fill-opacity="0.5"/>
<circle cx="520.21" cy="307.33" r="1.2" fill="#f0ae1c" fill-opacity="0.5"/>
<circle cx="520.44" cy="308.52" r="1.2" fill="#f0ae1c" fill-opacity="0.5"/>
<circle cx="520.3" cy="301.14" r="1.2" fill="#f0ae1c" fill-opacity="0.5"/>
<circle cx="520.53" cy="306.77" r="1.2" fill="#f0ae1c" fill-opacity="0.5"/>
<circle cx="520.28" cy="314.89" r="1.2" fill="#f0ae1c" fill-opacity="0.5"/>
<circle cx="520.49" cy="314.28" r="1.2" fill="#f0ae1c" fill-opacity="0.5"/>
<circle cx="520.32" cy="304.17" r="1.2" fill="#f0ae1c" fill-opacity="0.5"/>
<circle cx="520.5" cy="301.96" r="1.2" fill="#f0ae1c" fill-opacity="0.5"/>
<circle cx="520.53" cy="310.53" r="1.2" fill="#f0ae1c" fill-opacity="0.5"/>
<path d="M521,301.5H526M523.5,301.5V311.5M521,311.5H526" stroke="#3c3c3c" stroke-width="1" fill="none"/>
<circle cx="523.24" cy="306.55" r="0.8" fill="#999"/>
<circle cx="531.5" cy="311.91" r="1.2" fill="#f0ae1c" fill-opacity="0.42"/>
<circle cx="531.45" cy="310.75" r="1.2" fill="#f0ae1c" fill-opacity="0.42"/>
<circle cx="531.46" cy="298.33" r="1.2" fill="#f0ae1c" fill-opacity="0.42"/>
<circle cx="531.24" cy="296.4" r="1.2" fill="#f0ae1c" fill-opacity="0.42"/>
<circle cx="531.19" cy="311.55" r="1.2" fill="#f0ae1c" fill-opacity="0.42"/>
<circle cx="531.22" cy="298.11" r="1.2" fill="#f0ae1c" fill-opacity="0.42"/>
<circle cx="531.26" cy="313.65" r="1.2" fill="#f0ae1c" fill-opacity="0.42"/>
<circle cx="531.59" cy="296.76" r="1.2" fill="#f0ae1c" fill-opacity="0.42"/>
<circle cx="531.59" cy="298.69" r="1.2" fill="#f0ae1c" fill-opacity="0.42"/>
<circle cx="531.59" cy="310.72" r="1.2" fill="#f0ae1c" fill-opacity="0.5"/>
<circle cx="531.46" cy="314.38" r="1.2" fill="#f0ae1c" fill-opacity="0.5"/>
<circle cx="531.19" cy="312.36" r="1.2" fill="#f0ae1c" fill-opacity="0.5"/>
<circle cx="531.43" cy="311.95" r="1.2" fill="#f0ae1c" fill-opacity="0.5"/>
<circle cx="531.22" cy="311.27" r="1.2" fill="#f0ae1c" fill-opacity="0.5"/>
<circle cx="531.64" cy="311.71" r="1.2" fill="#f0ae1c" fill-opacity="0.5"/>
<circle cx="531.33" cy="302.7" r="1.2" fill="#f0ae1c" fill-opacity="0.5"/>
<circle cx="531.58" cy="309.29" r="1.2" fill="#f0ae1c" fill-opacity="0.5"/>
<circle cx="531.26" cy="305.07" r="1.2" fill="#f0ae1c" fill-opacity="0.5"/>
<circle cx="531.48" cy="305.17" r="1.2" fill="#f0ae1c" fill-opacity="0.5"/>
<circle cx="531.37" cy="311.77" r="1.2" fill="#f0ae1c" fill-opacity="0.5"/>
<circle cx="531.37" cy="306.71" r="1.2" fill="#f0ae1c" fill-opacity="0.5"/>
<circle cx="531.38" cy="306.49" r="1.2" fill="#f0ae1c" fill-opacity="0.5"/>
<circle cx="531.42" cy="302.99" r="1.2" fill="#f0ae1c" fill-opacity="0.5"/>
<circle cx="531.38" cy="314.65" r="1.2" fill="#f0ae1c" fill-opacity="0.5"/>
<circle cx="531.25" cy="311.69" r="1.2" fill="#f0ae1c" fill-opacity="0.5"/>
<circle cx="531.55" cy="310.95" r="1.2" fill="#f0ae1c" fill-opacity="0.5"/>
<circle cx="531.43" cy="310.73" r="1.2" fill="#f0ae1c" fill-opacity="0.5"/>
<circle cx="531.49" cy="308.24" r="1.2" fill="#f0ae1c" fill-opacity="0.5"/>
<circle cx="531.24" cy="313.66" r="1.2" fill="#f0ae1c" fill-opacity="0.5"/>
<circle cx="531.54" cy="303.16" r="1.2" fill="#f0ae1c" fill-opacity="0.5"/>
<circle cx="531.43" cy="313.91" r="1.2" fill="#f0ae1c" fill-opacity="0.5"/>
<circle cx="531.53" cy="307.7" r="1.2" fill="#f0ae1c" fill-opacity="0.5"/>
<circle cx="531.3" cy="304.34" r="1.2" fill="#f0ae1c" fill-opacity="0.5"/>
<circle cx="531.46" cy="304.51" r="1.2" fill="#f0ae1c" fill-opacity="0.5"/>
<circle cx="531.29" cy="306.02" r="1.2" fill="#f0ae1c" fill-opacity="0.5"/>
<circle cx="531.65" cy="310.95" r="1.2" fill="#f0ae1c" fill-opacity="0.5"/>
<circle cx="531.52" cy="305.78" r="1.2" fill="#f0ae1c" fill-opacity="0.5"/>
<circle cx="531.6" cy="307.31" r="1.2" fill="#f0ae1c" fill-opacity="0.5"/>
<circle cx="531.3" cy="309.56" r="1.2" fill="#f0ae1c" fill-opacity="0.5"/>
<path d="M532,303.5H537M534.5,303.5V312.5M532,312.5H537" stroke="#3c3c3c" stroke-width="1" fill="none"/>
<circle cx="534.32" cy="307.8" r="0.8" fill="#999"/>
<circle cx="542.26" cy="298.51" r="1.2" fill="#f0ae1c" fill-opacity="0.42"/>
<circle cx="542.44" cy="304.67" r="1.2" fill="#f0ae1c" fill-opacity="0.42"/>
<circle cx="542.43" cy="297.45" r="1.2" fill="#f0ae1c" fill-opacity="0.42"/>
<circle cx="542.64" cy="300.97" r="1.2" fill="#f0ae1c" fill-opacity="0.42"/>
<circle cx="542.75" cy="296.77" r="1.2" fill="#f0ae1c" fill-opacity="0.42"/>
<circle cx="542.55" cy="304.67" r="1.2" fill="#f0ae1c" fill-opacity="0.42"/>
<circle cx="542.67" cy="304.4" r="1.2" fill="#f0ae1c" fill-opacity="0.42"/>
<circle cx="542.53" cy="312.71" r="1.2" fill="#f0ae1c" fill-opacity="0.42"/>
<circle cx="542.61" cy="304.71" r="1.2" fill="#f0ae1c" fill-opacity="0.42"/>
<circle cx="542.45" cy="313.89" r="1.2" fill="#f0ae1c" fill-opacity="0.5"/>
<circle cx="542.73" cy="312.17" r="1.2" fill="#f0ae1c" fill-opacity="0.5"/>
<circle cx="542.36" cy="308.44" r="1.2" fill="#f0ae1c" fill-opacity="0.5"/>
<circle cx="542.61" cy="305.19" r="1.2" fill="#f0ae1c" fill-opacity="0.5"/>
<circle cx="542.73" cy="311.35" r="1.2" fill="#f0ae1c" fill-opacity="0.5"/>
<circle cx="542.37" cy="313.85" r="1.2" fill="#f0ae1c" fill-opacity="0.5"/>
<circle cx="542.38" cy="304.55" r="1.2" fill="#f0ae1c" fill-opacity="0.5"/>
<circle cx="542.6" cy="304.52" r="1.2" fill="#f0ae1c" fill-opacity="0.5"/>
<circle cx="542.7" cy="313.92" r="1.2" fill="#f0ae1c" fill-opacity="0.5"/>
<circle cx="542.68" cy="305.47" r="1.2" fill="#f0ae1c" fill-opacity="0.5"/>
<circle cx="542.46" cy="306.29" r="1.2" fill="#f0ae1c" fill-opacity="0.5"/>
<circle cx="542.29" cy="312.11" r="1.2" fill="#f0ae1c" fill-opacity="0.5"/>
<circle cx="542.67" cy="303.2" r="1.2" fill="#f0ae1c" fill-opacity="0.5"/>
<circle cx="542.43" cy="305.98" r="1.2" fill="#f0ae1c" fill-opacity="0.5"/>
<circle cx="542.59" cy="310.02" r="1.2" fill="#f0ae1c" fill-opacity="0.5"/>
<circle cx="542.42" cy="302" r="1.2" fill="#f0ae1c" fill-opacity="0.5"/>
<circle cx="542.49" cy="308.01" r="1.2" fill="#f0ae1c" fill-opacity="0.5"/>
<circle cx="542.54" cy="304.84" r="1.2" fill="#f0ae1c" fill-opacity="0.5"/>
<circle cx="542.45" cy="315.27" r="1.2" fill="#f0ae1c" fill-opacity="0.5"/>
<circle cx="542.31" cy="309.52" r="1.2" fill="#f0ae1c" fill-opacity="0.5"/>
<circle cx="542.58" cy="305.75" r="1.2" fill="#f0ae1c" fill-opacity="0.5"/>
<circle cx="542.69" cy="303.48" r="1.2" fill="#f0ae1c" fill-opacity="0.5"/>
<circle cx="542.3" cy="314.62" r="1.2" fill="#f0ae1c" fill-opacity="0.5"/>
<circle cx="542.44" cy="315.08" r="1.2" fill="#f0ae1c" fill-opacity="0.5"/>
<circle cx="542.63" cy="312.71" r="1.2" fill="#f0ae1c" fill-opacity="0.5"/>
<circle cx="542.59" cy="306.04" r="1.2" fill="#f0ae1c" fill-opacity="0.5"/>
<circle cx="542.65" cy="311.06" r="1.2" fill="#f0ae1c" fill-opacity="0.5"/>
<circle cx="542.63" cy="305.62" r="1.2" fill="#f0ae1c" fill-opacity="0.5"/>
<circle cx="542.59" cy="315.36" r="1.2" fill="#f0ae1c" fill-opacity="0.5"/>
<circle cx="542.31" cy="309.41" r="1.2" fill="#f0ae1c" fill-opacity="0.5"/>
<path d="M543,303.5H548M545.5,303.5V311.5M543,311.5H548" stroke="#3c3c3c" stroke-width="1" fill="none"/>
<circle cx="545.4" cy="307.35" r="0.8" fill="#999"/>
<circle cx="553.51" cy="306.47" r="1.2" fill="#f0ae1c" fill-opacity="0.42"/>
<circle cx="553.67" cy="311.27" r="1.2" fill="#f0ae1c" fill-opacity="0.42"/>
<circle cx="553.42" cy="308.02" r="1.2" fill="#f0ae1c" fill-opacity="0.42"/>
<circle cx="553.65" cy="309.72" r="1.2" fill="#f0ae1c" fill-opacity="0.42"/>
<circle cx="553.77" cy="299.73" r="1.2" fill="#f0ae1c" fill-opacity="0.42"/>
<circle cx="553.39" cy="309.92" r="1.2" fill="#f0ae1c" fill-opacity="0.42"/>
<circle cx="553.4" cy="315.84" r="1.2" fill="#f0ae1c" fill-opacity="0.42"/>
<circle cx="553.69" cy="302.99" r="1.2" fill="#f0ae1c" fill-opacity="0.42"/>
<circle cx="553.61" cy="308.69" r="1.2" fill="#f0ae1c" fill-opacity="0.42"/>
<circle cx="553.56" cy="311.22" r="1.2" fill="#f0ae1c" fill-opacity="0.5"/>
<circle cx="553.42" cy="306.4" r="1.2" fill="#f0ae1c" fill-opacity="0.5"/>
<circle cx="553.69" cy="302.89" r="1.2" fill="#f0ae1c" fill-opacity="0.5"/>
<circle cx="553.6" cy="312.76" r="1.2" fill="#f0ae1c" fill-opacity="0.5"/>
<circle cx="553.51" cy="312.55" r="1.2" fill="#f0ae1c" fill-opacity="0.5"/>
<circle cx="553.52" cy="305.73" r="1.2" fill="#f0ae1c" fill-opacity="0.5"/>
<circle cx="553.35" cy="314.46" r="1.2" fill="#f0ae1c" fill-opacity="0.5"/>
<circle cx="553.45" cy="309.17" r="1.2" fill="#f0ae1c" fill-opacity="0.5"/>
<circle cx="553.51" cy="312.97" r="1.2" fill="#f0ae1c" fill-opacity="0.5"/>
<circle cx="553.53" cy="306.69" r="1.2" fill="#f0ae1c" fill-opacity="0.5"/>
<circle cx="553.72" cy="309.7" r="1.2" fill="#f0ae1c" fill-opacity="0.5"/>
<circle cx="553.75" cy="306.98" r="1.2" fill="#f0ae1c" fill-opacity="0.5"/>
<circle cx="553.47" cy="303.51" r="1.2" fill="#f0ae1c" fill-opacity="0.5"/>
<circle cx="553.39" cy="303.33" r="1.2" fill="#f0ae1c" fill-opacity="0.5"/>
<circle cx="553.69" cy="313.12" r="1.2" fill="#f0ae1c" fill-opacity="0.5"/>
<circle cx="553.42" cy="304.56" r="1.2" fill="#f0ae1c" fill-opacity="0.5"/>
<circle cx="553.7" cy="307.9" r="1.2" fill="#f0ae1c" fill-opacity="0.5"/>
<circle cx="553.7" cy="313.65" r="1.2" fill="#f0ae1c" fill-opacity="0.5"/>
<circle cx="553.4" cy="310.42" r="1.2" fill="#f0ae1c" fill-opacity="0.5"/>
<circle cx="553.43" cy="307.64" r="1.2" fill="#f0ae1c" fill-opacity="0.5"/>
<circle cx="553.61" cy="309.5" r="1.2" fill="#f0ae1c" fill-opacity="0.5"/>
<circle cx="553.46" cy="304.81" r="1.2" fill="#f0ae1c" fill-opacity="0.5"/>
<circle cx="553.35" cy="313.16" r="1.2" fill="#f0ae1c" fill-opacity="0.5"/>
<circle cx="553.78" cy="313.47" r="1.2" fill="#f0ae1c" fill-opacity="0.5"/>
<circle cx="553.52" cy="315.57" r="1.2" fill="#f0ae1c" fill-opacity="0.5"/>
<circle cx="553.62" cy="309.86" r="1.2" fill="#f0ae1c" fill-opacity="0.5"/>
<circle cx="553.82" cy="311.02" r="1.2" fill="#f0ae1c" fill-opacity="0.5"/>
<circle cx="553.48" cy="311.79" r="1.2" fill="#f0ae1c" fill-opacity="0.5"/>
<circle cx="553.57" cy="314.28" r="1.2" fill="#f0ae1c" fill-opacity="0.5"/>
<circle cx="553.69" cy="310.56" r="1.2" fill="#f0ae1c" fill-opacity="0.5"/>
<path d="M554,303.5H559M556.5,303.5V311.5M554,311.5H559" stroke="#3c3c3c" stroke-width="1" fill="none"/>
<circle cx="556.48" cy="307.35" r="0.8" fill="#999"/>
<circle cx="581.08" cy="298.04" r="1.2" fill="#78b22e" fill-opacity="0.42"/>
<circle cx="580.94" cy="308.92" r="1.2" fill="#78b22e" fill-opacity="0.42"/>
<circle cx="580.92" cy="306.64" r="1.2" fill="#78b22e" fill-opacity="0.42"/>
<circle cx="580.95" cy="301.19" r="1.2" fill="#78b22e" fill-opacity="0.42"/>
<circle cx="580.94" cy="298.61" r="1.2" fill="#78b22e" fill-opacity="0.42"/>
<circle cx="580.91" cy="308.66" r="1.2" fill="#78b22e" fill-opacity="0.42"/>
<circle cx="581.17" cy="307.34" r="1.2" fill="#78b22e" fill-opacity="0.42"/>
<circle cx="580.76" cy="312.72" r="1.2" fill="#78b22e" fill-opacity="0.42"/>
<circle cx="581" cy="311.07" r="1.2" fill="#78b22e" fill-opacity="0.42"/>
<circle cx="580.87" cy="303.06" r="1.2" fill="#78b22e" fill-opacity="0.5"/>
<circle cx="580.73" cy="305.07" r="1.2" fill="#78b22e" fill-opacity="0.5"/>
<circle cx="581.15" cy="308.43" r="1.2" fill="#78b22e" fill-opacity="0.5"/>
<circle cx="581.13" cy="306.05" r="1.2" fill="#78b22e" fill-opacity="0.5"/>
<circle cx="580.76" cy="310.14" r="1.2" fill="#78b22e" fill-opacity="0.5"/>
<circle cx="580.99" cy="311.94" r="1.2" fill="#78b22e" fill-opacity="0.5"/>
<circle cx="581.05" cy="312.7" r="1.2" fill="#78b22e" fill-opacity="0.5"/>
<circle cx="580.86" cy="310.64" r="1.2" fill="#78b22e" fill-opacity="0.5"/>
<circle cx="581.16" cy="311.37" r="1.2" fill="#78b22e" fill-opacity="0.5"/>
<circle cx="580.91" cy="311.98" r="1.2" fill="#78b22e" fill-opacity="0.5"/>
<circle cx="580.93" cy="310.83" r="1.2" fill="#78b22e" fill-opacity="0.5"/>
<circle cx="580.71" cy="303.7" r="1.2" fill="#78b22e" fill-opacity="0.5"/>
<circle cx="580.79" cy="303.36" r="1.2" fill="#78b22e" fill-opacity="0.5"/>
<circle cx="580.94" cy="304.27" r="1.2" fill="#78b22e" fill-opacity="0.5"/>
<circle cx="580.96" cy="310.19" r="1.2" fill="#78b22e" fill-opacity="0.5"/>
<circle cx="581.01" cy="307.14" r="1.2" fill="#78b22e" fill-opacity="0.5"/>
<circle cx="580.92" cy="305.85" r="1.2" fill="#78b22e" fill-opacity="0.5"/>
<circle cx="580.89" cy="310.83" r="1.2" fill="#78b22e" fill-opacity="0.5"/>
<circle cx="581.14" cy="304.49" r="1.2" fill="#78b22e" fill-opacity="0.5"/>
<circle cx="580.87" cy="310.42" r="1.2" fill="#78b22e" fill-opacity="0.5"/>
<circle cx="580.95" cy="306.58" r="1.2" fill="#78b22e" fill-opacity="0.5"/>
<circle cx="580.8" cy="309.06" r="1.2" fill="#78b22e" fill-opacity="0.5"/>
<circle cx="580.79" cy="302.53" r="1.2" fill="#78b22e" fill-opacity="0.5"/>
<circle cx="580.76" cy="311.11" r="1.2" fill="#78b22e" fill-opacity="0.5"/>
<circle cx="580.79" cy="307.56" r="1.2" fill="#78b22e" fill-opacity="0.5"/>
<circle cx="580.78" cy="304.8" r="1.2" fill="#78b22e" fill-opacity="0.5"/>
<circle cx="580.77" cy="306.94" r="1.2" fill="#78b22e" fill-opacity="0.5"/>
<circle cx="580.75" cy="302.8" r="1.2" fill="#78b22e" fill-opacity="0.5"/>
<circle cx="580.94" cy="304.35" r="1.2" fill="#78b22e" fill-opacity="0.5"/>
<circle cx="580.7" cy="303.16" r="1.2" fill="#78b22e" fill-opacity="0.5"/>
<path d="M576,304.5H581M578.5,304.5V311.5M576,311.5H581" stroke="#3c3c3c" stroke-width="1" fill="none"/>
<circle cx="578.64" cy="307.75" r="0.8" fill="#999"/>
<circle cx="591.97" cy="304.14" r="1.2" fill="#78b22e" fill-opacity="0.42"/>
<circle cx="591.8" cy="310.32" r="1.2" fill="#78b22e" fill-opacity="0.42"/>
<circle cx="591.97" cy="303.06" r="1.2" fill="#78b22e" fill-opacity="0.42"/>
<circle cx="592.25" cy="293.95" r="1.2" fill="#78b22e" fill-opacity="0.42"/>
<circle cx="591.82" cy="298.6" r="1.2" fill="#78b22e" fill-opacity="0.42"/>
<circle cx="591.85" cy="304.78" r="1.2" fill="#78b22e" fill-opacity="0.42"/>
<circle cx="591.94" cy="308.36" r="1.2" fill="#78b22e" fill-opacity="0.42"/>
<circle cx="591.8" cy="296.3" r="1.2" fill="#78b22e" fill-opacity="0.42"/>
<circle cx="591.91" cy="310.91" r="1.2" fill="#78b22e" fill-opacity="0.42"/>
<circle cx="592" cy="313.11" r="1.2" fill="#78b22e" fill-opacity="0.5"/>
<circle cx="591.92" cy="315.43" r="1.2" fill="#78b22e" fill-opacity="0.5"/>
<circle cx="591.9" cy="304.5" r="1.2" fill="#78b22e" fill-opacity="0.5"/>
<circle cx="592.08" cy="313.53" r="1.2" fill="#78b22e" fill-opacity="0.5"/>
<circle cx="591.82" cy="306.02" r="1.2" fill="#78b22e" fill-opacity="0.5"/>
<circle cx="592.25" cy="311.42" r="1.2" fill="#78b22e" fill-opacity="0.5"/>
<circle cx="591.77" cy="309.98" r="1.2" fill="#78b22e" fill-opacity="0.5"/>
<circle cx="591.82" cy="300.98" r="1.2" fill="#78b22e" fill-opacity="0.5"/>
<circle cx="591.79" cy="303.23" r="1.2" fill="#78b22e" fill-opacity="0.5"/>
<circle cx="592.1" cy="301.36" r="1.2" fill="#78b22e" fill-opacity="0.5"/>
<circle cx="591.87" cy="314.9" r="1.2" fill="#78b22e" fill-opacity="0.5"/>
<circle cx="592.01" cy="316.08" r="1.2" fill="#78b22e" fill-opacity="0.5"/>
<circle cx="592.23" cy="313.36" r="1.2" fill="#78b22e" fill-opacity="0.5"/>
<circle cx="591.79" cy="315.54" r="1.2" fill="#78b22e" fill-opacity="0.5"/>
<circle cx="592.07" cy="305.38" r="1.2" fill="#78b22e" fill-opacity="0.5"/>
<circle cx="591.81" cy="315.64" r="1.2" fill="#78b22e" fill-opacity="0.5"/>
<circle cx="592.19" cy="305.19" r="1.2" fill="#78b22e" fill-opacity="0.5"/>
<circle cx="591.96" cy="302.33" r="1.2" fill="#78b22e" fill-opacity="0.5"/>
<circle cx="592.11" cy="305.85" r="1.2" fill="#78b22e" fill-opacity="0.5"/>
<circle cx="591.86" cy="315.36" r="1.2" fill="#78b22e" fill-opacity="0.5"/>
<circle cx="592.14" cy="312.34" r="1.2" fill="#78b22e" fill-opacity="0.5"/>
<circle cx="592.05" cy="313.87" r="1.2" fill="#78b22e" fill-opacity="0.5"/>
<circle cx="591.95" cy="315.28" r="1.2" fill="#78b22e" fill-opacity="0.5"/>
<circle cx="591.88" cy="307.14" r="1.2" fill="#78b22e" fill-opacity="0.5"/>
<circle cx="592.01" cy="312.97" r="1.2" fill="#78b22e" fill-opacity="0.5"/>
<circle cx="591.85" cy="304.81" r="1.2" fill="#78b22e" fill-opacity="0.5"/>
<circle cx="592.07" cy="312.03" r="1.2" fill="#78b22e" fill-opacity="0.5"/>
<circle cx="591.96" cy="311.87" r="1.2" fill="#78b22e" fill-opacity="0.5"/>
<circle cx="591.85" cy="308.29" r="1.2" fill="#78b22e" fill-opacity="0.5"/>
<circle cx="591.78" cy="311.87" r="1.2" fill="#78b22e" fill-opacity="0.5"/>
<path d="M587,302.5H592M589.5,302.5V311.5M587,311.5H592" stroke="#3c3c3c" stroke-width="1" fill="none"/>
<circle cx="589.72" cy="306.75" r="0.8" fill="#999"/>
<circle cx="603.23" cy="306.64" r="1.2" fill="#78b22e" fill-opacity="0.42"/>
<circle cx="602.9" cy="310.53" r="1.2" fill="#78b22e" fill-opacity="0.42"/>
<circle cx="603.27" cy="302.39" r="1.2" fill="#78b22e" fill-opacity="0.42"/>
<circle cx="603.29" cy="309.88" r="1.2" fill="#78b22e" fill-opacity="0.42"/>
<circle cx="603.07" cy="314.14" r="1.2" fill="#78b22e" fill-opacity="0.42"/>
<circle cx="603.22" cy="314.59" r="1.2" fill="#78b22e" fill-opacity="0.42"/>
<circle cx="603.04" cy="304.17" r="1.2" fill="#78b22e" fill-opacity="0.42"/>
<circle cx="603.05" cy="299.33" r="1.2" fill="#78b22e" fill-opacity="0.42"/>
<circle cx="602.9" cy="315.68" r="1.2" fill="#78b22e" fill-opacity="0.42"/>
<circle cx="602.91" cy="309.64" r="1.2" fill="#78b22e" fill-opacity="0.5"/>
<circle cx="603.17" cy="303" r="1.2" fill="#78b22e" fill-opacity="0.5"/>
<circle cx="602.87" cy="305.17" r="1.2" fill="#78b22e" fill-opacity="0.5"/>
<circle cx="603.17" cy="303.98" r="1.2" fill="#78b22e" fill-opacity="0.5"/>
<circle cx="602.86" cy="309.86" r="1.2" fill="#78b22e" fill-opacity="0.5"/>
<circle cx="603.33" cy="305.03" r="1.2" fill="#78b22e" fill-opacity="0.5"/>
<circle cx="603.13" cy="304.89" r="1.2" fill="#78b22e" fill-opacity="0.5"/>
<circle cx="603.24" cy="307.61" r="1.2" fill="#78b22e" fill-opacity="0.5"/>
<circle cx="603.24" cy="310.12" r="1.2" fill="#78b22e" fill-opacity="0.5"/>
<circle cx="602.94" cy="309.18" r="1.2" fill="#78b22e" fill-opacity="0.5"/>
<circle cx="602.89" cy="304.32" r="1.2" fill="#78b22e" fill-opacity="0.5"/>
<circle cx="602.91" cy="313.13" r="1.2" fill="#78b22e" fill-opacity="0.5"/>
<circle cx="603.33" cy="302.23" r="1.2" fill="#78b22e" fill-opacity="0.5"/>
<circle cx="603.3" cy="304.61" r="1.2" fill="#78b22e" fill-opacity="0.5"/>
<circle cx="603.08" cy="303.07" r="1.2" fill="#78b22e" fill-opacity="0.5"/>
<circle cx="603.26" cy="304.93" r="1.2" fill="#78b22e" fill-opacity="0.5"/>
<circle cx="603.17" cy="310.27" r="1.2" fill="#78b22e" fill-opacity="0.5"/>
<circle cx="603.29" cy="312.26" r="1.2" fill="#78b22e" fill-opacity="0.5"/>
<circle cx="603.15" cy="306.61" r="1.2" fill="#78b22e" fill-opacity="0.5"/>
<circle cx="602.91" cy="307.96" r="1.2" fill="#78b22e" fill-opacity="0.5"/>
<circle cx="603.15" cy="313.26" r="1.2" fill="#78b22e" fill-opacity="0.5"/>
<circle cx="602.95" cy="312.98" r="1.2" fill="#78b22e" fill-opacity="0.5"/>
<circle cx="603.08" cy="309.23" r="1.2" fill="#78b22e" fill-opacity="0.5"/>
<circle cx="602.89" cy="311.8" r="1.2" fill="#78b22e" fill-opacity="0.5"/>
<circle cx="603.09" cy="306.61" r="1.2" fill="#78b22e" fill-opacity="0.5"/>
<circle cx="603.13" cy="302.87" r="1.2" fill="#78b22e" fill-opacity="0.5"/>
<circle cx="603.06" cy="311.9" r="1.2" fill="#78b22e" fill-opacity="0.5"/>
<circle cx="603.15" cy="310.72" r="1.2" fill="#78b22e" fill-opacity="0.5"/>
<circle cx="603.03" cy="304.81" r="1.2" fill="#78b22e" fill-opacity="0.5"/>
<circle cx="603.02" cy="315.44" r="1.2" fill="#78b22e" fill-opacity="0.5"/>
<path d="M598,303.5H603M600.5,303.5V311.5M598,311.5H603" stroke="#3c3c3c" stroke-width="1" fill="none"/>
<circle cx="600.8" cy="307.45" r="0.8" fill="#999"/>
<circle cx="613.97" cy="305.49" r="1.2" fill="#78b22e" fill-opacity="0.42"/>
<circle cx="614.01" cy="301" r="1.2" fill="#78b22e" fill-opacity="0.42"/>
<circle cx="614.29" cy="316.04" r="1.2" fill="#78b22e" fill-opacity="0.42"/>
<circle cx="614.42" cy="314.86" r="1.2" fill="#78b22e" fill-opacity="0.42"/>
<circle cx="614.4" cy="309.32" r="1.2" fill="#78b22e" fill-opacity="0.42"/>
<circle cx="614.14" cy="307.7" r="1.2" fill="#78b22e" fill-opacity="0.42"/>
<circle cx="614.38" cy="316.4" r="1.2" fill="#78b22e" fill-opacity="0.42"/>
<circle cx="614.17" cy="316.44" r="1.2" fill="#78b22e" fill-opacity="0.42"/>
<circle cx="614.13" cy="312.72" r="1.2" fill="#78b22e" fill-opacity="0.42"/>
<circle cx="614.39" cy="316.46" r="1.2" fill="#78b22e" fill-opacity="0.5"/>
<circle cx="614.4" cy="306.16" r="1.2" fill="#78b22e" fill-opacity="0.5"/>
<circle cx="613.98" cy="304.59" r="1.2" fill="#78b22e" fill-opacity="0.5"/>
<circle cx="614.08" cy="312.45" r="1.2" fill="#78b22e" fill-opacity="0.5"/>
<circle cx="614.25" cy="309.48" r="1.2" fill="#78b22e" fill-opacity="0.5"/>
<circle cx="614.3" cy="302.49" r="1.2" fill="#78b22e" fill-opacity="0.5"/>
<circle cx="614.15" cy="305.93" r="1.2" fill="#78b22e" fill-opacity="0.5"/>
<circle cx="614.3" cy="306.93" r="1.2" fill="#78b22e" fill-opacity="0.5"/>
<circle cx="614.07" cy="312.8" r="1.2" fill="#78b22e" fill-opacity="0.5"/>
<circle cx="614.08" cy="303.41" r="1.2" fill="#78b22e" fill-opacity="0.5"/>
<circle cx="613.97" cy="307.9" r="1.2" fill="#78b22e" fill-opacity="0.5"/>
<circle cx="614.31" cy="304.14" r="1.2" fill="#78b22e" fill-opacity="0.5"/>
<circle cx="614.42" cy="312.13" r="1.2" fill="#78b22e" fill-opacity="0.5"/>
<circle cx="614.37" cy="316.2" r="1.2" fill="#78b22e" fill-opacity="0.5"/>
<circle cx="614.01" cy="307.34" r="1.2" fill="#78b22e" fill-opacity="0.5"/>
<circle cx="614.16" cy="306.45" r="1.2" fill="#78b22e" fill-opacity="0.5"/>
<circle cx="614.2" cy="309.58" r="1.2" fill="#78b22e" fill-opacity="0.5"/>
<circle cx="614.36" cy="307.15" r="1.2" fill="#78b22e" fill-opacity="0.5"/>
<circle cx="614.16" cy="306.06" r="1.2" fill="#78b22e" fill-opacity="0.5"/>
<circle cx="614.33" cy="314.85" r="1.2" fill="#78b22e" fill-opacity="0.5"/>
<circle cx="614.05" cy="306.24" r="1.2" fill="#78b22e" fill-opacity="0.5"/>
<circle cx="613.94" cy="313.68" r="1.2" fill="#78b22e" fill-opacity="0.5"/>
<circle cx="614.2" cy="303.82" r="1.2" fill="#78b22e" fill-opacity="0.5"/>
<circle cx="614.01" cy="309.72" r="1.2" fill="#78b22e" fill-opacity="0.5"/>
<circle cx="614.03" cy="302.63" r="1.2" fill="#78b22e" fill-opacity="0.5"/>
<circle cx="614.16" cy="313.14" r="1.2" fill="#78b22e" fill-opacity="0.5"/>
<circle cx="614.32" cy="316.2" r="1.2" fill="#78b22e" fill-opacity="0.5"/>
<circle cx="613.95" cy="316.2" r="1.2" fill="#78b22e" fill-opacity="0.5"/>
<circle cx="613.94" cy="304.6" r="1.2" fill="#78b22e" fill-opacity="0.5"/>
<circle cx="614.1" cy="308.21" r="1.2" fill="#78b22e" fill-opacity="0.5"/>
<path d="M609,303.5H614M611.5,303.5V312.5M609,312.5H614" stroke="#3c3c3c" stroke-width="1" fill="none"/>
<circle cx="611.88" cy="307.75" r="0.8" fill="#999"/>
<circle cx="625.28" cy="300.28" r="1.2" fill="#78b22e" fill-opacity="0.42"/>
<circle cx="625.17" cy="301" r="1.2" fill="#78b22e" fill-opacity="0.42"/>
<circle cx="625.41" cy="303.63" r="1.2" fill="#78b22e" fill-opacity="0.42"/>
<circle cx="625.14" cy="306.55" r="1.2" fill="#78b22e" fill-opacity="0.42"/>
<circle cx="625.22" cy="300.15" r="1.2" fill="#78b22e" fill-opacity="0.42"/>
<circle cx="625.35" cy="310.13" r="1.2" fill="#78b22e" fill-opacity="0.42"/>
<circle cx="625.41" cy="315" r="1.2" fill="#78b22e" fill-opacity="0.42"/>
<circle cx="625.08" cy="303.63" r="1.2" fill="#78b22e" fill-opacity="0.42"/>
<circle cx="625.4" cy="312.37" r="1.2" fill="#78b22e" fill-opacity="0.42"/>
<circle cx="625.43" cy="309.8" r="1.2" fill="#78b22e" fill-opacity="0.5"/>
<circle cx="625.15" cy="310.3" r="1.2" fill="#78b22e" fill-opacity="0.5"/>
<circle cx="625.02" cy="305.86" r="1.2" fill="#78b22e" fill-opacity="0.5"/>
<circle cx="625.46" cy="311.36" r="1.2" fill="#78b22e" fill-opacity="0.5"/>
<circle cx="625.24" cy="314.41" r="1.2" fill="#78b22e" fill-opacity="0.5"/>
<circle cx="625.47" cy="311.62" r="1.2" fill="#78b22e" fill-opacity="0.5"/>
<circle cx="625.31" cy="313.34" r="1.2" fill="#78b22e" fill-opacity="0.5"/>
<circle cx="625.27" cy="308.71" r="1.2" fill="#78b22e" fill-opacity="0.5"/>
<circle cx="625.1" cy="305.88" r="1.2" fill="#78b22e" fill-opacity="0.5"/>
<circle cx="625.51" cy="311.83" r="1.2" fill="#78b22e" fill-opacity="0.5"/>
<circle cx="625.21" cy="310.25" r="1.2" fill="#78b22e" fill-opacity="0.5"/>
<circle cx="625.24" cy="307.98" r="1.2" fill="#78b22e" fill-opacity="0.5"/>
<circle cx="625.24" cy="313.21" r="1.2" fill="#78b22e" fill-opacity="0.5"/>
<circle cx="625.09" cy="315.03" r="1.2" fill="#78b22e" fill-opacity="0.5"/>
<circle cx="625.27" cy="307.55" r="1.2" fill="#78b22e" fill-opacity="0.5"/>
<circle cx="625.44" cy="308.68" r="1.2" fill="#78b22e" fill-opacity="0.5"/>
<circle cx="625.48" cy="313.5" r="1.2" fill="#78b22e" fill-opacity="0.5"/>
<circle cx="625.03" cy="311" r="1.2" fill="#78b22e" fill-opacity="0.5"/>
<circle cx="625.28" cy="310.56" r="1.2" fill="#78b22e" fill-opacity="0.5"/>
<circle cx="625.15" cy="309.56" r="1.2" fill="#78b22e" fill-opacity="0.5"/>
<circle cx="625.47" cy="312.13" r="1.2" fill="#78b22e" fill-opacity="0.5"/>
<circle cx="625.34" cy="305.09" r="1.2" fill="#78b22e" fill-opacity="0.5"/>
<circle cx="625.27" cy="308.21" r="1.2" fill="#78b22e" fill-opacity="0.5"/>
<circle cx="625.49" cy="314.29" r="1.2" fill="#78b22e" fill-opacity="0.5"/>
<circle cx="625.11" cy="311.37" r="1.2" fill="#78b22e" fill-opacity="0.5"/>
<circle cx="625.1" cy="314.58" r="1.2" fill="#78b22e" fill-opacity="0.5"/>
<circle cx="625.42" cy="308.35" r="1.2" fill="#78b22e" fill-opacity="0.5"/>
<circle cx="625.15" cy="307.57" r="1.2" fill="#78b22e" fill-opacity="0.5"/>
<circle cx="625.48" cy="314.92" r="1.2" fill="#78b22e" fill-opacity="0.5"/>
<circle cx="625.21" cy="307.58" r="1.2" fill="#78b22e" fill-opacity="0.5"/>
<path d="M620,305.5H625M622.5,305.5V312.5M620,312.5H625" stroke="#3c3c3c" stroke-width="1" fill="none"/>
<circle cx="622.96" cy="308.75" r="0.8" fill="#999"/>
<circle cx="636.16" cy="302.07" r="1.2" fill="#78b22e" fill-opacity="0.42"/>
<circle cx="636.58" cy="301.43" r="1.2" fill="#78b22e" fill-opacity="0.42"/>
<circle cx="636.2" cy="297.99" r="1.2" fill="#78b22e" fill-opacity="0.42"/>
<circle cx="636.13" cy="300.42" r="1.2" fill="#78b22e" fill-opacity="0.42"/>
<circle cx="636.46" cy="306.98" r="1.2" fill="#78b22e" fill-opacity="0.42"/>
<circle cx="636.41" cy="313.25" r="1.2" fill="#78b22e" fill-opacity="0.42"/>
<circle cx="636.09" cy="312.84" r="1.2" fill="#78b22e" fill-opacity="0.42"/>
<circle cx="636.57" cy="302.07" r="1.2" fill="#78b22e" fill-opacity="0.42"/>
<circle cx="636.22" cy="297.79" r="1.2" fill="#78b22e" fill-opacity="0.42"/>
<circle cx="636.22" cy="308.47" r="1.2" fill="#78b22e" fill-opacity="0.5"/>
<circle cx="636.11" cy="309.33" r="1.2" fill="#78b22e" fill-opacity="0.5"/>
<circle cx="636.57" cy="305.11" r="1.2" fill="#78b22e" fill-opacity="0.5"/>
<circle cx="636.54" cy="303.86" r="1.2" fill="#78b22e" fill-opacity="0.5"/>
<circle cx="636.59" cy="304.32" r="1.2" fill="#78b22e" fill-opacity="0.5"/>
<circle cx="636.41" cy="311.07" r="1.2" fill="#78b22e" fill-opacity="0.5"/>
<circle cx="636.12" cy="303.83" r="1.2" fill="#78b22e" fill-opacity="0.5"/>
<circle cx="636.18" cy="312.23" r="1.2" fill="#78b22e" fill-opacity="0.5"/>
<circle cx="636.5" cy="304.48" r="1.2" fill="#78b22e" fill-opacity="0.5"/>
<circle cx="636.11" cy="313.8" r="1.2" fill="#78b22e" fill-opacity="0.5"/>
<circle cx="636.36" cy="314.97" r="1.2" fill="#78b22e" fill-opacity="0.5"/>
<circle cx="636.14" cy="307.1" r="1.2" fill="#78b22e" fill-opacity="0.5"/>
<circle cx="636.58" cy="307.2" r="1.2" fill="#78b22e" fill-opacity="0.5"/>
<circle cx="636.16" cy="305.72" r="1.2" fill="#78b22e" fill-opacity="0.5"/>
<circle cx="636.15" cy="303.88" r="1.2" fill="#78b22e" fill-opacity="0.5"/>
<circle cx="636.55" cy="306.69" r="1.2" fill="#78b22e" fill-opacity="0.5"/>
<circle cx="636.19" cy="302.95" r="1.2" fill="#78b22e" fill-opacity="0.5"/>
<circle cx="636.59" cy="314.67" r="1.2" fill="#78b22e" fill-opacity="0.5"/>
<circle cx="636.21" cy="315.23" r="1.2" fill="#78b22e" fill-opacity="0.5"/>
<circle cx="636.57" cy="306.72" r="1.2" fill="#78b22e" fill-opacity="0.5"/>
<circle cx="636.44" cy="308.5" r="1.2" fill="#78b22e" fill-opacity="0.5"/>
<circle cx="636.1" cy="306.16" r="1.2" fill="#78b22e" fill-opacity="0.5"/>
<circle cx="636.46" cy="306.6" r="1.2" fill="#78b22e" fill-opacity="0.5"/>
<circle cx="636.37" cy="312.53" r="1.2" fill="#78b22e" fill-opacity="0.5"/>
<circle cx="636.36" cy="308.21" r="1.2" fill="#78b22e" fill-opacity="0.5"/>
<circle cx="636.36" cy="307.92" r="1.2" fill="#78b22e" fill-opacity="0.5"/>
<circle cx="636.19" cy="313.23" r="1.2" fill="#78b22e" fill-opacity="0.5"/>
<circle cx="636.56" cy="309.98" r="1.2" fill="#78b22e" fill-opacity="0.5"/>
<circle cx="636.18" cy="313.44" r="1.2" fill="#78b22e" fill-opacity="0.5"/>
<circle cx="636.51" cy="315" r="1.2" fill="#78b22e" fill-opacity="0.5"/>
<path d="M632,303.5H637M634.5,303.5V311.5M632,311.5H637" stroke="#3c3c3c" stroke-width="1" fill="none"/>
<circle cx="634.04" cy="307.45" r="0.8" fill="#999"/>
<circle cx="647.3" cy="299.04" r="1.2" fill="#78b22e" fill-opacity="0.42"/>
<circle cx="647.2" cy="299.66" r="1.2" fill="#78b22e" fill-opacity="0.42"/>
<circle cx="647.37" cy="313.71" r="1.2" fill="#78b22e" fill-opacity="0.42"/>
<circle cx="647.23" cy="311.8" r="1.2" fill="#78b22e" fill-opacity="0.42"/>
<circle cx="647.6" cy="296.25" r="1.2" fill="#78b22e" fill-opacity="0.42"/>
<circle cx="647.67" cy="310.37" r="1.2" fill="#78b22e" fill-opacity="0.42"/>
<circle cx="647.43" cy="308.41" r="1.2" fill="#78b22e" fill-opacity="0.42"/>
<circle cx="647.22" cy="309.87" r="1.2" fill="#78b22e" fill-opacity="0.42"/>
<circle cx="647.39" cy="305.78" r="1.2" fill="#78b22e" fill-opacity="0.42"/>
<circle cx="647.47" cy="304.05" r="1.2" fill="#78b22e" fill-opacity="0.5"/>
<circle cx="647.42" cy="305.93" r="1.2" fill="#78b22e" fill-opacity="0.5"/>
<circle cx="647.33" cy="306.46" r="1.2" fill="#78b22e" fill-opacity="0.5"/>
<circle cx="647.47" cy="306.3" r="1.2" fill="#78b22e" fill-opacity="0.5"/>
<circle cx="647.64" cy="312.89" r="1.2" fill="#78b22e" fill-opacity="0.5"/>
<circle cx="647.59" cy="311.64" r="1.2" fill="#78b22e" fill-opacity="0.5"/>
<circle cx="647.66" cy="305.54" r="1.2" fill="#78b22e" fill-opacity="0.5"/>
<circle cx="647.23" cy="305.36" r="1.2" fill="#78b22e" fill-opacity="0.5"/>
<circle cx="647.54" cy="307.81" r="1.2" fill="#78b22e" fill-opacity="0.5"/>
<circle cx="647.49" cy="306.11" r="1.2" fill="#78b22e" fill-opacity="0.5"/>
<circle cx="647.65" cy="305.49" r="1.2" fill="#78b22e" fill-opacity="0.5"/>
<circle cx="647.41" cy="307.3" r="1.2" fill="#78b22e" fill-opacity="0.5"/>
<circle cx="647.61" cy="308.13" r="1.2" fill="#78b22e" fill-opacity="0.5"/>
<circle cx="647.43" cy="312.96" r="1.2" fill="#78b22e" fill-opacity="0.5"/>
<circle cx="647.48" cy="307.18" r="1.2" fill="#78b22e" fill-opacity="0.5"/>
<circle cx="647.38" cy="303.23" r="1.2" fill="#78b22e" fill-opacity="0.5"/>
<circle cx="647.56" cy="311.48" r="1.2" fill="#78b22e" fill-opacity="0.5"/>
<circle cx="647.6" cy="303.13" r="1.2" fill="#78b22e" fill-opacity="0.5"/>
<circle cx="647.66" cy="306.57" r="1.2" fill="#78b22e" fill-opacity="0.5"/>
<circle cx="647.28" cy="306.39" r="1.2" fill="#78b22e" fill-opacity="0.5"/>
<circle cx="647.61" cy="308.32" r="1.2" fill="#78b22e" fill-opacity="0.5"/>
<circle cx="647.6" cy="307.07" r="1.2" fill="#78b22e" fill-opacity="0.5"/>
<circle cx="647.35" cy="310.04" r="1.2" fill="#78b22e" fill-opacity="0.5"/>
<circle cx="647.42" cy="305.69" r="1.2" fill="#78b22e" fill-opacity="0.5"/>
<circle cx="647.36" cy="306.73" r="1.2" fill="#78b22e" fill-opacity="0.5"/>
<circle cx="647.61" cy="309.41" r="1.2" fill="#78b22e" fill-opacity="0.5"/>
<circle cx="647.24" cy="308.69" r="1.2" fill="#78b22e" fill-opacity="0.5"/>
<circle cx="647.36" cy="304.83" r="1.2" fill="#78b22e" fill-opacity="0.5"/>
<circle cx="647.24" cy="309.02" r="1.2" fill="#78b22e" fill-opacity="0.5"/>
<circle cx="647.33" cy="303.36" r="1.2" fill="#78b22e" fill-opacity="0.5"/>
<path d="M643,304.5H648M645.5,304.5V312.5M643,312.5H648" stroke="#3c3c3c" stroke-width="1" fill="none"/>
<circle cx="645.12" cy="308.05" r="0.8" fill="#999"/>
<circle cx="658.26" cy="262.89" r="1.2" fill="#78b22e" fill-opacity="0.7"/>
<circle cx="658.71" cy="268.21" r="1.2" fill="#78b22e" fill-opacity="0.7"/>
<circle cx="658.62" cy="268.11" r="1.2" fill="#78b22e" fill-opacity="0.7"/>
<circle cx="658.67" cy="274.23" r="1.2" fill="#78b22e" fill-opacity="0.7"/>
<circle cx="658.47" cy="275.99" r="1.2" fill="#78b22e" fill-opacity="0.7"/>
<circle cx="658.31" cy="271.19" r="1.2" fill="#78b22e" fill-opacity="0.7"/>
<circle cx="658.44" cy="275.3" r="1.2" fill="#78b22e" fill-opacity="0.7"/>
<circle cx="658.7" cy="266.89" r="1.2" fill="#78b22e" fill-opacity="0.7"/>
<circle cx="658.34" cy="262.96" r="1.2" fill="#78b22e" fill-opacity="0.7"/>
<circle cx="658.55" cy="274.13" r="1.2" fill="#78b22e" fill-opacity="0.7"/>
<circle cx="658.26" cy="258.76" r="1.2" fill="#78b22e" fill-opacity="0.7"/>
<circle cx="658.25" cy="264.31" r="1.2" fill="#78b22e" fill-opacity="0.7"/>
<circle cx="658.34" cy="274.31" r="1.2" fill="#78b22e" fill-opacity="0.7"/>
<circle cx="658.44" cy="262.7" r="1.2" fill="#78b22e" fill-opacity="0.7"/>
<circle cx="658.47" cy="267.64" r="1.2" fill="#78b22e" fill-opacity="0.7"/>
<circle cx="658.58" cy="270.08" r="1.2" fill="#78b22e" fill-opacity="0.7"/>
<circle cx="658.3" cy="266.07" r="1.2" fill="#78b22e" fill-opacity="0.7"/>
<circle cx="658.6" cy="277.37" r="1.2" fill="#78b22e" fill-opacity="0.7"/>
<circle cx="658.47" cy="299.49" r="1.2" fill="#78b22e" fill-opacity="0.55"/>
<circle cx="658.75" cy="308.27" r="1.2" fill="#78b22e" fill-opacity="0.55"/>
<circle cx="658.25" cy="299.26" r="1.2" fill="#78b22e" fill-opacity="0.55"/>
<circle cx="658.46" cy="304.69" r="1.2" fill="#78b22e" fill-opacity="0.55"/>
<path d="M654,255.5H659M656.5,255.5V283.5M654,283.5H659" stroke="#3c3c3c" stroke-width="1" fill="none"/>
<circle cx="656.2" cy="269.15" r="0.8" fill="#999"/>
<g transform="translate(479.5,332) rotate(55)"><text x="0" y="0" font-family='"Liberation Serif", serif' font-size="12.6" fill="#333"><tspan font-style="italic">&#8467;</tspan><tspan font-size="8.4" dy="2.9">1</tspan><tspan font-size="8.4" dx="-3.4" dy="-8.2">(m)</tspan></text></g>
<g transform="translate(501.66,332) rotate(55)"><text x="0" y="0" font-family='"Liberation Serif", serif' font-size="12.6" fill="#333"><tspan font-style="italic">&#8467;</tspan><tspan font-size="8.4" dy="2.9">3</tspan><tspan font-size="8.4" dx="-3.4" dy="-8.2">(m)</tspan></text></g>
<g transform="translate(523.82,332) rotate(55)"><text x="0" y="0" font-family='"Liberation Serif", serif' font-size="12.6" fill="#333"><tspan font-style="italic">&#8467;</tspan><tspan font-size="8.4" dy="2.9">5</tspan><tspan font-size="8.4" dx="-3.4" dy="-8.2">(m)</tspan></text></g>
<g transform="translate(545.98,332) rotate(55)"><text x="0" y="0" font-family='"Liberation Serif", serif' font-size="12.6" fill="#333"><tspan font-style="italic">&#8467;</tspan><tspan font-size="8.4" dy="2.9">7</tspan><tspan font-size="8.4" dx="-3.4" dy="-8.2">(m)</tspan></text></g>
<g transform="translate(568.14,332) rotate(55)"><text x="0" y="0" font-family='"Liberation Serif", serif' font-size="12.6" fill="#333"><tspan font-style="italic">&#8467;</tspan><tspan font-size="8.4" dy="2.9">1</tspan><tspan font-size="8.4" dx="-3.4" dy="-8.2">(M)</tspan></text></g>
<g transform="translate(590.3,332) rotate(55)"><text x="0" y="0" font-family='"Liberation Serif", serif' font-size="12.6" fill="#333"><tspan font-style="italic">&#8467;</tspan><tspan font-size="8.4" dy="2.9">3</tspan><tspan font-size="8.4" dx="-3.4" dy="-8.2">(M)</tspan></text></g>
<g transform="translate(612.46,332) rotate(55)"><text x="0" y="0" font-family='"Liberation Serif", serif' font-size="12.6" fill="#333"><tspan font-style="italic">&#8467;</tspan><tspan font-size="8.4" dy="2.9">5</tspan><tspan font-size="8.4" dx="-3.4" dy="-8.2">(M)</tspan></text></g>
<g transform="translate(634.62,332) rotate(55)"><text x="0" y="0" font-family='"Liberation Serif", serif' font-size="12.6" fill="#333"><tspan font-style="italic">&#8467;</tspan><tspan font-size="8.4" dy="2.9">7</tspan><tspan font-size="8.4" dx="-3.4" dy="-8.2">(M)</tspan></text></g>
</svg>
</body></html>
